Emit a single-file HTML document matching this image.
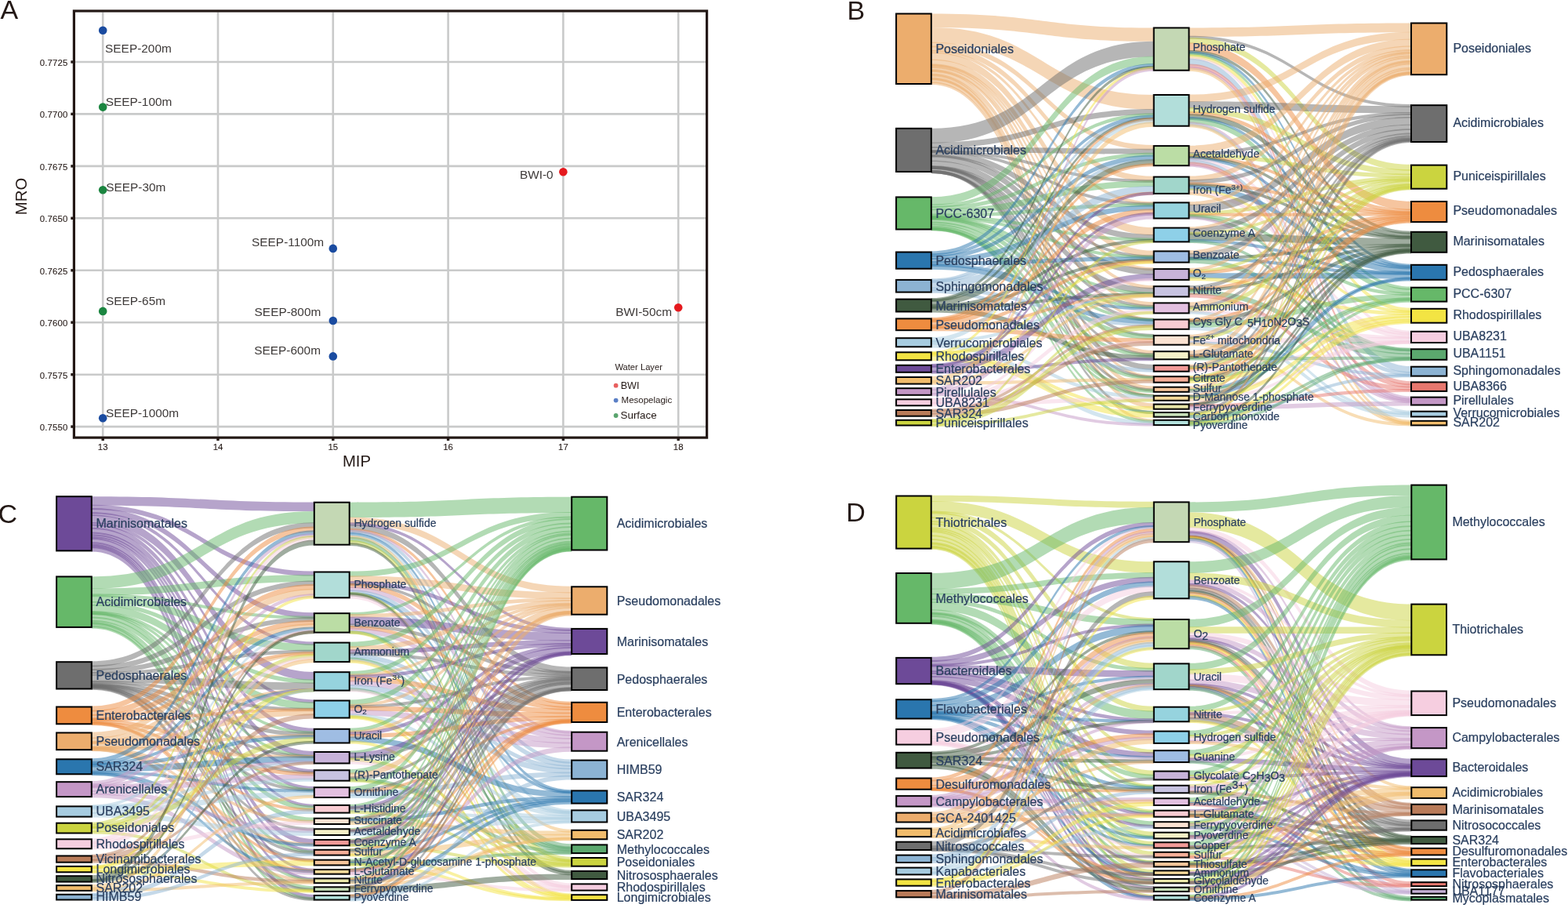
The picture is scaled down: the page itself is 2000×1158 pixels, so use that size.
<!DOCTYPE html>
<html><head><meta charset="utf-8"><title>Figure</title>
<style>html,body{margin:0;padding:0;background:#fff;} svg{display:block;} text{font-family:'Liberation Sans', Arial, Helvetica, sans-serif;}</style>
</head><body>
<svg width="2000" height="1158" viewBox="0 0 2000 1158">
<rect width="2000" height="1158" fill="#fff"/>
<line x1="131.2" y1="15.5" x2="131.2" y2="556.5" stroke="#C9CACA" stroke-width="2.6"/>
<line x1="278.0" y1="15.5" x2="278.0" y2="556.5" stroke="#C9CACA" stroke-width="2.6"/>
<line x1="424.8" y1="15.5" x2="424.8" y2="556.5" stroke="#C9CACA" stroke-width="2.6"/>
<line x1="571.6" y1="15.5" x2="571.6" y2="556.5" stroke="#C9CACA" stroke-width="2.6"/>
<line x1="718.4" y1="15.5" x2="718.4" y2="556.5" stroke="#C9CACA" stroke-width="2.6"/>
<line x1="865.2" y1="15.5" x2="865.2" y2="556.5" stroke="#C9CACA" stroke-width="2.6"/>
<line x1="96" y1="79.0" x2="900" y2="79.0" stroke="#C9CACA" stroke-width="2.6"/>
<line x1="96" y1="145.4" x2="900" y2="145.4" stroke="#C9CACA" stroke-width="2.6"/>
<line x1="96" y1="211.9" x2="900" y2="211.9" stroke="#C9CACA" stroke-width="2.6"/>
<line x1="96" y1="278.3" x2="900" y2="278.3" stroke="#C9CACA" stroke-width="2.6"/>
<line x1="96" y1="344.8" x2="900" y2="344.8" stroke="#C9CACA" stroke-width="2.6"/>
<line x1="96" y1="411.2" x2="900" y2="411.2" stroke="#C9CACA" stroke-width="2.6"/>
<line x1="96" y1="477.7" x2="900" y2="477.7" stroke="#C9CACA" stroke-width="2.6"/>
<line x1="96" y1="544.1" x2="900" y2="544.1" stroke="#C9CACA" stroke-width="2.6"/>
<rect x="94.4" y="14" width="807.2" height="544.1" fill="none" stroke="#231815" stroke-width="3.2"/>
<line x1="90.3" y1="79.0" x2="94" y2="79.0" stroke="#231815" stroke-width="3.4"/>
<text x="86.5" y="83.9" text-anchor="end" font-size="11.4" fill="#231815" stroke="#231815" stroke-width="0.1" letter-spacing="0.15">0.7725</text>
<line x1="90.3" y1="145.4" x2="94" y2="145.4" stroke="#231815" stroke-width="3.4"/>
<text x="86.5" y="150.3" text-anchor="end" font-size="11.4" fill="#231815" stroke="#231815" stroke-width="0.1" letter-spacing="0.15">0.7700</text>
<line x1="90.3" y1="211.9" x2="94" y2="211.9" stroke="#231815" stroke-width="3.4"/>
<text x="86.5" y="216.8" text-anchor="end" font-size="11.4" fill="#231815" stroke="#231815" stroke-width="0.1" letter-spacing="0.15">0.7675</text>
<line x1="90.3" y1="278.3" x2="94" y2="278.3" stroke="#231815" stroke-width="3.4"/>
<text x="86.5" y="283.2" text-anchor="end" font-size="11.4" fill="#231815" stroke="#231815" stroke-width="0.1" letter-spacing="0.15">0.7650</text>
<line x1="90.3" y1="344.8" x2="94" y2="344.8" stroke="#231815" stroke-width="3.4"/>
<text x="86.5" y="349.7" text-anchor="end" font-size="11.4" fill="#231815" stroke="#231815" stroke-width="0.1" letter-spacing="0.15">0.7625</text>
<line x1="90.3" y1="411.2" x2="94" y2="411.2" stroke="#231815" stroke-width="3.4"/>
<text x="86.5" y="416.1" text-anchor="end" font-size="11.4" fill="#231815" stroke="#231815" stroke-width="0.1" letter-spacing="0.15">0.7600</text>
<line x1="90.3" y1="477.7" x2="94" y2="477.7" stroke="#231815" stroke-width="3.4"/>
<text x="86.5" y="482.6" text-anchor="end" font-size="11.4" fill="#231815" stroke="#231815" stroke-width="0.1" letter-spacing="0.15">0.7575</text>
<line x1="90.3" y1="544.1" x2="94" y2="544.1" stroke="#231815" stroke-width="3.4"/>
<text x="86.5" y="549.0" text-anchor="end" font-size="11.4" fill="#231815" stroke="#231815" stroke-width="0.1" letter-spacing="0.15">0.7550</text>
<line x1="131.2" y1="558" x2="131.2" y2="562" stroke="#231815" stroke-width="3.4"/>
<text x="131.2" y="574.4" text-anchor="middle" font-size="11.4" fill="#231815" stroke="#231815" stroke-width="0.1">13</text>
<line x1="278.0" y1="558" x2="278.0" y2="562" stroke="#231815" stroke-width="3.4"/>
<text x="278.0" y="574.4" text-anchor="middle" font-size="11.4" fill="#231815" stroke="#231815" stroke-width="0.1">14</text>
<line x1="424.8" y1="558" x2="424.8" y2="562" stroke="#231815" stroke-width="3.4"/>
<text x="424.8" y="574.4" text-anchor="middle" font-size="11.4" fill="#231815" stroke="#231815" stroke-width="0.1">15</text>
<line x1="571.6" y1="558" x2="571.6" y2="562" stroke="#231815" stroke-width="3.4"/>
<text x="571.6" y="574.4" text-anchor="middle" font-size="11.4" fill="#231815" stroke="#231815" stroke-width="0.1">16</text>
<line x1="718.4" y1="558" x2="718.4" y2="562" stroke="#231815" stroke-width="3.4"/>
<text x="718.4" y="574.4" text-anchor="middle" font-size="11.4" fill="#231815" stroke="#231815" stroke-width="0.1">17</text>
<line x1="865.2" y1="558" x2="865.2" y2="562" stroke="#231815" stroke-width="3.4"/>
<text x="865.2" y="574.4" text-anchor="middle" font-size="11.4" fill="#231815" stroke="#231815" stroke-width="0.1">18</text>
<text x="455" y="594.6" text-anchor="middle" font-size="20.3" fill="#231815">MIP</text>
<text transform="translate(33.9,250.5) rotate(-90)" text-anchor="middle" font-size="20.3" fill="#231815">MRO</text>
<circle cx="131.2" cy="38.7" r="5.3" fill="#1A4BA0"/>
<circle cx="131.2" cy="136.6" r="5.3" fill="#1B8540"/>
<circle cx="131.2" cy="242.2" r="5.3" fill="#1B8540"/>
<circle cx="131.2" cy="396.9" r="5.3" fill="#1B8540"/>
<circle cx="131.2" cy="533.2" r="5.3" fill="#1A4BA0"/>
<circle cx="424.8" cy="316.9" r="5.3" fill="#1A4BA0"/>
<circle cx="424.8" cy="409.0" r="5.3" fill="#1A4BA0"/>
<circle cx="424.8" cy="454.4" r="5.3" fill="#1A4BA0"/>
<circle cx="718.4" cy="219.2" r="5.3" fill="#E5191E"/>
<circle cx="865.2" cy="392.2" r="5.3" fill="#E5191E"/>
<text x="134.1" y="66.6" text-anchor="start" font-size="15.4" fill="#3E3A39">SEEP-200m</text>
<text x="134.7" y="135.0" text-anchor="start" font-size="15.4" fill="#3E3A39">SEEP-100m</text>
<text x="135.3" y="243.8" text-anchor="start" font-size="15.4" fill="#3E3A39">SEEP-30m</text>
<text x="134.9" y="389.2" text-anchor="start" font-size="15.4" fill="#3E3A39">SEEP-65m</text>
<text x="134.9" y="532.3" text-anchor="start" font-size="15.4" fill="#3E3A39">SEEP-1000m</text>
<text x="413.2" y="313.6" text-anchor="end" font-size="15.4" fill="#3E3A39">SEEP-1100m</text>
<text x="409.3" y="402.8" text-anchor="end" font-size="15.4" fill="#3E3A39">SEEP-800m</text>
<text x="409.0" y="451.7" text-anchor="end" font-size="15.4" fill="#3E3A39">SEEP-600m</text>
<text x="705.7" y="228.0" text-anchor="end" font-size="15.4" fill="#3E3A39">BWI-0</text>
<text x="857.0" y="403.0" text-anchor="end" font-size="15.4" fill="#3E3A39">BWI-50cm</text>
<text x="784.4" y="471.6" font-size="11.2" fill="#231815">Water Layer</text>
<circle cx="785.6" cy="491.7" r="2.9" fill="#E8605F"/>
<circle cx="785.6" cy="510.6" r="2.9" fill="#5A7FC6"/>
<circle cx="785.6" cy="530.0" r="2.9" fill="#5AA46E"/>
<text x="791.7" y="495.6" font-size="12.6" fill="#231815">BWI</text>
<text x="792.6" y="514.1" font-size="11.5" fill="#231815">Mesopelagic</text>
<text x="791.5" y="533.5" font-size="13.4" fill="#231815">Surface</text>
<g fill-opacity="0.5" stroke-opacity="0.5" stroke-width="0">
<path d="M1187.8,17.50C1329.8,17.50 1329.8,35.50 1471.7,35.50L1471.7,52.87C1329.8,52.87 1329.8,35.12 1187.8,35.12Z" fill="#ECAD6D" stroke="#ECAD6D"/>
<path d="M1187.8,35.12C1329.8,35.12 1329.8,121.00 1471.7,121.00L1471.7,139.92C1329.8,139.92 1329.8,54.76 1187.8,54.76Z" fill="#ECAD6D" stroke="#ECAD6D"/>
<path d="M1187.8,53.75C1329.8,53.75 1329.8,185.07 1471.7,185.07L1471.7,191.62C1329.8,191.62 1329.8,60.40 1187.8,60.40Z" fill="#ECAD6D" stroke="#ECAD6D"/>
<path d="M1187.8,58.49C1329.8,58.49 1329.8,224.69 1471.7,224.69L1471.7,231.87C1329.8,231.87 1329.8,65.71 1187.8,65.71Z" fill="#ECAD6D" stroke="#ECAD6D"/>
<path d="M1187.8,63.70C1329.8,63.70 1329.8,257.30 1471.7,257.30L1471.7,261.36C1329.8,261.36 1329.8,67.92 1187.8,67.92Z" fill="#ECAD6D" stroke="#ECAD6D"/>
<path d="M1187.8,66.47C1329.8,66.47 1329.8,290.22 1471.7,290.22L1471.7,300.20C1329.8,300.20 1329.8,76.63 1187.8,76.63Z" fill="#ECAD6D" stroke="#ECAD6D"/>
<path d="M1187.8,75.60C1329.8,75.60 1329.8,319.71 1471.7,319.71L1471.7,328.05C1329.8,328.05 1329.8,84.01 1187.8,84.01Z" fill="#ECAD6D" stroke="#ECAD6D"/>
<path d="M1187.8,81.36C1329.8,81.36 1329.8,341.13 1471.7,341.13L1471.7,345.13C1329.8,345.13 1329.8,85.36 1187.8,85.36Z" fill="#ECAD6D" stroke="#ECAD6D"/>
<path d="M1187.8,82.30C1329.8,82.30 1329.8,364.10 1471.7,364.10L1471.7,368.71C1329.8,368.71 1329.8,87.02 1187.8,87.02Z" fill="#ECAD6D" stroke="#ECAD6D"/>
<path d="M1187.8,84.82C1329.8,84.82 1329.8,385.30 1471.7,385.30L1471.7,391.32C1329.8,391.32 1329.8,91.04 1187.8,91.04Z" fill="#ECAD6D" stroke="#ECAD6D"/>
<path d="M1187.8,88.08C1329.8,88.08 1329.8,405.63 1471.7,405.63L1471.7,409.63C1329.8,409.63 1329.8,92.08 1187.8,92.08Z" fill="#ECAD6D" stroke="#ECAD6D"/>
<path d="M1187.8,89.23C1329.8,89.23 1329.8,447.12 1471.7,447.12L1471.7,453.45C1329.8,453.45 1329.8,96.00 1187.8,96.00Z" fill="#ECAD6D" stroke="#ECAD6D"/>
<path d="M1187.8,93.55C1329.8,93.55 1329.8,478.67 1471.7,478.67L1471.7,482.67C1329.8,482.67 1329.8,97.55 1187.8,97.55Z" fill="#ECAD6D" stroke="#ECAD6D"/>
<path d="M1187.8,95.02C1329.8,95.02 1329.8,492.60 1471.7,492.60L1471.7,498.53C1329.8,498.53 1329.8,101.43 1187.8,101.43Z" fill="#ECAD6D" stroke="#ECAD6D"/>
<path d="M1187.8,98.55C1329.8,98.55 1329.8,502.86 1471.7,502.86L1471.7,506.86C1329.8,506.86 1329.8,102.55 1187.8,102.55Z" fill="#ECAD6D" stroke="#ECAD6D"/>
<path d="M1187.8,99.68C1329.8,99.68 1329.8,514.50 1471.7,514.50L1471.7,520.46C1329.8,520.46 1329.8,106.10 1187.8,106.10Z" fill="#ECAD6D" stroke="#ECAD6D"/>
<path d="M1187.8,103.95C1329.8,103.95 1329.8,534.65 1471.7,534.65L1471.7,538.65C1329.8,538.65 1329.8,108.10 1187.8,108.10Z" fill="#ECAD6D" stroke="#ECAD6D"/>
<path d="M1187.8,163.80C1329.8,163.80 1329.8,52.87 1471.7,52.87L1471.7,72.14C1329.8,72.14 1329.8,182.67 1187.8,182.67Z" fill="#6E6E6E" stroke="#6E6E6E"/>
<path d="M1187.8,181.76C1329.8,181.76 1329.8,139.01 1471.7,139.01L1471.7,146.18C1329.8,146.18 1329.8,188.94 1187.8,188.94Z" fill="#6E6E6E" stroke="#6E6E6E"/>
<path d="M1187.8,187.08C1329.8,187.08 1329.8,189.64 1471.7,189.64L1471.7,196.69C1329.8,196.69 1329.8,194.12 1187.8,194.12Z" fill="#6E6E6E" stroke="#6E6E6E"/>
<path d="M1187.8,191.18C1329.8,191.18 1329.8,228.95 1471.7,228.95L1471.7,232.95C1329.8,232.95 1329.8,195.18 1187.8,195.18Z" fill="#6E6E6E" stroke="#6E6E6E"/>
<path d="M1187.8,191.19C1329.8,191.19 1329.8,258.27 1471.7,258.27L1471.7,262.27C1329.8,262.27 1329.8,195.19 1187.8,195.19Z" fill="#6E6E6E" stroke="#6E6E6E"/>
<path d="M1187.8,192.33C1329.8,192.33 1329.8,298.94 1471.7,298.94L1471.7,306.37C1329.8,306.37 1329.8,199.72 1187.8,199.72Z" fill="#6E6E6E" stroke="#6E6E6E"/>
<path d="M1187.8,196.85C1329.8,196.85 1329.8,325.36 1471.7,325.36L1471.7,329.36C1329.8,329.36 1329.8,200.85 1187.8,200.85Z" fill="#6E6E6E" stroke="#6E6E6E"/>
<path d="M1187.8,198.09C1329.8,198.09 1329.8,342.43 1471.7,342.43L1471.7,350.56C1329.8,350.56 1329.8,206.11 1187.8,206.11Z" fill="#6E6E6E" stroke="#6E6E6E"/>
<path d="M1187.8,204.64C1329.8,204.64 1329.8,366.88 1471.7,366.88L1471.7,375.07C1329.8,375.07 1329.8,212.88 1187.8,212.88Z" fill="#6E6E6E" stroke="#6E6E6E"/>
<path d="M1187.8,210.90C1329.8,210.90 1329.8,388.93 1471.7,388.93L1471.7,392.93C1329.8,392.93 1329.8,214.90 1187.8,214.90Z" fill="#6E6E6E" stroke="#6E6E6E"/>
<path d="M1187.8,211.63C1329.8,211.63 1329.8,405.76 1471.7,405.76L1471.7,409.76C1329.8,409.76 1329.8,215.63 1187.8,215.63Z" fill="#6E6E6E" stroke="#6E6E6E"/>
<path d="M1187.8,211.63C1329.8,211.63 1329.8,425.90 1471.7,425.90L1471.7,429.90C1329.8,429.90 1329.8,215.63 1187.8,215.63Z" fill="#6E6E6E" stroke="#6E6E6E"/>
<path d="M1187.8,211.63C1329.8,211.63 1329.8,450.37 1471.7,450.37L1471.7,454.37C1329.8,454.37 1329.8,215.63 1187.8,215.63Z" fill="#6E6E6E" stroke="#6E6E6E"/>
<path d="M1187.8,212.72C1329.8,212.72 1329.8,464.98 1471.7,464.98L1471.7,472.11C1329.8,472.11 1329.8,219.90 1187.8,219.90Z" fill="#6E6E6E" stroke="#6E6E6E"/>
<path d="M1187.8,216.98C1329.8,216.98 1329.8,479.14 1471.7,479.14L1471.7,483.14C1329.8,483.14 1329.8,220.98 1187.8,220.98Z" fill="#6E6E6E" stroke="#6E6E6E"/>
<path d="M1187.8,216.99C1329.8,216.99 1329.8,495.44 1471.7,495.44L1471.7,499.44C1329.8,499.44 1329.8,220.99 1187.8,220.99Z" fill="#6E6E6E" stroke="#6E6E6E"/>
<path d="M1187.8,217.00C1329.8,217.00 1329.8,503.03 1471.7,503.03L1471.7,507.03C1329.8,507.03 1329.8,221.00 1187.8,221.00Z" fill="#6E6E6E" stroke="#6E6E6E"/>
<path d="M1187.8,217.00C1329.8,217.00 1329.8,524.00 1471.7,524.00L1471.7,528.00C1329.8,528.00 1329.8,221.00 1187.8,221.00Z" fill="#6E6E6E" stroke="#6E6E6E"/>
<path d="M1187.8,251.14C1329.8,251.14 1329.8,71.85 1471.7,71.85L1471.7,82.35C1329.8,82.35 1329.8,261.75 1187.8,261.75Z" fill="#66B869" stroke="#66B869"/>
<path d="M1187.8,260.38C1329.8,260.38 1329.8,144.16 1471.7,144.16L1471.7,148.79C1329.8,148.79 1329.8,265.11 1187.8,265.11Z" fill="#66B869" stroke="#66B869"/>
<path d="M1187.8,262.91C1329.8,262.91 1329.8,194.65 1471.7,194.65L1471.7,199.77C1329.8,199.77 1329.8,268.13 1187.8,268.13Z" fill="#66B869" stroke="#66B869"/>
<path d="M1187.8,266.28C1329.8,266.28 1329.8,230.19 1471.7,230.19L1471.7,238.17C1329.8,238.17 1329.8,274.32 1187.8,274.32Z" fill="#66B869" stroke="#66B869"/>
<path d="M1187.8,272.47C1329.8,272.47 1329.8,259.18 1471.7,259.18L1471.7,263.71C1329.8,263.71 1329.8,277.19 1187.8,277.19Z" fill="#66B869" stroke="#66B869"/>
<path d="M1187.8,274.25C1329.8,274.25 1329.8,303.65 1471.7,303.65L1471.7,307.65C1329.8,307.65 1329.8,278.25 1187.8,278.25Z" fill="#66B869" stroke="#66B869"/>
<path d="M1187.8,274.92C1329.8,274.92 1329.8,325.86 1471.7,325.86L1471.7,329.86C1329.8,329.86 1329.8,278.92 1187.8,278.92Z" fill="#66B869" stroke="#66B869"/>
<path d="M1187.8,275.44C1329.8,275.44 1329.8,372.36 1471.7,372.36L1471.7,376.36C1329.8,376.36 1329.8,279.44 1187.8,279.44Z" fill="#66B869" stroke="#66B869"/>
<path d="M1187.8,276.21C1329.8,276.21 1329.8,390.36 1471.7,390.36L1471.7,394.36C1329.8,394.36 1329.8,280.21 1187.8,280.21Z" fill="#66B869" stroke="#66B869"/>
<path d="M1187.8,277.10C1329.8,277.10 1329.8,405.88 1471.7,405.88L1471.7,409.88C1329.8,409.88 1329.8,281.10 1187.8,281.10Z" fill="#66B869" stroke="#66B869"/>
<path d="M1187.8,278.18C1329.8,278.18 1329.8,426.85 1471.7,426.85L1471.7,433.33C1329.8,433.33 1329.8,284.70 1187.8,284.70Z" fill="#66B869" stroke="#66B869"/>
<path d="M1187.8,282.56C1329.8,282.56 1329.8,451.28 1471.7,451.28L1471.7,455.73C1329.8,455.73 1329.8,287.35 1187.8,287.35Z" fill="#66B869" stroke="#66B869"/>
<path d="M1187.8,285.15C1329.8,285.15 1329.8,480.04 1471.7,480.04L1471.7,484.53C1329.8,484.53 1329.8,289.98 1187.8,289.98Z" fill="#66B869" stroke="#66B869"/>
<path d="M1187.8,287.78C1329.8,287.78 1329.8,496.34 1471.7,496.34L1471.7,500.90C1329.8,500.90 1329.8,292.69 1187.8,292.69Z" fill="#66B869" stroke="#66B869"/>
<path d="M1187.8,289.74C1329.8,289.74 1329.8,503.15 1471.7,503.15L1471.7,507.15C1329.8,507.15 1329.8,293.74 1187.8,293.74Z" fill="#66B869" stroke="#66B869"/>
<path d="M1187.8,290.00C1329.8,290.00 1329.8,524.11 1471.7,524.11L1471.7,528.11C1329.8,528.11 1329.8,294.00 1187.8,294.00Z" fill="#66B869" stroke="#66B869"/>
<path d="M1187.8,290.31C1329.8,290.31 1329.8,535.67 1471.7,535.67L1471.7,539.67C1329.8,539.67 1329.8,294.31 1187.8,294.31Z" fill="#66B869" stroke="#66B869"/>
<path d="M1187.8,320.40C1329.8,320.40 1329.8,80.96 1471.7,80.96L1471.7,86.33C1329.8,86.33 1329.8,325.52 1187.8,325.52Z" fill="#2A76AE" stroke="#2A76AE"/>
<path d="M1187.8,323.32C1329.8,323.32 1329.8,146.59 1471.7,146.59L1471.7,151.21C1329.8,151.21 1329.8,327.80 1187.8,327.80Z" fill="#2A76AE" stroke="#2A76AE"/>
<path d="M1187.8,325.60C1329.8,325.60 1329.8,197.57 1471.7,197.57L1471.7,203.18C1329.8,203.18 1329.8,331.00 1187.8,331.00Z" fill="#2A76AE" stroke="#2A76AE"/>
<path d="M1187.8,328.88C1329.8,328.88 1329.8,261.60 1471.7,261.60L1471.7,268.28C1329.8,268.28 1329.8,335.49 1187.8,335.49Z" fill="#2A76AE" stroke="#2A76AE"/>
<path d="M1187.8,333.37C1329.8,333.37 1329.8,327.25 1471.7,327.25L1471.7,332.44C1329.8,332.44 1329.8,338.31 1187.8,338.31Z" fill="#2A76AE" stroke="#2A76AE"/>
<path d="M1187.8,335.90C1329.8,335.90 1329.8,391.79 1471.7,391.79L1471.7,395.79C1329.8,395.79 1329.8,339.90 1187.8,339.90Z" fill="#2A76AE" stroke="#2A76AE"/>
<path d="M1187.8,337.50C1329.8,337.50 1329.8,406.93 1471.7,406.93L1471.7,413.32C1329.8,413.32 1329.8,343.78 1187.8,343.78Z" fill="#2A76AE" stroke="#2A76AE"/>
<path d="M1187.8,355.36C1329.8,355.36 1329.8,148.60 1471.7,148.60L1471.7,152.60C1329.8,152.60 1329.8,359.36 1187.8,359.36Z" fill="#8CB3D3" stroke="#8CB3D3"/>
<path d="M1187.8,356.71C1329.8,356.71 1329.8,200.98 1471.7,200.98L1471.7,205.13C1329.8,205.13 1329.8,360.73 1187.8,360.73Z" fill="#8CB3D3" stroke="#8CB3D3"/>
<path d="M1187.8,359.09C1329.8,359.09 1329.8,236.97 1471.7,236.97L1471.7,246.62C1329.8,246.62 1329.8,368.21 1187.8,368.21Z" fill="#8CB3D3" stroke="#8CB3D3"/>
<path d="M1187.8,366.56C1329.8,366.56 1329.8,411.15 1471.7,411.15L1471.7,416.00C1329.8,416.00 1329.8,371.31 1187.8,371.31Z" fill="#8CB3D3" stroke="#8CB3D3"/>
<path d="M1187.8,369.11C1329.8,369.11 1329.8,470.08 1471.7,470.08L1471.7,474.80C1329.8,474.80 1329.8,373.70 1187.8,373.70Z" fill="#8CB3D3" stroke="#8CB3D3"/>
<path d="M1187.8,380.12C1329.8,380.12 1329.8,83.73 1471.7,83.73L1471.7,87.73C1329.8,87.73 1329.8,384.12 1187.8,384.12Z" fill="#405A40" stroke="#405A40"/>
<path d="M1187.8,381.02C1329.8,381.02 1329.8,149.45 1471.7,149.45L1471.7,153.45C1329.8,153.45 1329.8,385.02 1187.8,385.02Z" fill="#405A40" stroke="#405A40"/>
<path d="M1187.8,382.52C1329.8,382.52 1329.8,203.10 1471.7,203.10L1471.7,210.18C1329.8,210.18 1329.8,389.84 1187.8,389.84Z" fill="#405A40" stroke="#405A40"/>
<path d="M1187.8,387.85C1329.8,387.85 1329.8,304.71 1471.7,304.71L1471.7,308.91C1329.8,308.91 1329.8,392.16 1187.8,392.16Z" fill="#405A40" stroke="#405A40"/>
<path d="M1187.8,389.31C1329.8,389.31 1329.8,329.58 1471.7,329.58L1471.7,333.58C1329.8,333.58 1329.8,393.31 1187.8,393.31Z" fill="#405A40" stroke="#405A40"/>
<path d="M1187.8,390.46C1329.8,390.46 1329.8,373.25 1471.7,373.25L1471.7,377.25C1329.8,377.25 1329.8,394.53 1187.8,394.53Z" fill="#405A40" stroke="#405A40"/>
<path d="M1187.8,392.34C1329.8,392.34 1329.8,453.53 1471.7,453.53L1471.7,459.18C1329.8,459.18 1329.8,398.59 1187.8,398.59Z" fill="#405A40" stroke="#405A40"/>
<path d="M1187.8,404.79C1329.8,404.79 1329.8,150.18 1471.7,150.18L1471.7,154.18C1329.8,154.18 1329.8,408.79 1187.8,408.79Z" fill="#EE8C3F" stroke="#EE8C3F"/>
<path d="M1187.8,406.08C1329.8,406.08 1329.8,208.15 1471.7,208.15L1471.7,212.30C1329.8,212.30 1329.8,410.31 1187.8,410.31Z" fill="#EE8C3F" stroke="#EE8C3F"/>
<path d="M1187.8,407.50C1329.8,407.50 1329.8,244.46 1471.7,244.46L1471.7,248.46C1329.8,248.46 1329.8,411.50 1187.8,411.50Z" fill="#EE8C3F" stroke="#EE8C3F"/>
<path d="M1187.8,408.84C1329.8,408.84 1329.8,266.27 1471.7,266.27L1471.7,272.97C1329.8,272.97 1329.8,415.85 1187.8,415.85Z" fill="#EE8C3F" stroke="#EE8C3F"/>
<path d="M1187.8,413.81C1329.8,413.81 1329.8,330.71 1471.7,330.71L1471.7,335.50C1329.8,335.50 1329.8,418.65 1187.8,418.65Z" fill="#EE8C3F" stroke="#EE8C3F"/>
<path d="M1187.8,415.59C1329.8,415.59 1329.8,374.15 1471.7,374.15L1471.7,378.15C1329.8,378.15 1329.8,419.59 1187.8,419.59Z" fill="#EE8C3F" stroke="#EE8C3F"/>
<path d="M1187.8,416.52C1329.8,416.52 1329.8,431.18 1471.7,431.18L1471.7,436.89C1329.8,436.89 1329.8,422.30 1187.8,422.30Z" fill="#EE8C3F" stroke="#EE8C3F"/>
<path d="M1187.8,430.10C1329.8,430.10 1329.8,151.45 1471.7,151.45L1471.7,157.37C1329.8,157.37 1329.8,436.27 1187.8,436.27Z" fill="#A7CCE0" stroke="#A7CCE0"/>
<path d="M1187.8,433.41C1329.8,433.41 1329.8,374.41 1471.7,374.41L1471.7,378.41C1329.8,378.41 1329.8,437.41 1187.8,437.41Z" fill="#A7CCE0" stroke="#A7CCE0"/>
<path d="M1187.8,434.55C1329.8,434.55 1329.8,504.18 1471.7,504.18L1471.7,508.78C1329.8,508.78 1329.8,439.58 1187.8,439.58Z" fill="#A7CCE0" stroke="#A7CCE0"/>
<path d="M1187.8,437.38C1329.8,437.38 1329.8,536.74 1471.7,536.74L1471.7,542.17C1329.8,542.17 1329.8,443.40 1187.8,443.40Z" fill="#A7CCE0" stroke="#A7CCE0"/>
<path d="M1187.8,448.06C1329.8,448.06 1329.8,84.97 1471.7,84.97L1471.7,88.97C1329.8,88.97 1329.8,452.06 1187.8,452.06Z" fill="#F3E443" stroke="#F3E443"/>
<path d="M1187.8,448.92C1329.8,448.92 1329.8,332.50 1471.7,332.50L1471.7,336.50C1329.8,336.50 1329.8,452.92 1187.8,452.92Z" fill="#F3E443" stroke="#F3E443"/>
<path d="M1187.8,449.03C1329.8,449.03 1329.8,374.64 1471.7,374.64L1471.7,378.64C1329.8,378.64 1329.8,453.03 1187.8,453.03Z" fill="#F3E443" stroke="#F3E443"/>
<path d="M1187.8,449.94C1329.8,449.94 1329.8,518.26 1471.7,518.26L1471.7,522.80C1329.8,522.80 1329.8,454.84 1187.8,454.84Z" fill="#F3E443" stroke="#F3E443"/>
<path d="M1187.8,452.86C1329.8,452.86 1329.8,525.33 1471.7,525.33L1471.7,532.60C1329.8,532.60 1329.8,460.19 1187.8,460.19Z" fill="#F3E443" stroke="#F3E443"/>
<path d="M1187.8,463.88C1329.8,463.88 1329.8,244.82 1471.7,244.82L1471.7,248.82C1329.8,248.82 1329.8,467.88 1187.8,467.88Z" fill="#6D4A98" stroke="#6D4A98"/>
<path d="M1187.8,464.87C1329.8,464.87 1329.8,270.82 1471.7,270.82L1471.7,274.82C1329.8,274.82 1329.8,468.90 1187.8,468.90Z" fill="#6D4A98" stroke="#6D4A98"/>
<path d="M1187.8,467.07C1329.8,467.07 1329.8,349.10 1471.7,349.10L1471.7,357.23C1329.8,357.23 1329.8,475.27 1187.8,475.27Z" fill="#6D4A98" stroke="#6D4A98"/>
<path d="M1187.8,472.68C1329.8,472.68 1329.8,456.19 1471.7,456.19L1471.7,460.19C1329.8,460.19 1329.8,476.68 1187.8,476.68Z" fill="#6D4A98" stroke="#6D4A98"/>
<path d="M1187.8,480.00C1329.8,480.00 1329.8,155.23 1471.7,155.23L1471.7,161.74C1329.8,161.74 1329.8,486.73 1187.8,486.73Z" fill="#F1BC6C" stroke="#F1BC6C"/>
<path d="M1187.8,484.63C1329.8,484.63 1329.8,375.53 1471.7,375.53L1471.7,379.53C1329.8,379.53 1329.8,488.71 1187.8,488.71Z" fill="#F1BC6C" stroke="#F1BC6C"/>
<path d="M1187.8,486.51C1329.8,486.51 1329.8,482.28 1471.7,482.28L1471.7,486.28C1329.8,486.28 1329.8,490.70 1187.8,490.70Z" fill="#F1BC6C" stroke="#F1BC6C"/>
<path d="M1187.8,494.10C1329.8,494.10 1329.8,86.61 1471.7,86.61L1471.7,90.80C1329.8,90.80 1329.8,498.36 1187.8,498.36Z" fill="#C497C6" stroke="#C497C6"/>
<path d="M1187.8,496.34C1329.8,496.34 1329.8,272.68 1471.7,272.68L1471.7,279.48C1329.8,279.48 1329.8,503.51 1187.8,503.51Z" fill="#C497C6" stroke="#C497C6"/>
<path d="M1187.8,501.20C1329.8,501.20 1329.8,539.59 1471.7,539.59L1471.7,543.59C1329.8,543.59 1329.8,505.20 1187.8,505.20Z" fill="#C497C6" stroke="#C497C6"/>
<path d="M1187.8,507.51C1329.8,507.51 1329.8,354.70 1471.7,354.70L1471.7,358.70C1329.8,358.70 1329.8,511.51 1187.8,511.51Z" fill="#F6CEE0" stroke="#F6CEE0"/>
<path d="M1187.8,508.62C1329.8,508.62 1329.8,393.41 1471.7,393.41L1471.7,399.28C1329.8,399.28 1329.8,514.80 1187.8,514.80Z" fill="#F6CEE0" stroke="#F6CEE0"/>
<path d="M1187.8,511.91C1329.8,511.91 1329.8,433.99 1471.7,433.99L1471.7,437.99C1329.8,437.99 1329.8,515.91 1187.8,515.91Z" fill="#F6CEE0" stroke="#F6CEE0"/>
<path d="M1187.8,513.02C1329.8,513.02 1329.8,506.58 1471.7,506.58L1471.7,511.47C1329.8,511.47 1329.8,518.40 1187.8,518.40Z" fill="#F6CEE0" stroke="#F6CEE0"/>
<path d="M1187.8,521.56C1329.8,521.56 1329.8,413.42 1471.7,413.42L1471.7,417.42C1329.8,417.42 1329.8,525.56 1187.8,525.56Z" fill="#B97B59" stroke="#B97B59"/>
<path d="M1187.8,523.01C1329.8,523.01 1329.8,435.09 1471.7,435.09L1471.7,440.80C1329.8,440.80 1329.8,528.80 1187.8,528.80Z" fill="#B97B59" stroke="#B97B59"/>
<path d="M1187.8,526.60C1329.8,526.60 1329.8,484.02 1471.7,484.02L1471.7,488.80C1329.8,488.80 1329.8,531.80 1187.8,531.80Z" fill="#B97B59" stroke="#B97B59"/>
<path d="M1187.8,534.11C1329.8,534.11 1329.8,306.10 1471.7,306.10L1471.7,310.10C1329.8,310.10 1329.8,538.11 1187.8,538.11Z" fill="#CBD43F" stroke="#CBD43F"/>
<path d="M1187.8,535.09C1329.8,535.09 1329.8,396.79 1471.7,396.79L1471.7,400.79C1329.8,400.79 1329.8,539.09 1187.8,539.09Z" fill="#CBD43F" stroke="#CBD43F"/>
<path d="M1187.8,536.69C1329.8,536.69 1329.8,414.84 1471.7,414.84L1471.7,420.90C1329.8,420.90 1329.8,543.06 1187.8,543.06Z" fill="#CBD43F" stroke="#CBD43F"/>
<path d="M1187.8,540.24C1329.8,540.24 1329.8,508.58 1471.7,508.58L1471.7,512.58C1329.8,512.58 1329.8,544.24 1187.8,544.24Z" fill="#CBD43F" stroke="#CBD43F"/>
<path d="M1516.5,35.43C1658.2,35.43 1658.2,29.47 1800.0,29.47L1800.0,41.30C1658.2,41.30 1658.2,47.03 1516.5,47.03Z" fill="#ECAD6D" stroke="#ECAD6D"/>
<path d="M1516.5,45.69C1658.2,45.69 1658.2,132.95 1800.0,132.95L1800.0,136.95C1658.2,136.95 1658.2,49.69 1516.5,49.69Z" fill="#6E6E6E" stroke="#6E6E6E"/>
<path d="M1516.5,47.63C1658.2,47.63 1658.2,209.83 1800.0,209.83L1800.0,217.79C1658.2,217.79 1658.2,55.48 1516.5,55.48Z" fill="#CBD43F" stroke="#CBD43F"/>
<path d="M1516.5,54.47C1658.2,54.47 1658.2,256.82 1800.0,256.82L1800.0,267.89C1658.2,267.89 1658.2,65.29 1516.5,65.29Z" fill="#EE8C3F" stroke="#EE8C3F"/>
<path d="M1516.5,63.88C1658.2,63.88 1658.2,294.65 1800.0,294.65L1800.0,298.65C1658.2,298.65 1658.2,67.88 1516.5,67.88Z" fill="#405A40" stroke="#405A40"/>
<path d="M1516.5,65.52C1658.2,65.52 1658.2,336.67 1800.0,336.67L1800.0,340.67C1658.2,340.67 1658.2,69.52 1516.5,69.52Z" fill="#2A76AE" stroke="#2A76AE"/>
<path d="M1516.5,67.26C1658.2,67.26 1658.2,365.60 1800.0,365.60L1800.0,369.87C1658.2,369.87 1658.2,71.42 1516.5,71.42Z" fill="#66B869" stroke="#66B869"/>
<path d="M1516.5,69.22C1658.2,69.22 1658.2,392.70 1800.0,392.70L1800.0,397.97C1658.2,397.97 1658.2,74.35 1516.5,74.35Z" fill="#F3E443" stroke="#F3E443"/>
<path d="M1516.5,72.15C1658.2,72.15 1658.2,421.70 1800.0,421.70L1800.0,425.94C1658.2,425.94 1658.2,76.31 1516.5,76.31Z" fill="#F6CEE0" stroke="#F6CEE0"/>
<path d="M1516.5,74.57C1658.2,74.57 1658.2,467.07 1800.0,467.07L1800.0,475.73C1658.2,475.73 1658.2,83.19 1516.5,83.19Z" fill="#8CB3D3" stroke="#8CB3D3"/>
<path d="M1516.5,81.45C1658.2,81.45 1658.2,486.30 1800.0,486.30L1800.0,491.52C1658.2,491.52 1658.2,86.59 1516.5,86.59Z" fill="#E8786F" stroke="#E8786F"/>
<path d="M1516.5,84.39C1658.2,84.39 1658.2,505.50 1800.0,505.50L1800.0,509.75C1658.2,509.75 1658.2,88.55 1516.5,88.55Z" fill="#C497C6" stroke="#C497C6"/>
<path d="M1516.5,86.35C1658.2,86.35 1658.2,535.70 1800.0,535.70L1800.0,540.23C1658.2,540.23 1658.2,90.80 1516.5,90.80Z" fill="#F1BC6C" stroke="#F1BC6C"/>
<path d="M1516.5,120.55C1658.2,120.55 1658.2,40.84 1800.0,40.84L1800.0,50.62C1658.2,50.62 1658.2,130.15 1516.5,130.15Z" fill="#ECAD6D" stroke="#ECAD6D"/>
<path d="M1516.5,129.18C1658.2,129.18 1658.2,135.19 1800.0,135.19L1800.0,144.53C1658.2,144.53 1658.2,138.42 1516.5,138.42Z" fill="#6E6E6E" stroke="#6E6E6E"/>
<path d="M1516.5,137.01C1658.2,137.01 1658.2,216.15 1800.0,216.15L1800.0,223.54C1658.2,223.54 1658.2,144.29 1516.5,144.29Z" fill="#CBD43F" stroke="#CBD43F"/>
<path d="M1516.5,142.30C1658.2,142.30 1658.2,266.61 1800.0,266.61L1800.0,271.69C1658.2,271.69 1658.2,147.29 1516.5,147.29Z" fill="#EE8C3F" stroke="#EE8C3F"/>
<path d="M1516.5,145.15C1658.2,145.15 1658.2,296.48 1800.0,296.48L1800.0,303.10C1658.2,303.10 1658.2,151.63 1516.5,151.63Z" fill="#405A40" stroke="#405A40"/>
<path d="M1516.5,149.11C1658.2,149.11 1658.2,338.10 1800.0,338.10L1800.0,342.10C1658.2,342.10 1658.2,153.11 1516.5,153.11Z" fill="#2A76AE" stroke="#2A76AE"/>
<path d="M1516.5,150.65C1658.2,150.65 1658.2,367.81 1800.0,367.81L1800.0,374.80C1658.2,374.80 1658.2,157.44 1516.5,157.44Z" fill="#66B869" stroke="#66B869"/>
<path d="M1516.5,155.35C1658.2,155.35 1658.2,507.55 1800.0,507.55L1800.0,511.63C1658.2,511.63 1658.2,159.35 1516.5,159.35Z" fill="#C497C6" stroke="#C497C6"/>
<path d="M1516.5,157.06C1658.2,157.06 1658.2,523.57 1800.0,523.57L1800.0,527.57C1658.2,527.57 1658.2,161.06 1516.5,161.06Z" fill="#A7CCE0" stroke="#A7CCE0"/>
<path d="M1516.5,158.29C1658.2,158.29 1658.2,537.56 1800.0,537.56L1800.0,541.56C1658.2,541.56 1658.2,162.29 1516.5,162.29Z" fill="#F1BC6C" stroke="#F1BC6C"/>
<path d="M1516.5,185.69C1658.2,185.69 1658.2,49.82 1800.0,49.82L1800.0,59.82C1658.2,59.82 1658.2,195.51 1516.5,195.51Z" fill="#ECAD6D" stroke="#ECAD6D"/>
<path d="M1516.5,194.00C1658.2,194.00 1658.2,142.93 1800.0,142.93L1800.0,147.12C1658.2,147.12 1658.2,198.16 1516.5,198.16Z" fill="#6E6E6E" stroke="#6E6E6E"/>
<path d="M1516.5,195.96C1658.2,195.96 1658.2,221.57 1800.0,221.57L1800.0,226.84C1658.2,226.84 1658.2,201.16 1516.5,201.16Z" fill="#CBD43F" stroke="#CBD43F"/>
<path d="M1516.5,198.33C1658.2,198.33 1658.2,268.87 1800.0,268.87L1800.0,272.87C1658.2,272.87 1658.2,202.33 1516.5,202.33Z" fill="#EE8C3F" stroke="#EE8C3F"/>
<path d="M1516.5,198.80C1658.2,198.80 1658.2,300.29 1800.0,300.29L1800.0,304.29C1658.2,304.29 1658.2,202.80 1516.5,202.80Z" fill="#405A40" stroke="#405A40"/>
<path d="M1516.5,199.75C1658.2,199.75 1658.2,339.45 1800.0,339.45L1800.0,343.45C1658.2,343.45 1658.2,203.75 1516.5,203.75Z" fill="#2A76AE" stroke="#2A76AE"/>
<path d="M1516.5,201.40C1658.2,201.40 1658.2,423.74 1800.0,423.74L1800.0,428.03C1658.2,428.03 1658.2,205.60 1516.5,205.60Z" fill="#F6CEE0" stroke="#F6CEE0"/>
<path d="M1516.5,203.40C1658.2,203.40 1658.2,474.00 1800.0,474.00L1800.0,479.22C1658.2,479.22 1658.2,208.60 1516.5,208.60Z" fill="#8CB3D3" stroke="#8CB3D3"/>
<path d="M1516.5,206.40C1658.2,206.40 1658.2,489.32 1800.0,489.32L1800.0,494.61C1658.2,494.61 1658.2,211.60 1516.5,211.60Z" fill="#E8786F" stroke="#E8786F"/>
<path d="M1516.5,208.85C1658.2,208.85 1658.2,508.89 1800.0,508.89L1800.0,512.89C1658.2,512.89 1658.2,212.85 1516.5,212.85Z" fill="#C497C6" stroke="#C497C6"/>
<path d="M1516.5,224.58C1658.2,224.58 1658.2,58.44 1800.0,58.44L1800.0,65.16C1658.2,65.16 1658.2,231.22 1516.5,231.22Z" fill="#ECAD6D" stroke="#ECAD6D"/>
<path d="M1516.5,229.10C1658.2,229.10 1658.2,144.92 1800.0,144.92L1800.0,150.47C1658.2,150.47 1658.2,234.60 1516.5,234.60Z" fill="#6E6E6E" stroke="#6E6E6E"/>
<path d="M1516.5,232.40C1658.2,232.40 1658.2,270.05 1800.0,270.05L1800.0,274.31C1658.2,274.31 1658.2,236.60 1516.5,236.60Z" fill="#EE8C3F" stroke="#EE8C3F"/>
<path d="M1516.5,234.28C1658.2,234.28 1658.2,301.30 1800.0,301.30L1800.0,305.30C1658.2,305.30 1658.2,238.28 1516.5,238.28Z" fill="#405A40" stroke="#405A40"/>
<path d="M1516.5,236.05C1658.2,236.05 1658.2,341.27 1800.0,341.27L1800.0,348.17C1658.2,348.17 1658.2,242.78 1516.5,242.78Z" fill="#2A76AE" stroke="#2A76AE"/>
<path d="M1516.5,240.53C1658.2,240.53 1658.2,395.66 1800.0,395.66L1800.0,399.66C1658.2,399.66 1658.2,244.53 1516.5,244.53Z" fill="#F3E443" stroke="#F3E443"/>
<path d="M1516.5,242.18C1658.2,242.18 1658.2,425.83 1800.0,425.83L1800.0,431.39C1658.2,431.39 1658.2,247.59 1516.5,247.59Z" fill="#F6CEE0" stroke="#F6CEE0"/>
<path d="M1516.5,244.70C1658.2,244.70 1658.2,538.20 1800.0,538.20L1800.0,542.20C1658.2,542.20 1658.2,248.70 1516.5,248.70Z" fill="#F1BC6C" stroke="#F1BC6C"/>
<path d="M1516.5,257.30C1658.2,257.30 1658.2,63.06 1800.0,63.06L1800.0,67.93C1658.2,67.93 1658.2,262.10 1516.5,262.10Z" fill="#ECAD6D" stroke="#ECAD6D"/>
<path d="M1516.5,260.73C1658.2,260.73 1658.2,149.12 1800.0,149.12L1800.0,159.79C1658.2,159.79 1658.2,271.27 1516.5,271.27Z" fill="#6E6E6E" stroke="#6E6E6E"/>
<path d="M1516.5,269.90C1658.2,269.90 1658.2,224.64 1800.0,224.64L1800.0,229.51C1658.2,229.51 1658.2,274.70 1516.5,274.70Z" fill="#CBD43F" stroke="#CBD43F"/>
<path d="M1516.5,271.89C1658.2,271.89 1658.2,271.51 1800.0,271.51L1800.0,275.51C1658.2,275.51 1658.2,275.89 1516.5,275.89Z" fill="#EE8C3F" stroke="#EE8C3F"/>
<path d="M1516.5,273.08C1658.2,273.08 1658.2,372.74 1800.0,372.74L1800.0,377.07C1658.2,377.07 1658.2,277.29 1516.5,277.29Z" fill="#66B869" stroke="#66B869"/>
<path d="M1516.5,274.50C1658.2,274.50 1658.2,443.63 1800.0,443.63L1800.0,447.63C1658.2,447.63 1658.2,278.50 1516.5,278.50Z" fill="#5BA86E" stroke="#5BA86E"/>
<path d="M1516.5,275.65C1658.2,275.65 1658.2,510.15 1800.0,510.15L1800.0,514.15C1658.2,514.15 1658.2,279.65 1516.5,279.65Z" fill="#C497C6" stroke="#C497C6"/>
<path d="M1516.5,289.25C1658.2,289.25 1658.2,65.50 1800.0,65.50L1800.0,69.50C1658.2,69.50 1658.2,293.25 1516.5,293.25Z" fill="#ECAD6D" stroke="#ECAD6D"/>
<path d="M1516.5,291.01C1658.2,291.01 1658.2,158.66 1800.0,158.66L1800.0,166.01C1658.2,166.01 1658.2,298.29 1516.5,298.29Z" fill="#6E6E6E" stroke="#6E6E6E"/>
<path d="M1516.5,295.80C1658.2,295.80 1658.2,226.82 1800.0,226.82L1800.0,230.82C1658.2,230.82 1658.2,299.80 1516.5,299.80Z" fill="#CBD43F" stroke="#CBD43F"/>
<path d="M1516.5,297.66C1658.2,297.66 1658.2,303.61 1800.0,303.61L1800.0,312.96C1658.2,312.96 1658.2,306.76 1516.5,306.76Z" fill="#405A40" stroke="#405A40"/>
<path d="M1516.5,304.88C1658.2,304.88 1658.2,345.90 1800.0,345.90L1800.0,349.90C1658.2,349.90 1658.2,308.88 1516.5,308.88Z" fill="#2A76AE" stroke="#2A76AE"/>
<path d="M1516.5,305.97C1658.2,305.97 1658.2,444.41 1800.0,444.41L1800.0,448.41C1658.2,448.41 1658.2,309.97 1516.5,309.97Z" fill="#5BA86E" stroke="#5BA86E"/>
<path d="M1516.5,319.30C1658.2,319.30 1658.2,67.07 1800.0,67.07L1800.0,72.48C1658.2,72.48 1658.2,324.63 1516.5,324.63Z" fill="#ECAD6D" stroke="#ECAD6D"/>
<path d="M1516.5,322.63C1658.2,322.63 1658.2,164.25 1800.0,164.25L1800.0,171.60C1658.2,171.60 1658.2,329.92 1516.5,329.92Z" fill="#6E6E6E" stroke="#6E6E6E"/>
<path d="M1516.5,327.41C1658.2,327.41 1658.2,310.85 1800.0,310.85L1800.0,314.85C1658.2,314.85 1658.2,331.41 1516.5,331.41Z" fill="#405A40" stroke="#405A40"/>
<path d="M1516.5,328.08C1658.2,328.08 1658.2,346.92 1800.0,346.92L1800.0,350.92C1658.2,350.92 1658.2,332.08 1516.5,332.08Z" fill="#2A76AE" stroke="#2A76AE"/>
<path d="M1516.5,329.31C1658.2,329.31 1658.2,445.83 1800.0,445.83L1800.0,452.37C1658.2,452.37 1658.2,335.67 1516.5,335.67Z" fill="#5BA86E" stroke="#5BA86E"/>
<path d="M1516.5,342.00C1658.2,342.00 1658.2,70.28 1800.0,70.28L1800.0,74.65C1658.2,74.65 1658.2,346.31 1516.5,346.31Z" fill="#ECAD6D" stroke="#ECAD6D"/>
<path d="M1516.5,344.10C1658.2,344.10 1658.2,228.14 1800.0,228.14L1800.0,232.17C1658.2,232.17 1658.2,348.10 1516.5,348.10Z" fill="#CBD43F" stroke="#CBD43F"/>
<path d="M1516.5,345.89C1658.2,345.89 1658.2,272.71 1800.0,272.71L1800.0,277.18C1658.2,277.18 1658.2,350.29 1516.5,350.29Z" fill="#EE8C3F" stroke="#EE8C3F"/>
<path d="M1516.5,348.26C1658.2,348.26 1658.2,348.35 1800.0,348.35L1800.0,355.65C1658.2,355.65 1658.2,355.37 1516.5,355.37Z" fill="#2A76AE" stroke="#2A76AE"/>
<path d="M1516.5,353.34C1658.2,353.34 1658.2,397.34 1800.0,397.34L1800.0,402.11C1658.2,402.11 1658.2,358.00 1516.5,358.00Z" fill="#F3E443" stroke="#F3E443"/>
<path d="M1516.5,364.10C1658.2,364.10 1658.2,169.62 1800.0,169.62L1800.0,174.81C1658.2,174.81 1658.2,369.25 1516.5,369.25Z" fill="#6E6E6E" stroke="#6E6E6E"/>
<path d="M1516.5,366.81C1658.2,366.81 1658.2,274.76 1800.0,274.76L1800.0,278.76C1658.2,278.76 1658.2,370.81 1516.5,370.81Z" fill="#EE8C3F" stroke="#EE8C3F"/>
<path d="M1516.5,368.02C1658.2,368.02 1658.2,311.82 1800.0,311.82L1800.0,315.82C1658.2,315.82 1658.2,372.02 1516.5,372.02Z" fill="#405A40" stroke="#405A40"/>
<path d="M1516.5,369.53C1658.2,369.53 1658.2,450.33 1800.0,450.33L1800.0,457.00C1658.2,457.00 1658.2,376.00 1516.5,376.00Z" fill="#5BA86E" stroke="#5BA86E"/>
<path d="M1516.5,373.85C1658.2,373.85 1658.2,492.41 1800.0,492.41L1800.0,498.16C1658.2,498.16 1658.2,379.50 1516.5,379.50Z" fill="#E8786F" stroke="#E8786F"/>
<path d="M1516.5,385.39C1658.2,385.39 1658.2,72.55 1800.0,72.55L1800.0,79.30C1658.2,79.30 1658.2,392.04 1516.5,392.04Z" fill="#ECAD6D" stroke="#ECAD6D"/>
<path d="M1516.5,389.93C1658.2,389.93 1658.2,172.61 1800.0,172.61L1800.0,176.63C1658.2,176.63 1658.2,393.93 1516.5,393.93Z" fill="#6E6E6E" stroke="#6E6E6E"/>
<path d="M1516.5,391.74C1658.2,391.74 1658.2,230.00 1800.0,230.00L1800.0,236.38C1658.2,236.38 1658.2,398.05 1516.5,398.05Z" fill="#CBD43F" stroke="#CBD43F"/>
<path d="M1516.5,395.30C1658.2,395.30 1658.2,428.63 1800.0,428.63L1800.0,432.63C1658.2,432.63 1658.2,399.30 1516.5,399.30Z" fill="#F6CEE0" stroke="#F6CEE0"/>
<path d="M1516.5,396.51C1658.2,396.51 1658.2,525.34 1800.0,525.34L1800.0,529.43C1658.2,529.43 1658.2,400.51 1516.5,400.51Z" fill="#A7CCE0" stroke="#A7CCE0"/>
<path d="M1516.5,405.82C1658.2,405.82 1658.2,76.63 1800.0,76.63L1800.0,80.63C1658.2,80.63 1658.2,409.82 1516.5,409.82Z" fill="#ECAD6D" stroke="#ECAD6D"/>
<path d="M1516.5,406.84C1658.2,406.84 1658.2,276.16 1800.0,276.16L1800.0,280.16C1658.2,280.16 1658.2,410.84 1516.5,410.84Z" fill="#EE8C3F" stroke="#EE8C3F"/>
<path d="M1516.5,408.43C1658.2,408.43 1658.2,313.29 1800.0,313.29L1800.0,318.59C1658.2,318.59 1658.2,413.60 1516.5,413.60Z" fill="#405A40" stroke="#405A40"/>
<path d="M1516.5,411.46C1658.2,411.46 1658.2,374.96 1800.0,374.96L1800.0,381.63C1658.2,381.63 1658.2,417.95 1516.5,417.95Z" fill="#66B869" stroke="#66B869"/>
<path d="M1516.5,415.81C1658.2,415.81 1658.2,527.23 1800.0,527.23L1800.0,532.50C1658.2,532.50 1658.2,420.90 1516.5,420.90Z" fill="#A7CCE0" stroke="#A7CCE0"/>
<path d="M1516.5,426.80C1658.2,426.80 1658.2,77.87 1800.0,77.87L1800.0,82.62C1658.2,82.62 1658.2,431.48 1516.5,431.48Z" fill="#ECAD6D" stroke="#ECAD6D"/>
<path d="M1516.5,429.28C1658.2,429.28 1658.2,174.43 1800.0,174.43L1800.0,178.50C1658.2,178.50 1658.2,433.32 1516.5,433.32Z" fill="#6E6E6E" stroke="#6E6E6E"/>
<path d="M1516.5,430.60C1658.2,430.60 1658.2,233.72 1800.0,233.72L1800.0,237.72C1658.2,237.72 1658.2,434.60 1516.5,434.60Z" fill="#CBD43F" stroke="#CBD43F"/>
<path d="M1516.5,431.89C1658.2,431.89 1658.2,429.87 1800.0,429.87L1800.0,436.05C1658.2,436.05 1658.2,437.90 1516.5,437.90Z" fill="#F6CEE0" stroke="#F6CEE0"/>
<path d="M1516.5,435.29C1658.2,435.29 1658.2,476.61 1800.0,476.61L1800.0,480.61C1658.2,480.61 1658.2,439.29 1516.5,439.29Z" fill="#8CB3D3" stroke="#8CB3D3"/>
<path d="M1516.5,436.68C1658.2,436.68 1658.2,539.31 1800.0,539.31L1800.0,543.50C1658.2,543.50 1658.2,440.80 1516.5,440.80Z" fill="#F1BC6C" stroke="#F1BC6C"/>
<path d="M1516.5,447.25C1658.2,447.25 1658.2,80.59 1800.0,80.59L1800.0,87.69C1658.2,87.69 1658.2,454.25 1516.5,454.25Z" fill="#ECAD6D" stroke="#ECAD6D"/>
<path d="M1516.5,451.62C1658.2,451.62 1658.2,175.72 1800.0,175.72L1800.0,179.72C1658.2,179.72 1658.2,455.62 1516.5,455.62Z" fill="#6E6E6E" stroke="#6E6E6E"/>
<path d="M1516.5,452.70C1658.2,452.70 1658.2,277.66 1800.0,277.66L1800.0,281.66C1658.2,281.66 1658.2,456.70 1516.5,456.70Z" fill="#EE8C3F" stroke="#EE8C3F"/>
<path d="M1516.5,454.10C1658.2,454.10 1658.2,316.15 1800.0,316.15L1800.0,320.15C1658.2,320.15 1658.2,458.10 1516.5,458.10Z" fill="#405A40" stroke="#405A40"/>
<path d="M1516.5,455.52C1658.2,455.52 1658.2,454.82 1800.0,454.82L1800.0,458.82C1658.2,458.82 1658.2,459.52 1516.5,459.52Z" fill="#5BA86E" stroke="#5BA86E"/>
<path d="M1516.5,464.80C1658.2,464.80 1658.2,85.66 1800.0,85.66L1800.0,89.97C1658.2,89.97 1658.2,469.05 1516.5,469.05Z" fill="#ECAD6D" stroke="#ECAD6D"/>
<path d="M1516.5,466.38C1658.2,466.38 1658.2,176.47 1800.0,176.47L1800.0,180.47C1658.2,180.47 1658.2,470.38 1516.5,470.38Z" fill="#6E6E6E" stroke="#6E6E6E"/>
<path d="M1516.5,467.66C1658.2,467.66 1658.2,234.98 1800.0,234.98L1800.0,238.98C1658.2,238.98 1658.2,471.66 1516.5,471.66Z" fill="#CBD43F" stroke="#CBD43F"/>
<path d="M1516.5,469.40C1658.2,469.40 1658.2,279.35 1800.0,279.35L1800.0,283.39C1658.2,283.39 1658.2,473.40 1516.5,473.40Z" fill="#EE8C3F" stroke="#EE8C3F"/>
<path d="M1516.5,470.99C1658.2,470.99 1658.2,433.69 1800.0,433.69L1800.0,437.69C1658.2,437.69 1658.2,474.99 1516.5,474.99Z" fill="#F6CEE0" stroke="#F6CEE0"/>
<path d="M1516.5,479.08C1658.2,479.08 1658.2,236.76 1800.0,236.76L1800.0,240.76C1658.2,240.76 1658.2,483.08 1516.5,483.08Z" fill="#CBD43F" stroke="#CBD43F"/>
<path d="M1516.5,480.36C1658.2,480.36 1658.2,280.69 1800.0,280.69L1800.0,284.69C1658.2,284.69 1658.2,484.36 1516.5,484.36Z" fill="#EE8C3F" stroke="#EE8C3F"/>
<path d="M1516.5,481.17C1658.2,481.17 1658.2,317.25 1800.0,317.25L1800.0,321.25C1658.2,321.25 1658.2,485.17 1516.5,485.17Z" fill="#405A40" stroke="#405A40"/>
<path d="M1516.5,482.21C1658.2,482.21 1658.2,379.28 1800.0,379.28L1800.0,383.28C1658.2,383.28 1658.2,486.21 1516.5,486.21Z" fill="#66B869" stroke="#66B869"/>
<path d="M1516.5,483.74C1658.2,483.74 1658.2,399.91 1800.0,399.91L1800.0,405.10C1658.2,405.10 1658.2,488.80 1516.5,488.80Z" fill="#F3E443" stroke="#F3E443"/>
<path d="M1516.5,492.60C1658.2,492.60 1658.2,87.77 1800.0,87.77L1800.0,93.70C1658.2,93.70 1658.2,498.44 1516.5,498.44Z" fill="#ECAD6D" stroke="#ECAD6D"/>
<path d="M1516.5,495.45C1658.2,495.45 1658.2,237.78 1800.0,237.78L1800.0,241.78C1658.2,241.78 1658.2,499.45 1516.5,499.45Z" fill="#CBD43F" stroke="#CBD43F"/>
<path d="M1516.5,496.15C1658.2,496.15 1658.2,353.37 1800.0,353.37L1800.0,357.37C1658.2,357.37 1658.2,500.15 1516.5,500.15Z" fill="#2A76AE" stroke="#2A76AE"/>
<path d="M1516.5,497.12C1658.2,497.12 1658.2,380.36 1800.0,380.36L1800.0,384.36C1658.2,384.36 1658.2,501.12 1516.5,501.12Z" fill="#66B869" stroke="#66B869"/>
<path d="M1516.5,497.66C1658.2,497.66 1658.2,434.57 1800.0,434.57L1800.0,438.57C1658.2,438.57 1658.2,501.66 1516.5,501.66Z" fill="#F6CEE0" stroke="#F6CEE0"/>
<path d="M1516.5,503.03C1658.2,503.03 1658.2,90.94 1800.0,90.94L1800.0,94.94C1658.2,94.94 1658.2,507.03 1516.5,507.03Z" fill="#ECAD6D" stroke="#ECAD6D"/>
<path d="M1516.5,503.76C1658.2,503.76 1658.2,318.12 1800.0,318.12L1800.0,322.12C1658.2,322.12 1658.2,507.76 1516.5,507.76Z" fill="#405A40" stroke="#405A40"/>
<path d="M1516.5,504.57C1658.2,504.57 1658.2,354.39 1800.0,354.39L1800.0,358.39C1658.2,358.39 1658.2,508.57 1516.5,508.57Z" fill="#2A76AE" stroke="#2A76AE"/>
<path d="M1516.5,505.86C1658.2,505.86 1658.2,402.90 1800.0,402.90L1800.0,408.84C1658.2,408.84 1658.2,511.63 1516.5,511.63Z" fill="#F3E443" stroke="#F3E443"/>
<path d="M1516.5,508.67C1658.2,508.67 1658.2,434.86 1800.0,434.86L1800.0,438.86C1658.2,438.86 1658.2,512.67 1516.5,512.67Z" fill="#F6CEE0" stroke="#F6CEE0"/>
<path d="M1516.5,513.72C1658.2,513.72 1658.2,91.39 1800.0,91.39L1800.0,95.39C1658.2,95.39 1658.2,517.72 1516.5,517.72Z" fill="#ECAD6D" stroke="#ECAD6D"/>
<path d="M1516.5,513.94C1658.2,513.94 1658.2,177.02 1800.0,177.02L1800.0,181.02C1658.2,181.02 1658.2,517.94 1516.5,517.94Z" fill="#6E6E6E" stroke="#6E6E6E"/>
<path d="M1516.5,514.33C1658.2,514.33 1658.2,318.83 1800.0,318.83L1800.0,322.83C1658.2,322.83 1658.2,518.33 1516.5,518.33Z" fill="#405A40" stroke="#405A40"/>
<path d="M1516.5,515.51C1658.2,515.51 1658.2,495.96 1800.0,495.96L1800.0,500.00C1658.2,500.00 1658.2,519.51 1516.5,519.51Z" fill="#E8786F" stroke="#E8786F"/>
<path d="M1516.5,517.30C1658.2,517.30 1658.2,511.94 1800.0,511.94L1800.0,517.60C1658.2,517.60 1658.2,522.80 1516.5,522.80Z" fill="#C497C6" stroke="#C497C6"/>
<path d="M1516.5,524.90C1658.2,524.90 1658.2,178.03 1800.0,178.03L1800.0,182.10C1658.2,182.10 1658.2,528.94 1516.5,528.94Z" fill="#6E6E6E" stroke="#6E6E6E"/>
<path d="M1516.5,526.23C1658.2,526.23 1658.2,238.30 1800.0,238.30L1800.0,242.30C1658.2,242.30 1658.2,530.23 1516.5,530.23Z" fill="#CBD43F" stroke="#CBD43F"/>
<path d="M1516.5,527.52C1658.2,527.52 1658.2,406.64 1800.0,406.64L1800.0,411.40C1658.2,411.40 1658.2,532.16 1516.5,532.16Z" fill="#F3E443" stroke="#F3E443"/>
<path d="M1516.5,529.14C1658.2,529.14 1658.2,455.73 1800.0,455.73L1800.0,459.73C1658.2,459.73 1658.2,533.14 1516.5,533.14Z" fill="#5BA86E" stroke="#5BA86E"/>
<path d="M1516.5,529.45C1658.2,529.45 1658.2,477.35 1800.0,477.35L1800.0,481.35C1658.2,481.35 1658.2,533.45 1516.5,533.45Z" fill="#8CB3D3" stroke="#8CB3D3"/>
<path d="M1516.5,534.62C1658.2,534.62 1658.2,92.36 1800.0,92.36L1800.0,96.36C1658.2,96.36 1658.2,538.62 1516.5,538.62Z" fill="#ECAD6D" stroke="#ECAD6D"/>
<path d="M1516.5,535.77C1658.2,535.77 1658.2,319.46 1800.0,319.46L1800.0,323.46C1658.2,323.46 1658.2,539.77 1516.5,539.77Z" fill="#405A40" stroke="#405A40"/>
<path d="M1516.5,536.96C1658.2,536.96 1658.2,381.68 1800.0,381.68L1800.0,385.70C1658.2,385.70 1658.2,540.96 1516.5,540.96Z" fill="#66B869" stroke="#66B869"/>
<path d="M1516.5,538.49C1658.2,538.49 1658.2,409.00 1800.0,409.00L1800.0,413.00C1658.2,413.00 1658.2,542.49 1516.5,542.49Z" fill="#F3E443" stroke="#F3E443"/>
<path d="M1516.5,539.63C1658.2,539.63 1658.2,456.30 1800.0,456.30L1800.0,460.30C1658.2,460.30 1658.2,543.63 1516.5,543.63Z" fill="#5BA86E" stroke="#5BA86E"/>
</g>
<rect x="1143.10" y="17.50" width="44.70" height="89.50" fill="#ECAD6D" stroke="#000" stroke-width="2.0"/>
<rect x="1143.10" y="163.80" width="44.70" height="55.20" fill="#6E6E6E" stroke="#000" stroke-width="2.0"/>
<rect x="1143.10" y="251.40" width="44.70" height="41.10" fill="#66B869" stroke="#000" stroke-width="2.0"/>
<rect x="1143.10" y="321.50" width="44.70" height="21.20" fill="#2A76AE" stroke="#000" stroke-width="2.0"/>
<rect x="1143.10" y="356.90" width="44.70" height="15.70" fill="#8CB3D3" stroke="#000" stroke-width="2.0"/>
<rect x="1143.10" y="381.60" width="44.70" height="15.90" fill="#405A40" stroke="#000" stroke-width="2.0"/>
<rect x="1143.10" y="406.40" width="44.70" height="14.80" fill="#EE8C3F" stroke="#000" stroke-width="2.0"/>
<rect x="1143.10" y="431.20" width="44.70" height="11.10" fill="#A7CCE0" stroke="#000" stroke-width="2.0"/>
<rect x="1143.10" y="449.30" width="44.70" height="10.00" fill="#F3E443" stroke="#000" stroke-width="2.0"/>
<rect x="1143.10" y="465.80" width="44.70" height="9.00" fill="#6D4A98" stroke="#000" stroke-width="2.0"/>
<rect x="1143.10" y="481.00" width="44.70" height="8.60" fill="#F1BC6C" stroke="#000" stroke-width="2.0"/>
<rect x="1143.10" y="495.20" width="44.70" height="8.60" fill="#C497C6" stroke="#000" stroke-width="2.0"/>
<rect x="1143.10" y="509.30" width="44.70" height="8.00" fill="#F6CEE0" stroke="#000" stroke-width="2.0"/>
<rect x="1143.10" y="523.00" width="44.70" height="7.70" fill="#B97B59" stroke="#000" stroke-width="2.0"/>
<rect x="1143.10" y="535.80" width="44.70" height="6.70" fill="#CBD43F" stroke="#000" stroke-width="2.0"/>
<rect x="1471.70" y="35.50" width="44.80" height="54.20" fill="#C4D8B4" stroke="#000" stroke-width="2.0"/>
<rect x="1471.70" y="121.00" width="44.80" height="39.70" fill="#B2DEDA" stroke="#000" stroke-width="2.0"/>
<rect x="1471.70" y="186.10" width="44.80" height="25.10" fill="#BBDDA5" stroke="#000" stroke-width="2.0"/>
<rect x="1471.70" y="225.60" width="44.80" height="21.30" fill="#A1D6CB" stroke="#000" stroke-width="2.0"/>
<rect x="1471.70" y="258.40" width="44.80" height="20.10" fill="#96D3DE" stroke="#000" stroke-width="2.0"/>
<rect x="1471.70" y="290.60" width="44.80" height="17.80" fill="#8ED0E8" stroke="#000" stroke-width="2.0"/>
<rect x="1471.70" y="320.40" width="44.80" height="14.20" fill="#9FBDE3" stroke="#000" stroke-width="2.0"/>
<rect x="1471.70" y="343.10" width="44.80" height="13.80" fill="#C8B3D9" stroke="#000" stroke-width="2.0"/>
<rect x="1471.70" y="365.20" width="44.80" height="13.20" fill="#C7C3E1" stroke="#000" stroke-width="2.0"/>
<rect x="1471.70" y="386.40" width="44.80" height="13.00" fill="#E3C0E0" stroke="#000" stroke-width="2.0"/>
<rect x="1471.70" y="407.50" width="44.80" height="12.30" fill="#F8CCD3" stroke="#000" stroke-width="2.0"/>
<rect x="1471.70" y="427.90" width="44.80" height="11.80" fill="#FBE3D3" stroke="#000" stroke-width="2.0"/>
<rect x="1471.70" y="448.20" width="44.80" height="10.10" fill="#F6F1C8" stroke="#000" stroke-width="2.0"/>
<rect x="1471.70" y="465.90" width="44.80" height="7.80" fill="#F29A98" stroke="#000" stroke-width="2.0"/>
<rect x="1471.70" y="480.20" width="44.80" height="7.50" fill="#F5AE98" stroke="#000" stroke-width="2.0"/>
<rect x="1471.70" y="493.70" width="44.80" height="6.10" fill="#F5C59A" stroke="#000" stroke-width="2.0"/>
<rect x="1471.70" y="504.70" width="44.80" height="6.10" fill="#F6DA9A" stroke="#000" stroke-width="2.0"/>
<rect x="1471.70" y="515.60" width="44.80" height="6.10" fill="#E8E6A9" stroke="#000" stroke-width="2.0"/>
<rect x="1471.70" y="526.00" width="44.80" height="5.70" fill="#C6DFB8" stroke="#000" stroke-width="2.0"/>
<rect x="1471.70" y="535.80" width="44.80" height="6.30" fill="#B3E1DC" stroke="#000" stroke-width="2.0"/>
<rect x="1800.00" y="29.50" width="45.30" height="65.70" fill="#ECAD6D" stroke="#000" stroke-width="2.0"/>
<rect x="1800.00" y="134.20" width="45.30" height="46.80" fill="#6E6E6E" stroke="#000" stroke-width="2.0"/>
<rect x="1800.00" y="210.60" width="45.30" height="30.10" fill="#CBD43F" stroke="#000" stroke-width="2.0"/>
<rect x="1800.00" y="257.00" width="45.30" height="26.10" fill="#EE8C3F" stroke="#000" stroke-width="2.0"/>
<rect x="1800.00" y="295.80" width="45.30" height="26.00" fill="#405A40" stroke="#000" stroke-width="2.0"/>
<rect x="1800.00" y="337.80" width="45.30" height="19.00" fill="#2A76AE" stroke="#000" stroke-width="2.0"/>
<rect x="1800.00" y="366.70" width="45.30" height="17.90" fill="#66B869" stroke="#000" stroke-width="2.0"/>
<rect x="1800.00" y="393.80" width="45.30" height="17.90" fill="#F3E443" stroke="#000" stroke-width="2.0"/>
<rect x="1800.00" y="422.80" width="45.30" height="14.20" fill="#F6CEE0" stroke="#000" stroke-width="2.0"/>
<rect x="1800.00" y="445.30" width="45.30" height="13.50" fill="#5BA86E" stroke="#000" stroke-width="2.0"/>
<rect x="1800.00" y="467.70" width="45.30" height="11.90" fill="#8CB3D3" stroke="#000" stroke-width="2.0"/>
<rect x="1800.00" y="487.40" width="45.30" height="11.50" fill="#E8786F" stroke="#000" stroke-width="2.0"/>
<rect x="1800.00" y="506.60" width="45.30" height="9.90" fill="#C497C6" stroke="#000" stroke-width="2.0"/>
<rect x="1800.00" y="524.70" width="45.30" height="6.70" fill="#A7CCE0" stroke="#000" stroke-width="2.0"/>
<rect x="1800.00" y="536.80" width="45.30" height="5.60" fill="#F1BC6C" stroke="#000" stroke-width="2.0"/>
<text x="1193.4" y="68.2" font-size="16" fill="#2A3F5F" stroke="#2A3F5F" stroke-width="0.22">Poseidoniales</text>
<text x="1193.4" y="197.4" font-size="16" fill="#2A3F5F" stroke="#2A3F5F" stroke-width="0.22">Acidimicrobiales</text>
<text x="1193.4" y="277.9" font-size="16" fill="#2A3F5F" stroke="#2A3F5F" stroke-width="0.22">PCC-6307</text>
<text x="1193.4" y="338.1" font-size="16" fill="#2A3F5F" stroke="#2A3F5F" stroke-width="0.22">Pedosphaerales</text>
<text x="1193.4" y="370.8" font-size="16" fill="#2A3F5F" stroke="#2A3F5F" stroke-width="0.22">Sphingomonadales</text>
<text x="1193.4" y="395.6" font-size="16" fill="#2A3F5F" stroke="#2A3F5F" stroke-width="0.22">Marinisomatales</text>
<text x="1193.4" y="419.8" font-size="16" fill="#2A3F5F" stroke="#2A3F5F" stroke-width="0.22">Pseudomonadales</text>
<text x="1193.4" y="442.8" font-size="16" fill="#2A3F5F" stroke="#2A3F5F" stroke-width="0.22">Verrucomicrobiales</text>
<text x="1193.4" y="460.3" font-size="16" fill="#2A3F5F" stroke="#2A3F5F" stroke-width="0.22">Rhodospirillales</text>
<text x="1193.4" y="476.3" font-size="16" fill="#2A3F5F" stroke="#2A3F5F" stroke-width="0.22">Enterobacterales</text>
<text x="1193.4" y="491.3" font-size="16" fill="#2A3F5F" stroke="#2A3F5F" stroke-width="0.22">SAR202</text>
<text x="1193.4" y="505.5" font-size="16" fill="#2A3F5F" stroke="#2A3F5F" stroke-width="0.22">Pirellulales</text>
<text x="1193.4" y="519.3" font-size="16" fill="#2A3F5F" stroke="#2A3F5F" stroke-width="0.22">UBA8231</text>
<text x="1193.4" y="532.9" font-size="16" fill="#2A3F5F" stroke="#2A3F5F" stroke-width="0.22">SAR324</text>
<text x="1193.4" y="545.1" font-size="16" fill="#2A3F5F" stroke="#2A3F5F" stroke-width="0.22">Puniceispirillales</text>
<text x="1521.6" y="65.4" font-size="14" fill="#2A3F5F" stroke="#2A3F5F" stroke-width="0.22">Phosphate</text>
<text x="1521.6" y="143.7" font-size="14" fill="#2A3F5F" stroke="#2A3F5F" stroke-width="0.22">Hydrogen sulfide</text>
<text x="1521.6" y="201.4" font-size="14" fill="#2A3F5F" stroke="#2A3F5F" stroke-width="0.22">Acetaldehyde</text>
<text x="1521.6" y="247.1" font-size="14" fill="#2A3F5F" stroke="#2A3F5F" stroke-width="0.22">Iron (Fe<tspan font-size="9.8" dy="-5.6">3+)</tspan></text>
<text x="1521.6" y="271.2" font-size="14" fill="#2A3F5F" stroke="#2A3F5F" stroke-width="0.22">Uracil</text>
<text x="1521.6" y="302.3" font-size="14" fill="#2A3F5F" stroke="#2A3F5F" stroke-width="0.22">Coenzyme A</text>
<text x="1521.6" y="330.3" font-size="14" fill="#2A3F5F" stroke="#2A3F5F" stroke-width="0.22">Benzoate</text>
<text x="1521.6" y="352.8" font-size="14" fill="#2A3F5F" stroke="#2A3F5F" stroke-width="0.22">O<tspan font-size="9.8" dy="2.8">2</tspan></text>
<text x="1521.6" y="374.6" font-size="14" fill="#2A3F5F" stroke="#2A3F5F" stroke-width="0.22">Nitrite</text>
<text x="1521.6" y="395.7" font-size="14" fill="#2A3F5F" stroke="#2A3F5F" stroke-width="0.22">Ammonium</text>
<text x="1521.6" y="414.9" font-size="14" fill="#2A3F5F" stroke="#2A3F5F" stroke-width="0.22">Cys Gly C<tspan dx="6.3" dy="2.1">5</tspan><tspan dy="-2.1">H</tspan><tspan dy="2.1">10</tspan><tspan dy="-2.1">N</tspan><tspan dy="2.1">2</tspan><tspan dy="-2.1">O</tspan><tspan dy="2.1">3</tspan><tspan dy="-2.1">S</tspan></text>
<text x="1521.6" y="438.9" font-size="14" fill="#2A3F5F" stroke="#2A3F5F" stroke-width="0.22">Fe<tspan font-size="9.8" dy="-5.6">2+</tspan><tspan dy="5.6"> mitochondria</tspan></text>
<text x="1521.6" y="456.1" font-size="14" fill="#2A3F5F" stroke="#2A3F5F" stroke-width="0.22">L-Glutamate</text>
<text x="1521.6" y="472.6" font-size="14" fill="#2A3F5F" stroke="#2A3F5F" stroke-width="0.22">(R)-Pantothenate</text>
<text x="1521.6" y="486.8" font-size="14" fill="#2A3F5F" stroke="#2A3F5F" stroke-width="0.22">Citrate</text>
<text x="1521.6" y="499.6" font-size="14" fill="#2A3F5F" stroke="#2A3F5F" stroke-width="0.22">Sulfur</text>
<text x="1521.6" y="510.6" font-size="14" fill="#2A3F5F" stroke="#2A3F5F" stroke-width="0.22">D-Mannose 1-phosphate</text>
<text x="1521.6" y="523.9" font-size="14" fill="#2A3F5F" stroke="#2A3F5F" stroke-width="0.22">Ferrypyoverdine</text>
<text x="1521.6" y="536.0" font-size="14" fill="#2A3F5F" stroke="#2A3F5F" stroke-width="0.22">Carbon monoxide</text>
<text x="1521.6" y="546.5" font-size="14" fill="#2A3F5F" stroke="#2A3F5F" stroke-width="0.22">Pyoverdine</text>
<text x="1853.4" y="66.8" font-size="16" fill="#2A3F5F" stroke="#2A3F5F" stroke-width="0.22">Poseidoniales</text>
<text x="1853.4" y="162.0" font-size="16" fill="#2A3F5F" stroke="#2A3F5F" stroke-width="0.22">Acidimicrobiales</text>
<text x="1853.4" y="230.0" font-size="16" fill="#2A3F5F" stroke="#2A3F5F" stroke-width="0.22">Puniceispirillales</text>
<text x="1853.4" y="274.4" font-size="16" fill="#2A3F5F" stroke="#2A3F5F" stroke-width="0.22">Pseudomonadales</text>
<text x="1853.4" y="313.2" font-size="16" fill="#2A3F5F" stroke="#2A3F5F" stroke-width="0.22">Marinisomatales</text>
<text x="1853.4" y="351.7" font-size="16" fill="#2A3F5F" stroke="#2A3F5F" stroke-width="0.22">Pedosphaerales</text>
<text x="1853.4" y="380.0" font-size="16" fill="#2A3F5F" stroke="#2A3F5F" stroke-width="0.22">PCC-6307</text>
<text x="1853.4" y="407.1" font-size="16" fill="#2A3F5F" stroke="#2A3F5F" stroke-width="0.22">Rhodospirillales</text>
<text x="1853.4" y="434.3" font-size="16" fill="#2A3F5F" stroke="#2A3F5F" stroke-width="0.22">UBA8231</text>
<text x="1853.4" y="456.4" font-size="16" fill="#2A3F5F" stroke="#2A3F5F" stroke-width="0.22">UBA1151</text>
<text x="1853.4" y="478.0" font-size="16" fill="#2A3F5F" stroke="#2A3F5F" stroke-width="0.22">Sphingomonadales</text>
<text x="1853.4" y="497.5" font-size="16" fill="#2A3F5F" stroke="#2A3F5F" stroke-width="0.22">UBA8366</text>
<text x="1853.4" y="516.0" font-size="16" fill="#2A3F5F" stroke="#2A3F5F" stroke-width="0.22">Pirellulales</text>
<text x="1853.4" y="532.4" font-size="16" fill="#2A3F5F" stroke="#2A3F5F" stroke-width="0.22">Verrucomicrobiales</text>
<text x="1853.4" y="544.0" font-size="16" fill="#2A3F5F" stroke="#2A3F5F" stroke-width="0.22">SAR202</text>
<g fill-opacity="0.5" stroke-opacity="0.5" stroke-width="0">
<path d="M116.8,633.14C258.8,633.14 258.8,640.60 400.8,640.60L400.8,652.10C258.8,652.10 258.8,644.86 116.8,644.86Z" fill="#6D4A98" stroke="#6D4A98"/>
<path d="M116.8,643.70C258.8,643.70 258.8,728.40 400.8,728.40L400.8,734.58C258.8,734.58 258.8,649.90 116.8,649.90Z" fill="#6D4A98" stroke="#6D4A98"/>
<path d="M116.8,647.91C258.8,647.91 258.8,781.28 400.8,781.28L400.8,788.43C258.8,788.43 258.8,655.19 116.8,655.19Z" fill="#6D4A98" stroke="#6D4A98"/>
<path d="M116.8,653.20C258.8,653.20 258.8,818.50 400.8,818.50L400.8,823.04C258.8,823.04 258.8,657.90 116.8,657.90Z" fill="#6D4A98" stroke="#6D4A98"/>
<path d="M116.8,656.58C258.8,656.58 258.8,856.97 400.8,856.97L400.8,867.78C258.8,867.78 258.8,667.42 116.8,667.42Z" fill="#6D4A98" stroke="#6D4A98"/>
<path d="M116.8,666.10C258.8,666.10 258.8,892.40 400.8,892.40L400.8,896.91C258.8,896.91 258.8,670.62 116.8,670.62Z" fill="#6D4A98" stroke="#6D4A98"/>
<path d="M116.8,668.44C258.8,668.44 258.8,928.70 400.8,928.70L400.8,934.83C258.8,934.83 258.8,674.71 116.8,674.71Z" fill="#6D4A98" stroke="#6D4A98"/>
<path d="M116.8,672.80C258.8,672.80 258.8,958.16 400.8,958.16L400.8,965.72C258.8,965.72 258.8,680.45 116.8,680.45Z" fill="#6D4A98" stroke="#6D4A98"/>
<path d="M116.8,678.53C258.8,678.53 258.8,981.20 400.8,981.20L400.8,985.84C258.8,985.84 258.8,683.38 116.8,683.38Z" fill="#6D4A98" stroke="#6D4A98"/>
<path d="M116.8,681.18C258.8,681.18 258.8,1003.10 400.8,1003.10L400.8,1007.81C258.8,1007.81 258.8,686.10 116.8,686.10Z" fill="#6D4A98" stroke="#6D4A98"/>
<path d="M116.8,683.90C258.8,683.90 258.8,1025.71 400.8,1025.71L400.8,1029.71C258.8,1029.71 258.8,687.97 116.8,687.97Z" fill="#6D4A98" stroke="#6D4A98"/>
<path d="M116.8,685.97C258.8,685.97 258.8,1070.08 400.8,1070.08L400.8,1077.23C258.8,1077.23 258.8,693.26 116.8,693.26Z" fill="#6D4A98" stroke="#6D4A98"/>
<path d="M116.8,691.27C258.8,691.27 258.8,1082.70 400.8,1082.70L400.8,1086.85C258.8,1086.85 258.8,695.70 116.8,695.70Z" fill="#6D4A98" stroke="#6D4A98"/>
<path d="M116.8,693.49C258.8,693.49 258.8,1107.77 400.8,1107.77L400.8,1111.77C258.8,1111.77 258.8,697.49 116.8,697.49Z" fill="#6D4A98" stroke="#6D4A98"/>
<path d="M116.8,695.25C258.8,695.25 258.8,1119.16 400.8,1119.16L400.8,1123.16C258.8,1123.16 258.8,699.25 116.8,699.25Z" fill="#6D4A98" stroke="#6D4A98"/>
<path d="M116.8,697.06C258.8,697.06 258.8,1140.90 400.8,1140.90L400.8,1146.82C258.8,1146.82 258.8,703.46 116.8,703.46Z" fill="#6D4A98" stroke="#6D4A98"/>
<path d="M116.8,735.40C258.8,735.40 258.8,652.01 400.8,652.01L400.8,667.22C258.8,667.22 258.8,751.00 116.8,751.00Z" fill="#66B869" stroke="#66B869"/>
<path d="M116.8,750.45C258.8,750.45 258.8,732.92 400.8,732.92L400.8,741.99C258.8,741.99 258.8,759.55 116.8,759.55Z" fill="#66B869" stroke="#66B869"/>
<path d="M116.8,757.26C258.8,757.26 258.8,785.76 400.8,785.76L400.8,789.76C258.8,789.76 258.8,761.26 116.8,761.26Z" fill="#66B869" stroke="#66B869"/>
<path d="M116.8,759.03C258.8,759.03 258.8,821.39 400.8,821.39L400.8,830.47C258.8,830.47 258.8,768.50 116.8,768.50Z" fill="#66B869" stroke="#66B869"/>
<path d="M116.8,766.91C258.8,766.91 258.8,866.46 400.8,866.46L400.8,871.95C258.8,871.95 258.8,772.42 116.8,772.42Z" fill="#66B869" stroke="#66B869"/>
<path d="M116.8,770.89C258.8,770.89 258.8,895.37 400.8,895.37L400.8,905.03C258.8,905.03 258.8,780.58 116.8,780.58Z" fill="#66B869" stroke="#66B869"/>
<path d="M116.8,778.89C258.8,778.89 258.8,932.45 400.8,932.45L400.8,936.45C258.8,936.45 258.8,782.89 116.8,782.89Z" fill="#66B869" stroke="#66B869"/>
<path d="M116.8,779.68C258.8,779.68 258.8,962.92 400.8,962.92L400.8,966.92C258.8,966.92 258.8,783.68 116.8,783.68Z" fill="#66B869" stroke="#66B869"/>
<path d="M116.8,780.35C258.8,780.35 258.8,1005.28 400.8,1005.28L400.8,1009.28C258.8,1009.28 258.8,784.35 116.8,784.35Z" fill="#66B869" stroke="#66B869"/>
<path d="M116.8,781.95C258.8,781.95 258.8,1027.42 400.8,1027.42L400.8,1033.57C258.8,1033.57 258.8,788.53 116.8,788.53Z" fill="#66B869" stroke="#66B869"/>
<path d="M116.8,786.45C258.8,786.45 258.8,1042.60 400.8,1042.60L400.8,1048.54C258.8,1048.54 258.8,792.86 116.8,792.86Z" fill="#66B869" stroke="#66B869"/>
<path d="M116.8,790.70C258.8,790.70 258.8,1084.65 400.8,1084.65L400.8,1089.02C258.8,1089.02 258.8,795.40 116.8,795.40Z" fill="#66B869" stroke="#66B869"/>
<path d="M116.8,792.86C258.8,792.86 258.8,1120.41 400.8,1120.41L400.8,1124.41C258.8,1124.41 258.8,796.86 116.8,796.86Z" fill="#66B869" stroke="#66B869"/>
<path d="M116.8,794.32C258.8,794.32 258.8,1130.20 400.8,1130.20L400.8,1135.55C258.8,1135.55 258.8,800.13 116.8,800.13Z" fill="#66B869" stroke="#66B869"/>
<path d="M116.8,797.47C258.8,797.47 258.8,1144.10 400.8,1144.10L400.8,1148.10C258.8,1148.10 258.8,801.47 116.8,801.47Z" fill="#66B869" stroke="#66B869"/>
<path d="M116.8,843.29C258.8,843.29 258.8,666.29 400.8,666.29L400.8,673.41C258.8,673.41 258.8,850.51 116.8,850.51Z" fill="#6E6E6E" stroke="#6E6E6E"/>
<path d="M116.8,848.57C258.8,848.57 258.8,740.40 400.8,740.40L400.8,746.94C258.8,746.94 258.8,855.13 116.8,855.13Z" fill="#6E6E6E" stroke="#6E6E6E"/>
<path d="M116.8,853.00C258.8,853.00 258.8,786.91 400.8,786.91L400.8,792.97C258.8,792.97 258.8,859.20 116.8,859.20Z" fill="#6E6E6E" stroke="#6E6E6E"/>
<path d="M116.8,857.00C258.8,857.00 258.8,828.81 400.8,828.81L400.8,833.36C258.8,833.36 258.8,861.70 116.8,861.70Z" fill="#6E6E6E" stroke="#6E6E6E"/>
<path d="M116.8,860.19C258.8,860.19 258.8,870.43 400.8,870.43L400.8,880.22C258.8,880.22 258.8,870.00 116.8,870.00Z" fill="#6E6E6E" stroke="#6E6E6E"/>
<path d="M116.8,867.81C258.8,867.81 258.8,902.81 400.8,902.81L400.8,906.81C258.8,906.81 258.8,871.81 116.8,871.81Z" fill="#6E6E6E" stroke="#6E6E6E"/>
<path d="M116.8,868.93C258.8,868.93 258.8,934.07 400.8,934.07L400.8,939.15C258.8,939.15 258.8,874.13 116.8,874.13Z" fill="#6E6E6E" stroke="#6E6E6E"/>
<path d="M116.8,871.06C258.8,871.06 258.8,962.99 400.8,962.99L400.8,966.99C258.8,966.99 258.8,875.06 116.8,875.06Z" fill="#6E6E6E" stroke="#6E6E6E"/>
<path d="M116.8,871.72C258.8,871.72 258.8,983.32 400.8,983.32L400.8,987.32C258.8,987.32 258.8,875.72 116.8,875.72Z" fill="#6E6E6E" stroke="#6E6E6E"/>
<path d="M116.8,872.54C258.8,872.54 258.8,1006.03 400.8,1006.03L400.8,1010.03C258.8,1010.03 258.8,876.54 116.8,876.54Z" fill="#6E6E6E" stroke="#6E6E6E"/>
<path d="M116.8,873.06C258.8,873.06 258.8,1055.59 400.8,1055.59L400.8,1059.59C258.8,1059.59 258.8,877.06 116.8,877.06Z" fill="#6E6E6E" stroke="#6E6E6E"/>
<path d="M116.8,873.70C258.8,873.70 258.8,1086.19 400.8,1086.19L400.8,1090.19C258.8,1090.19 258.8,877.70 116.8,877.70Z" fill="#6E6E6E" stroke="#6E6E6E"/>
<path d="M116.8,874.32C258.8,874.32 258.8,1095.01 400.8,1095.01L400.8,1099.01C258.8,1099.01 258.8,878.32 116.8,878.32Z" fill="#6E6E6E" stroke="#6E6E6E"/>
<path d="M116.8,874.92C258.8,874.92 258.8,1132.70 400.8,1132.70L400.8,1136.70C258.8,1136.70 258.8,878.92 116.8,878.92Z" fill="#6E6E6E" stroke="#6E6E6E"/>
<path d="M116.8,875.86C258.8,875.86 258.8,1145.04 400.8,1145.04L400.8,1149.04C258.8,1149.04 258.8,879.86 116.8,879.86Z" fill="#6E6E6E" stroke="#6E6E6E"/>
<path d="M116.8,900.55C258.8,900.55 258.8,671.51 400.8,671.51L400.8,678.40C258.8,678.40 258.8,907.53 116.8,907.53Z" fill="#EE8C3F" stroke="#EE8C3F"/>
<path d="M116.8,905.69C258.8,905.69 258.8,745.01 400.8,745.01L400.8,752.27C258.8,752.27 258.8,912.97 116.8,912.97Z" fill="#EE8C3F" stroke="#EE8C3F"/>
<path d="M116.8,911.05C258.8,911.05 258.8,790.82 400.8,790.82L400.8,797.26C258.8,797.26 258.8,917.61 116.8,917.61Z" fill="#EE8C3F" stroke="#EE8C3F"/>
<path d="M116.8,915.34C258.8,915.34 258.8,830.97 400.8,830.97L400.8,834.97C258.8,834.97 258.8,919.34 116.8,919.34Z" fill="#EE8C3F" stroke="#EE8C3F"/>
<path d="M116.8,916.25C258.8,916.25 258.8,903.19 400.8,903.19L400.8,907.19C258.8,907.19 258.8,920.25 116.8,920.25Z" fill="#EE8C3F" stroke="#EE8C3F"/>
<path d="M116.8,917.30C258.8,917.30 258.8,984.80 400.8,984.80L400.8,989.63C258.8,989.63 258.8,922.36 116.8,922.36Z" fill="#EE8C3F" stroke="#EE8C3F"/>
<path d="M116.8,919.66C258.8,919.66 258.8,1030.81 400.8,1030.81L400.8,1034.81C258.8,1034.81 258.8,923.66 116.8,923.66Z" fill="#EE8C3F" stroke="#EE8C3F"/>
<path d="M116.8,920.43C258.8,920.43 258.8,1095.68 400.8,1095.68L400.8,1099.68C258.8,1099.68 258.8,924.43 116.8,924.43Z" fill="#EE8C3F" stroke="#EE8C3F"/>
<path d="M116.8,921.05C258.8,921.05 258.8,1108.76 400.8,1108.76L400.8,1112.76C258.8,1112.76 258.8,925.05 116.8,925.05Z" fill="#EE8C3F" stroke="#EE8C3F"/>
<path d="M116.8,933.81C258.8,933.81 258.8,750.68 400.8,750.68L400.8,759.02C258.8,759.02 258.8,942.19 116.8,942.19Z" fill="#ECAD6D" stroke="#ECAD6D"/>
<path d="M116.8,940.47C258.8,940.47 258.8,795.16 400.8,795.16L400.8,801.61C258.8,801.61 258.8,947.03 116.8,947.03Z" fill="#ECAD6D" stroke="#ECAD6D"/>
<path d="M116.8,944.68C258.8,944.68 258.8,832.32 400.8,832.32L400.8,836.32C258.8,836.32 258.8,948.68 116.8,948.68Z" fill="#ECAD6D" stroke="#ECAD6D"/>
<path d="M116.8,945.36C258.8,945.36 258.8,877.80 400.8,877.80L400.8,881.80C258.8,881.80 258.8,949.36 116.8,949.36Z" fill="#ECAD6D" stroke="#ECAD6D"/>
<path d="M116.8,946.54C258.8,946.54 258.8,904.51 400.8,904.51L400.8,912.17C258.8,912.17 258.8,954.21 116.8,954.21Z" fill="#ECAD6D" stroke="#ECAD6D"/>
<path d="M116.8,951.61C258.8,951.61 258.8,936.26 400.8,936.26L400.8,940.26C258.8,940.26 258.8,955.61 116.8,955.61Z" fill="#ECAD6D" stroke="#ECAD6D"/>
<path d="M116.8,951.87C258.8,951.87 258.8,963.05 400.8,963.05L400.8,967.05C258.8,967.05 258.8,955.87 116.8,955.87Z" fill="#ECAD6D" stroke="#ECAD6D"/>
<path d="M116.8,952.34C258.8,952.34 258.8,1045.83 400.8,1045.83L400.8,1049.83C258.8,1049.83 258.8,956.34 116.8,956.34Z" fill="#ECAD6D" stroke="#ECAD6D"/>
<path d="M116.8,953.25C258.8,953.25 258.8,1074.75 400.8,1074.75L400.8,1078.75C258.8,1078.75 258.8,957.25 116.8,957.25Z" fill="#ECAD6D" stroke="#ECAD6D"/>
<path d="M116.8,953.84C258.8,953.84 258.8,1109.09 400.8,1109.09L400.8,1113.09C258.8,1113.09 258.8,957.84 116.8,957.84Z" fill="#ECAD6D" stroke="#ECAD6D"/>
<path d="M116.8,954.09C258.8,954.09 258.8,1121.00 400.8,1121.00L400.8,1125.00C258.8,1125.00 258.8,958.09 116.8,958.09Z" fill="#ECAD6D" stroke="#ECAD6D"/>
<path d="M116.8,967.20C258.8,967.20 258.8,676.33 400.8,676.33L400.8,681.94C258.8,681.94 258.8,972.90 116.8,972.90Z" fill="#2A76AE" stroke="#2A76AE"/>
<path d="M116.8,970.70C258.8,970.70 258.8,799.46 400.8,799.46L400.8,804.44C258.8,804.44 258.8,975.79 116.8,975.79Z" fill="#2A76AE" stroke="#2A76AE"/>
<path d="M116.8,972.76C258.8,972.76 258.8,877.88 400.8,877.88L400.8,881.88C258.8,881.88 258.8,976.76 116.8,976.76Z" fill="#2A76AE" stroke="#2A76AE"/>
<path d="M116.8,973.74C258.8,973.74 258.8,937.37 400.8,937.37L400.8,941.96C258.8,941.96 258.8,978.44 116.8,978.44Z" fill="#2A76AE" stroke="#2A76AE"/>
<path d="M116.8,976.58C258.8,976.58 258.8,964.31 400.8,964.31L400.8,972.23C258.8,972.23 258.8,984.60 116.8,984.60Z" fill="#2A76AE" stroke="#2A76AE"/>
<path d="M116.8,982.74C258.8,982.74 258.8,1007.07 400.8,1007.07L400.8,1011.07C258.8,1011.07 258.8,986.81 116.8,986.81Z" fill="#2A76AE" stroke="#2A76AE"/>
<path d="M116.8,984.29C258.8,984.29 258.8,1075.75 400.8,1075.75L400.8,1079.75C258.8,1079.75 258.8,988.29 116.8,988.29Z" fill="#2A76AE" stroke="#2A76AE"/>
<path d="M116.8,985.08C258.8,985.08 258.8,1109.40 400.8,1109.40L400.8,1113.40C258.8,1113.40 258.8,989.08 116.8,989.08Z" fill="#2A76AE" stroke="#2A76AE"/>
<path d="M116.8,996.10C258.8,996.10 258.8,679.74 400.8,679.74L400.8,684.87C258.8,684.87 258.8,1001.30 116.8,1001.30Z" fill="#C497C6" stroke="#C497C6"/>
<path d="M116.8,999.10C258.8,999.10 258.8,757.23 400.8,757.23L400.8,761.92C258.8,761.92 258.8,1003.80 116.8,1003.80Z" fill="#C497C6" stroke="#C497C6"/>
<path d="M116.8,1000.82C258.8,1000.82 258.8,878.07 400.8,878.07L400.8,882.07C258.8,882.07 258.8,1004.82 116.8,1004.82Z" fill="#C497C6" stroke="#C497C6"/>
<path d="M116.8,1001.23C258.8,1001.23 258.8,969.73 400.8,969.73L400.8,973.73C258.8,973.73 258.8,1005.23 116.8,1005.23Z" fill="#C497C6" stroke="#C497C6"/>
<path d="M116.8,1002.62C258.8,1002.62 258.8,987.58 400.8,987.58L400.8,994.54C258.8,994.54 258.8,1009.91 116.8,1009.91Z" fill="#C497C6" stroke="#C497C6"/>
<path d="M116.8,1007.91C258.8,1007.91 258.8,1056.78 400.8,1056.78L400.8,1062.04C258.8,1062.04 258.8,1013.63 116.8,1013.63Z" fill="#C497C6" stroke="#C497C6"/>
<path d="M116.8,1011.43C258.8,1011.43 258.8,1110.49 400.8,1110.49L400.8,1115.80C258.8,1115.80 258.8,1017.20 116.8,1017.20Z" fill="#C497C6" stroke="#C497C6"/>
<path d="M116.8,1026.52C258.8,1026.52 258.8,801.47 400.8,801.47L400.8,805.47C258.8,805.47 258.8,1030.52 116.8,1030.52Z" fill="#A7CCE0" stroke="#A7CCE0"/>
<path d="M116.8,1026.90C258.8,1026.90 258.8,970.26 400.8,970.26L400.8,974.26C258.8,974.26 258.8,1030.90 116.8,1030.90Z" fill="#A7CCE0" stroke="#A7CCE0"/>
<path d="M116.8,1028.04C258.8,1028.04 258.8,992.49 400.8,992.49L400.8,996.80C258.8,996.80 258.8,1032.54 116.8,1032.54Z" fill="#A7CCE0" stroke="#A7CCE0"/>
<path d="M116.8,1030.54C258.8,1030.54 258.8,1008.98 400.8,1008.98L400.8,1015.96C258.8,1015.96 258.8,1037.83 116.8,1037.83Z" fill="#A7CCE0" stroke="#A7CCE0"/>
<path d="M116.8,1035.93C258.8,1035.93 258.8,1059.85 400.8,1059.85L400.8,1066.09C258.8,1066.09 258.8,1042.61 116.8,1042.61Z" fill="#A7CCE0" stroke="#A7CCE0"/>
<path d="M116.8,1048.60C258.8,1048.60 258.8,682.67 400.8,682.67L400.8,686.85C258.8,686.85 258.8,1052.84 116.8,1052.84Z" fill="#CBD43F" stroke="#CBD43F"/>
<path d="M116.8,1050.64C258.8,1050.64 258.8,833.85 400.8,833.85L400.8,839.16C258.8,839.16 258.8,1056.15 116.8,1056.15Z" fill="#CBD43F" stroke="#CBD43F"/>
<path d="M116.8,1053.11C258.8,1053.11 258.8,878.25 400.8,878.25L400.8,882.25C258.8,882.25 258.8,1057.11 116.8,1057.11Z" fill="#CBD43F" stroke="#CBD43F"/>
<path d="M116.8,1054.28C258.8,1054.28 258.8,939.94 400.8,939.94L400.8,947.06C258.8,947.06 258.8,1061.57 116.8,1061.57Z" fill="#CBD43F" stroke="#CBD43F"/>
<path d="M116.8,1059.57C258.8,1059.57 258.8,1133.75 400.8,1133.75L400.8,1137.75C258.8,1137.75 258.8,1063.60 116.8,1063.60Z" fill="#CBD43F" stroke="#CBD43F"/>
<path d="M116.8,1069.20C258.8,1069.20 258.8,684.65 400.8,684.65L400.8,690.44C258.8,690.44 258.8,1075.08 116.8,1075.08Z" fill="#F6CEE0" stroke="#F6CEE0"/>
<path d="M116.8,1072.88C258.8,1072.88 258.8,802.49 400.8,802.49L400.8,806.71C258.8,806.71 258.8,1077.17 116.8,1077.17Z" fill="#F6CEE0" stroke="#F6CEE0"/>
<path d="M116.8,1074.97C258.8,1074.97 258.8,836.96 400.8,836.96L400.8,842.00C258.8,842.00 258.8,1080.20 116.8,1080.20Z" fill="#F6CEE0" stroke="#F6CEE0"/>
<path d="M116.8,1078.00C258.8,1078.00 258.8,1047.11 400.8,1047.11L400.8,1052.10C258.8,1052.10 258.8,1083.40 116.8,1083.40Z" fill="#F6CEE0" stroke="#F6CEE0"/>
<path d="M116.8,1089.78C258.8,1089.78 258.8,803.88 400.8,803.88L400.8,807.88C258.8,807.88 258.8,1093.78 116.8,1093.78Z" fill="#B97B59" stroke="#B97B59"/>
<path d="M116.8,1090.98C258.8,1090.98 258.8,910.26 400.8,910.26L400.8,916.58C258.8,916.58 258.8,1097.31 116.8,1097.31Z" fill="#B97B59" stroke="#B97B59"/>
<path d="M116.8,1094.74C258.8,1094.74 258.8,971.00 400.8,971.00L400.8,975.00C258.8,975.00 258.8,1098.74 116.8,1098.74Z" fill="#B97B59" stroke="#B97B59"/>
<path d="M116.8,1096.16C258.8,1096.16 258.8,1122.00 400.8,1122.00L400.8,1126.33C258.8,1126.33 258.8,1100.80 116.8,1100.80Z" fill="#B97B59" stroke="#B97B59"/>
<path d="M116.8,1103.65C258.8,1103.65 258.8,759.56 400.8,759.56L400.8,763.56C258.8,763.56 258.8,1107.65 116.8,1107.65Z" fill="#F3E443" stroke="#F3E443"/>
<path d="M116.8,1104.39C258.8,1104.39 258.8,878.32 400.8,878.32L400.8,882.32C258.8,882.32 258.8,1108.39 116.8,1108.39Z" fill="#F3E443" stroke="#F3E443"/>
<path d="M116.8,1105.50C258.8,1105.50 258.8,1097.13 400.8,1097.13L400.8,1104.31C258.8,1104.31 258.8,1112.79 116.8,1112.79Z" fill="#F3E443" stroke="#F3E443"/>
<path d="M116.8,1110.10C258.8,1110.10 258.8,1134.72 400.8,1134.72L400.8,1138.72C258.8,1138.72 258.8,1114.10 116.8,1114.10Z" fill="#F3E443" stroke="#F3E443"/>
<path d="M116.8,1116.31C258.8,1116.31 258.8,688.43 400.8,688.43L400.8,695.61C258.8,695.61 258.8,1123.59 116.8,1123.59Z" fill="#405A40" stroke="#405A40"/>
<path d="M116.8,1120.94C258.8,1120.94 258.8,804.37 400.8,804.37L400.8,808.37C258.8,808.37 258.8,1124.94 116.8,1124.94Z" fill="#405A40" stroke="#405A40"/>
<path d="M116.8,1121.89C258.8,1121.89 258.8,944.82 400.8,944.82L400.8,948.82C258.8,948.82 258.8,1125.89 116.8,1125.89Z" fill="#405A40" stroke="#405A40"/>
<path d="M116.8,1128.10C258.8,1128.10 258.8,839.80 400.8,839.80L400.8,845.20C258.8,845.20 258.8,1133.72 116.8,1133.72Z" fill="#F1BC6C" stroke="#F1BC6C"/>
<path d="M116.8,1131.52C258.8,1131.52 258.8,1013.90 400.8,1013.90L400.8,1018.10C258.8,1018.10 258.8,1135.88 116.8,1135.88Z" fill="#F1BC6C" stroke="#F1BC6C"/>
<path d="M116.8,1133.34C258.8,1133.34 258.8,1123.71 400.8,1123.71L400.8,1127.71C258.8,1127.71 258.8,1137.34 116.8,1137.34Z" fill="#F1BC6C" stroke="#F1BC6C"/>
<path d="M116.8,1138.94C258.8,1138.94 258.8,878.46 400.8,878.46L400.8,882.46C258.8,882.46 258.8,1142.94 116.8,1142.94Z" fill="#8CB3D3" stroke="#8CB3D3"/>
<path d="M116.8,1139.98C258.8,1139.98 258.8,1032.06 400.8,1032.06L400.8,1037.70C258.8,1037.70 258.8,1146.14 116.8,1146.14Z" fill="#8CB3D3" stroke="#8CB3D3"/>
<path d="M116.8,1143.94C258.8,1143.94 258.8,1087.36 400.8,1087.36L400.8,1091.70C258.8,1091.70 258.8,1148.60 116.8,1148.60Z" fill="#8CB3D3" stroke="#8CB3D3"/>
<path d="M445.7,640.70C587.5,640.70 587.5,633.70 729.2,633.70L729.2,653.96C587.5,653.96 587.5,660.10 445.7,660.10Z" fill="#66B869" stroke="#66B869"/>
<path d="M445.7,659.45C587.5,659.45 587.5,747.70 729.2,747.70L729.2,756.56C587.5,756.56 587.5,668.02 445.7,668.02Z" fill="#ECAD6D" stroke="#ECAD6D"/>
<path d="M445.7,666.27C587.5,666.27 587.5,800.80 729.2,800.80L729.2,805.01C587.5,805.01 587.5,670.41 445.7,670.41Z" fill="#6D4A98" stroke="#6D4A98"/>
<path d="M445.7,668.47C587.5,668.47 587.5,850.61 729.2,850.61L729.2,858.44C587.5,858.44 587.5,675.98 445.7,675.98Z" fill="#6E6E6E" stroke="#6E6E6E"/>
<path d="M445.7,674.03C587.5,674.03 587.5,894.70 729.2,894.70L729.2,898.97C587.5,898.97 587.5,678.17 445.7,678.17Z" fill="#EE8C3F" stroke="#EE8C3F"/>
<path d="M445.7,675.10C587.5,675.10 587.5,931.72 729.2,931.72L729.2,935.72C587.5,935.72 587.5,679.10 445.7,679.10Z" fill="#C497C6" stroke="#C497C6"/>
<path d="M445.7,676.02C587.5,676.02 587.5,968.50 729.2,968.50L729.2,973.82C587.5,973.82 587.5,681.13 445.7,681.13Z" fill="#8CB3D3" stroke="#8CB3D3"/>
<path d="M445.7,678.93C587.5,678.93 587.5,1007.30 729.2,1007.30L729.2,1011.55C587.5,1011.55 587.5,683.07 445.7,683.07Z" fill="#2A76AE" stroke="#2A76AE"/>
<path d="M445.7,680.87C587.5,680.87 587.5,1032.30 729.2,1032.30L729.2,1036.62C587.5,1036.62 587.5,685.01 445.7,685.01Z" fill="#A7CCE0" stroke="#A7CCE0"/>
<path d="M445.7,682.81C587.5,682.81 587.5,1057.70 729.2,1057.70L729.2,1062.01C587.5,1062.01 587.5,686.95 445.7,686.95Z" fill="#F1BC6C" stroke="#F1BC6C"/>
<path d="M445.7,684.75C587.5,684.75 587.5,1076.32 729.2,1076.32L729.2,1082.62C587.5,1082.62 587.5,690.83 445.7,690.83Z" fill="#5BA86E" stroke="#5BA86E"/>
<path d="M445.7,688.63C587.5,688.63 587.5,1092.90 729.2,1092.90L729.2,1098.73C587.5,1098.73 587.5,694.22 445.7,694.22Z" fill="#CBD43F" stroke="#CBD43F"/>
<path d="M445.7,691.91C587.5,691.91 587.5,1109.87 729.2,1109.87L729.2,1113.87C587.5,1113.87 587.5,695.91 445.7,695.91Z" fill="#405A40" stroke="#405A40"/>
<path d="M445.7,728.61C587.5,728.61 587.5,653.10 729.2,653.10L729.2,660.57C587.5,660.57 587.5,735.89 445.7,735.89Z" fill="#66B869" stroke="#66B869"/>
<path d="M445.7,734.31C587.5,734.31 587.5,755.33 729.2,755.33L729.2,763.97C587.5,763.97 587.5,742.69 445.7,742.69Z" fill="#ECAD6D" stroke="#ECAD6D"/>
<path d="M445.7,740.90C587.5,740.90 587.5,802.81 729.2,802.81L729.2,808.12C587.5,808.12 587.5,746.10 445.7,746.10Z" fill="#6D4A98" stroke="#6D4A98"/>
<path d="M445.7,743.01C587.5,743.01 587.5,855.66 729.2,855.66L729.2,859.66C587.5,859.66 587.5,747.01 445.7,747.01Z" fill="#6E6E6E" stroke="#6E6E6E"/>
<path d="M445.7,743.92C587.5,743.92 587.5,896.81 729.2,896.81L729.2,903.21C587.5,903.21 587.5,750.12 445.7,750.12Z" fill="#EE8C3F" stroke="#EE8C3F"/>
<path d="M445.7,747.92C587.5,747.92 587.5,932.67 729.2,932.67L729.2,938.97C587.5,938.97 587.5,754.12 445.7,754.12Z" fill="#C497C6" stroke="#C497C6"/>
<path d="M445.7,751.92C587.5,751.92 587.5,971.66 729.2,971.66L729.2,978.08C587.5,978.08 587.5,758.12 445.7,758.12Z" fill="#8CB3D3" stroke="#8CB3D3"/>
<path d="M445.7,755.03C587.5,755.03 587.5,1008.46 729.2,1008.46L729.2,1012.46C587.5,1012.46 587.5,759.03 445.7,759.03Z" fill="#2A76AE" stroke="#2A76AE"/>
<path d="M445.7,755.04C587.5,755.04 587.5,1095.64 729.2,1095.64L729.2,1099.64C587.5,1099.64 587.5,759.04 445.7,759.04Z" fill="#CBD43F" stroke="#CBD43F"/>
<path d="M445.7,755.94C587.5,755.94 587.5,1111.65 729.2,1111.65L729.2,1116.34C587.5,1116.34 587.5,760.40 445.7,760.40Z" fill="#405A40" stroke="#405A40"/>
<path d="M445.7,758.20C587.5,758.20 587.5,1126.30 729.2,1126.30L729.2,1131.70C587.5,1131.70 587.5,763.40 445.7,763.40Z" fill="#F6CEE0" stroke="#F6CEE0"/>
<path d="M445.7,781.10C587.5,781.10 587.5,658.61 729.2,658.61L729.2,662.90C587.5,662.90 587.5,785.30 445.7,785.30Z" fill="#66B869" stroke="#66B869"/>
<path d="M445.7,783.10C587.5,783.10 587.5,762.24 729.2,762.24L729.2,767.07C587.5,767.07 587.5,787.80 445.7,787.80Z" fill="#ECAD6D" stroke="#ECAD6D"/>
<path d="M445.7,786.43C587.5,786.43 587.5,806.79 729.2,806.79L729.2,817.61C587.5,817.61 587.5,796.98 445.7,796.98Z" fill="#6D4A98" stroke="#6D4A98"/>
<path d="M445.7,795.60C587.5,795.60 587.5,856.57 729.2,856.57L729.2,861.45C587.5,861.45 587.5,800.30 445.7,800.30Z" fill="#6E6E6E" stroke="#6E6E6E"/>
<path d="M445.7,798.10C587.5,798.10 587.5,901.05 729.2,901.05L729.2,905.92C587.5,905.92 587.5,802.80 445.7,802.80Z" fill="#EE8C3F" stroke="#EE8C3F"/>
<path d="M445.7,800.60C587.5,800.60 587.5,936.80 729.2,936.80L729.2,943.03C587.5,943.03 587.5,806.70 445.7,806.70Z" fill="#C497C6" stroke="#C497C6"/>
<path d="M445.7,803.89C587.5,803.89 587.5,1033.84 729.2,1033.84L729.2,1037.84C587.5,1037.84 587.5,807.89 445.7,807.89Z" fill="#A7CCE0" stroke="#A7CCE0"/>
<path d="M445.7,804.20C587.5,804.20 587.5,1079.55 729.2,1079.55L729.2,1083.55C587.5,1083.55 587.5,808.20 445.7,808.20Z" fill="#5BA86E" stroke="#5BA86E"/>
<path d="M445.7,804.41C587.5,804.41 587.5,1139.41 729.2,1139.41L729.2,1143.41C587.5,1143.41 587.5,808.41 445.7,808.41Z" fill="#F3E443" stroke="#F3E443"/>
<path d="M445.7,818.71C587.5,818.71 587.5,660.94 729.2,660.94L729.2,668.40C587.5,668.40 587.5,825.99 445.7,825.99Z" fill="#66B869" stroke="#66B869"/>
<path d="M445.7,824.02C587.5,824.02 587.5,764.93 729.2,764.93L729.2,771.41C587.5,771.41 587.5,830.35 445.7,830.35Z" fill="#ECAD6D" stroke="#ECAD6D"/>
<path d="M445.7,828.17C587.5,828.17 587.5,816.28 729.2,816.28L729.2,822.20C587.5,822.20 587.5,833.95 445.7,833.95Z" fill="#6D4A98" stroke="#6D4A98"/>
<path d="M445.7,831.75C587.5,831.75 587.5,859.25 729.2,859.25L729.2,863.82C587.5,863.82 587.5,836.15 445.7,836.15Z" fill="#6E6E6E" stroke="#6E6E6E"/>
<path d="M445.7,833.95C587.5,833.95 587.5,975.92 729.2,975.92L729.2,981.43C587.5,981.43 587.5,839.24 445.7,839.24Z" fill="#8CB3D3" stroke="#8CB3D3"/>
<path d="M445.7,836.87C587.5,836.87 587.5,1034.95 729.2,1034.95L729.2,1038.95C587.5,1038.95 587.5,840.87 445.7,840.87Z" fill="#A7CCE0" stroke="#A7CCE0"/>
<path d="M445.7,838.50C587.5,838.50 587.5,1080.47 729.2,1080.47L729.2,1085.51C587.5,1085.51 587.5,843.36 445.7,843.36Z" fill="#5BA86E" stroke="#5BA86E"/>
<path d="M445.7,840.51C587.5,840.51 587.5,1128.86 729.2,1128.86L729.2,1132.86C587.5,1132.86 587.5,844.51 445.7,844.51Z" fill="#F6CEE0" stroke="#F6CEE0"/>
<path d="M445.7,841.42C587.5,841.42 587.5,1140.37 729.2,1140.37L729.2,1144.37C587.5,1144.37 587.5,845.42 445.7,845.42Z" fill="#F3E443" stroke="#F3E443"/>
<path d="M445.7,856.11C587.5,856.11 587.5,666.48 729.2,666.48L729.2,672.89C587.5,672.89 587.5,862.39 445.7,862.39Z" fill="#66B869" stroke="#66B869"/>
<path d="M445.7,859.53C587.5,859.53 587.5,768.60 729.2,768.60L729.2,772.60C587.5,772.60 587.5,863.53 445.7,863.53Z" fill="#ECAD6D" stroke="#ECAD6D"/>
<path d="M445.7,860.65C587.5,860.65 587.5,820.00 729.2,820.00L729.2,824.53C587.5,824.53 587.5,865.10 445.7,865.10Z" fill="#6D4A98" stroke="#6D4A98"/>
<path d="M445.7,862.96C587.5,862.96 587.5,903.82 729.2,903.82L729.2,910.58C587.5,910.58 587.5,869.50 445.7,869.50Z" fill="#EE8C3F" stroke="#EE8C3F"/>
<path d="M445.7,867.57C587.5,867.57 587.5,941.08 729.2,941.08L729.2,948.51C587.5,948.51 587.5,874.86 445.7,874.86Z" fill="#C497C6" stroke="#C497C6"/>
<path d="M445.7,873.00C587.5,873.00 587.5,979.42 729.2,979.42L729.2,986.60C587.5,986.60 587.5,879.91 445.7,879.91Z" fill="#8CB3D3" stroke="#8CB3D3"/>
<path d="M445.7,877.36C587.5,877.36 587.5,1082.86 729.2,1082.86L729.2,1086.86C587.5,1086.86 587.5,881.36 445.7,881.36Z" fill="#5BA86E" stroke="#5BA86E"/>
<path d="M445.7,878.19C587.5,878.19 587.5,1129.55 729.2,1129.55L729.2,1133.55C587.5,1133.55 587.5,882.19 445.7,882.19Z" fill="#F6CEE0" stroke="#F6CEE0"/>
<path d="M445.7,892.61C587.5,892.61 587.5,670.97 729.2,670.97L729.2,678.43C587.5,678.43 587.5,899.89 445.7,899.89Z" fill="#66B869" stroke="#66B869"/>
<path d="M445.7,897.90C587.5,897.90 587.5,769.74 729.2,769.74L729.2,773.92C587.5,773.92 587.5,901.98 445.7,901.98Z" fill="#ECAD6D" stroke="#ECAD6D"/>
<path d="M445.7,899.26C587.5,899.26 587.5,861.12 729.2,861.12L729.2,865.12C587.5,865.12 587.5,903.26 445.7,903.26Z" fill="#6E6E6E" stroke="#6E6E6E"/>
<path d="M445.7,900.54C587.5,900.54 587.5,908.52 729.2,908.52L729.2,914.92C587.5,914.92 587.5,906.73 445.7,906.73Z" fill="#EE8C3F" stroke="#EE8C3F"/>
<path d="M445.7,904.74C587.5,904.74 587.5,946.78 729.2,946.78L729.2,954.22C587.5,954.22 587.5,912.03 445.7,912.03Z" fill="#C497C6" stroke="#C497C6"/>
<path d="M445.7,910.03C587.5,910.03 587.5,1036.64 729.2,1036.64L729.2,1041.52C587.5,1041.52 587.5,914.68 445.7,914.68Z" fill="#A7CCE0" stroke="#A7CCE0"/>
<path d="M445.7,912.08C587.5,912.08 587.5,1096.17 729.2,1096.17L729.2,1100.17C587.5,1100.17 587.5,916.08 445.7,916.08Z" fill="#CBD43F" stroke="#CBD43F"/>
<path d="M445.7,913.04C587.5,913.04 587.5,1141.63 729.2,1141.63L729.2,1145.63C587.5,1145.63 587.5,917.04 445.7,917.04Z" fill="#F3E443" stroke="#F3E443"/>
<path d="M445.7,928.70C587.5,928.70 587.5,676.47 729.2,676.47L729.2,681.61C587.5,681.61 587.5,933.71 445.7,933.71Z" fill="#66B869" stroke="#66B869"/>
<path d="M445.7,931.51C587.5,931.51 587.5,771.72 729.2,771.72L729.2,776.03C587.5,776.03 587.5,935.72 445.7,935.72Z" fill="#ECAD6D" stroke="#ECAD6D"/>
<path d="M445.7,933.52C587.5,933.52 587.5,822.33 729.2,822.33L729.2,826.99C587.5,826.99 587.5,938.09 445.7,938.09Z" fill="#6D4A98" stroke="#6D4A98"/>
<path d="M445.7,935.89C587.5,935.89 587.5,912.75 729.2,912.75L729.2,918.35C587.5,918.35 587.5,941.27 445.7,941.27Z" fill="#EE8C3F" stroke="#EE8C3F"/>
<path d="M445.7,939.27C587.5,939.27 587.5,1009.61 729.2,1009.61L729.2,1017.12C587.5,1017.12 587.5,946.56 445.7,946.56Z" fill="#2A76AE" stroke="#2A76AE"/>
<path d="M445.7,944.57C587.5,944.57 587.5,1143.04 729.2,1143.04L729.2,1147.27C587.5,1147.27 587.5,948.60 445.7,948.60Z" fill="#F3E443" stroke="#F3E443"/>
<path d="M445.7,957.74C587.5,957.74 587.5,679.28 729.2,679.28L729.2,683.28C587.5,683.28 587.5,961.74 445.7,961.74Z" fill="#66B869" stroke="#66B869"/>
<path d="M445.7,959.58C587.5,959.58 587.5,825.02 729.2,825.02L729.2,832.45C587.5,832.45 587.5,966.87 445.7,966.87Z" fill="#6D4A98" stroke="#6D4A98"/>
<path d="M445.7,964.76C587.5,964.76 587.5,862.38 729.2,862.38L729.2,866.38C587.5,866.38 587.5,968.76 445.7,968.76Z" fill="#6E6E6E" stroke="#6E6E6E"/>
<path d="M445.7,966.45C587.5,966.45 587.5,1097.60 729.2,1097.60L729.2,1102.66C587.5,1102.66 587.5,971.32 445.7,971.32Z" fill="#CBD43F" stroke="#CBD43F"/>
<path d="M445.7,969.12C587.5,969.12 587.5,1130.89 729.2,1130.89L729.2,1136.58C587.5,1136.58 587.5,974.60 445.7,974.60Z" fill="#F6CEE0" stroke="#F6CEE0"/>
<path d="M445.7,981.23C587.5,981.23 587.5,681.00 729.2,681.00L729.2,687.51C587.5,687.51 587.5,987.60 445.7,987.60Z" fill="#66B869" stroke="#66B869"/>
<path d="M445.7,985.61C587.5,985.61 587.5,774.04 729.2,774.04L729.2,781.36C587.5,781.36 587.5,992.73 445.7,992.73Z" fill="#ECAD6D" stroke="#ECAD6D"/>
<path d="M445.7,990.32C587.5,990.32 587.5,863.78 729.2,863.78L729.2,867.78C587.5,867.78 587.5,994.32 445.7,994.32Z" fill="#6E6E6E" stroke="#6E6E6E"/>
<path d="M445.7,991.75C587.5,991.75 587.5,1084.20 729.2,1084.20L729.2,1088.93C587.5,1088.93 587.5,996.32 445.7,996.32Z" fill="#5BA86E" stroke="#5BA86E"/>
<path d="M445.7,993.46C587.5,993.46 587.5,1099.82 729.2,1099.82L729.2,1103.82C587.5,1103.82 587.5,997.46 445.7,997.46Z" fill="#CBD43F" stroke="#CBD43F"/>
<path d="M445.7,1003.12C587.5,1003.12 587.5,685.42 729.2,685.42L729.2,691.88C587.5,691.88 587.5,1009.46 445.7,1009.46Z" fill="#66B869" stroke="#66B869"/>
<path d="M445.7,1006.76C587.5,1006.76 587.5,864.75 729.2,864.75L729.2,868.75C587.5,868.75 587.5,1010.76 445.7,1010.76Z" fill="#6E6E6E" stroke="#6E6E6E"/>
<path d="M445.7,1007.99C587.5,1007.99 587.5,916.15 729.2,916.15L729.2,920.19C587.5,920.19 587.5,1011.99 445.7,1011.99Z" fill="#EE8C3F" stroke="#EE8C3F"/>
<path d="M445.7,1009.75C587.5,1009.75 587.5,984.58 729.2,984.58L729.2,990.63C587.5,990.63 587.5,1015.54 445.7,1015.54Z" fill="#8CB3D3" stroke="#8CB3D3"/>
<path d="M445.7,1013.34C587.5,1013.34 587.5,1039.32 729.2,1039.32L729.2,1044.31C587.5,1044.31 587.5,1018.10 445.7,1018.10Z" fill="#A7CCE0" stroke="#A7CCE0"/>
<path d="M445.7,1025.80C587.5,1025.80 587.5,689.73 729.2,689.73L729.2,694.42C587.5,694.42 587.5,1030.38 445.7,1030.38Z" fill="#66B869" stroke="#66B869"/>
<path d="M445.7,1027.90C587.5,1027.90 587.5,830.23 729.2,830.23L729.2,834.23C587.5,834.23 587.5,1031.90 445.7,1031.90Z" fill="#6D4A98" stroke="#6D4A98"/>
<path d="M445.7,1029.42C587.5,1029.42 587.5,866.05 729.2,866.05L729.2,871.35C587.5,871.35 587.5,1034.51 445.7,1034.51Z" fill="#6E6E6E" stroke="#6E6E6E"/>
<path d="M445.7,1032.03C587.5,1032.03 587.5,1041.90 729.2,1041.90L729.2,1045.90C587.5,1045.90 587.5,1036.03 445.7,1036.03Z" fill="#A7CCE0" stroke="#A7CCE0"/>
<path d="M445.7,1033.56C587.5,1033.56 587.5,1100.98 729.2,1100.98L729.2,1105.26C587.5,1105.26 587.5,1037.70 445.7,1037.70Z" fill="#CBD43F" stroke="#CBD43F"/>
<path d="M445.7,1042.23C587.5,1042.23 587.5,691.87 729.2,691.87L729.2,695.87C587.5,695.87 587.5,1046.23 445.7,1046.23Z" fill="#66B869" stroke="#66B869"/>
<path d="M445.7,1042.92C587.5,1042.92 587.5,778.64 729.2,778.64L729.2,782.64C587.5,782.64 587.5,1046.92 445.7,1046.92Z" fill="#ECAD6D" stroke="#ECAD6D"/>
<path d="M445.7,1043.24C587.5,1043.24 587.5,868.43 729.2,868.43L729.2,872.43C587.5,872.43 587.5,1047.24 445.7,1047.24Z" fill="#6E6E6E" stroke="#6E6E6E"/>
<path d="M445.7,1044.31C587.5,1044.31 587.5,1015.17 729.2,1015.17L729.2,1019.86C587.5,1019.86 587.5,1048.87 445.7,1048.87Z" fill="#2A76AE" stroke="#2A76AE"/>
<path d="M445.7,1046.67C587.5,1046.67 587.5,1059.81 729.2,1059.81L729.2,1065.52C587.5,1065.52 587.5,1052.10 445.7,1052.10Z" fill="#F1BC6C" stroke="#F1BC6C"/>
<path d="M445.7,1056.20C587.5,1056.20 587.5,693.33 729.2,693.33L729.2,697.41C587.5,697.41 587.5,1060.20 445.7,1060.20Z" fill="#66B869" stroke="#66B869"/>
<path d="M445.7,1057.23C587.5,1057.23 587.5,778.93 729.2,778.93L729.2,782.93C587.5,782.93 587.5,1061.23 445.7,1061.23Z" fill="#ECAD6D" stroke="#ECAD6D"/>
<path d="M445.7,1057.67C587.5,1057.67 587.5,831.19 729.2,831.19L729.2,835.19C587.5,835.19 587.5,1061.67 445.7,1061.67Z" fill="#6D4A98" stroke="#6D4A98"/>
<path d="M445.7,1058.81C587.5,1058.81 587.5,869.51 729.2,869.51L729.2,873.51C587.5,873.51 587.5,1062.81 445.7,1062.81Z" fill="#6E6E6E" stroke="#6E6E6E"/>
<path d="M445.7,1060.54C587.5,1060.54 587.5,1043.48 729.2,1043.48L729.2,1049.34C587.5,1049.34 587.5,1066.10 445.7,1066.10Z" fill="#A7CCE0" stroke="#A7CCE0"/>
<path d="M445.7,1069.80C587.5,1069.80 587.5,695.15 729.2,695.15L729.2,699.15C587.5,699.15 587.5,1073.80 445.7,1073.80Z" fill="#66B869" stroke="#66B869"/>
<path d="M445.7,1070.83C587.5,1070.83 587.5,779.31 729.2,779.31L729.2,783.31C587.5,783.31 587.5,1074.83 445.7,1074.83Z" fill="#ECAD6D" stroke="#ECAD6D"/>
<path d="M445.7,1071.27C587.5,1071.27 587.5,831.72 729.2,831.72L729.2,835.72C587.5,835.72 587.5,1075.27 445.7,1075.27Z" fill="#6D4A98" stroke="#6D4A98"/>
<path d="M445.7,1072.42C587.5,1072.42 587.5,871.40 729.2,871.40L729.2,878.06C587.5,878.06 587.5,1078.85 445.7,1078.85Z" fill="#6E6E6E" stroke="#6E6E6E"/>
<path d="M445.7,1076.05C587.5,1076.05 587.5,1102.43 729.2,1102.43L729.2,1106.43C587.5,1106.43 587.5,1080.05 445.7,1080.05Z" fill="#CBD43F" stroke="#CBD43F"/>
<path d="M445.7,1081.97C587.5,1081.97 587.5,696.16 729.2,696.16L729.2,700.16C587.5,700.16 587.5,1085.97 445.7,1085.97Z" fill="#66B869" stroke="#66B869"/>
<path d="M445.7,1082.37C587.5,1082.37 587.5,917.34 729.2,917.34L729.2,921.34C587.5,921.34 587.5,1086.37 445.7,1086.37Z" fill="#EE8C3F" stroke="#EE8C3F"/>
<path d="M445.7,1083.32C587.5,1083.32 587.5,1017.52 729.2,1017.52L729.2,1021.52C587.5,1021.52 587.5,1087.32 445.7,1087.32Z" fill="#2A76AE" stroke="#2A76AE"/>
<path d="M445.7,1084.99C587.5,1084.99 587.5,1063.41 729.2,1063.41L729.2,1070.14C587.5,1070.14 587.5,1091.44 445.7,1091.44Z" fill="#F1BC6C" stroke="#F1BC6C"/>
<path d="M445.7,1088.49C587.5,1088.49 587.5,1144.29 729.2,1144.29L729.2,1148.29C587.5,1148.29 587.5,1092.49 445.7,1092.49Z" fill="#F3E443" stroke="#F3E443"/>
<path d="M445.7,1095.60C587.5,1095.60 587.5,697.24 729.2,697.24L729.2,701.43C587.5,701.43 587.5,1099.71 445.7,1099.71Z" fill="#66B869" stroke="#66B869"/>
<path d="M445.7,1097.39C587.5,1097.39 587.5,875.89 729.2,875.89L729.2,879.89C587.5,879.89 587.5,1101.39 445.7,1101.39Z" fill="#6E6E6E" stroke="#6E6E6E"/>
<path d="M445.7,1098.98C587.5,1098.98 587.5,1019.14 729.2,1019.14L729.2,1023.14C587.5,1023.14 587.5,1102.98 445.7,1102.98Z" fill="#2A76AE" stroke="#2A76AE"/>
<path d="M445.7,1099.93C587.5,1099.93 587.5,1085.96 729.2,1085.96L729.2,1089.96C587.5,1089.96 587.5,1103.93 445.7,1103.93Z" fill="#5BA86E" stroke="#5BA86E"/>
<path d="M445.7,1100.73C587.5,1100.73 587.5,1145.16 729.2,1145.16L729.2,1149.16C587.5,1149.16 587.5,1104.73 445.7,1104.73Z" fill="#F3E443" stroke="#F3E443"/>
<path d="M445.7,1107.42C587.5,1107.42 587.5,698.78 729.2,698.78L729.2,702.78C587.5,702.78 587.5,1111.42 445.7,1111.42Z" fill="#66B869" stroke="#66B869"/>
<path d="M445.7,1108.04C587.5,1108.04 587.5,876.94 729.2,876.94L729.2,880.94C587.5,880.94 587.5,1112.04 445.7,1112.04Z" fill="#6E6E6E" stroke="#6E6E6E"/>
<path d="M445.7,1108.32C587.5,1108.32 587.5,917.66 729.2,917.66L729.2,921.66C587.5,921.66 587.5,1112.32 445.7,1112.32Z" fill="#EE8C3F" stroke="#EE8C3F"/>
<path d="M445.7,1109.32C587.5,1109.32 587.5,952.30 729.2,952.30L729.2,958.75C587.5,958.75 587.5,1115.66 445.7,1115.66Z" fill="#C497C6" stroke="#C497C6"/>
<path d="M445.7,1112.64C587.5,1112.64 587.5,1133.54 729.2,1133.54L729.2,1137.54C587.5,1137.54 587.5,1116.64 445.7,1116.64Z" fill="#F6CEE0" stroke="#F6CEE0"/>
<path d="M445.7,1118.49C587.5,1118.49 587.5,699.31 729.2,699.31L729.2,703.31C587.5,703.31 587.5,1122.49 445.7,1122.49Z" fill="#66B869" stroke="#66B869"/>
<path d="M445.7,1119.32C587.5,1119.32 587.5,780.33 729.2,780.33L729.2,784.33C587.5,784.33 587.5,1123.32 445.7,1123.32Z" fill="#ECAD6D" stroke="#ECAD6D"/>
<path d="M445.7,1120.43C587.5,1120.43 587.5,918.14 729.2,918.14L729.2,922.14C587.5,922.14 587.5,1124.43 445.7,1124.43Z" fill="#EE8C3F" stroke="#EE8C3F"/>
<path d="M445.7,1121.69C587.5,1121.69 587.5,1020.90 729.2,1020.90L729.2,1025.70C587.5,1025.70 587.5,1126.35 445.7,1126.35Z" fill="#2A76AE" stroke="#2A76AE"/>
<path d="M445.7,1123.73C587.5,1123.73 587.5,1067.65 729.2,1067.65L729.2,1071.65C587.5,1071.65 587.5,1127.73 445.7,1127.73Z" fill="#F1BC6C" stroke="#F1BC6C"/>
<path d="M445.7,1129.34C587.5,1129.34 587.5,699.45 729.2,699.45L729.2,703.45C587.5,703.45 587.5,1133.34 445.7,1133.34Z" fill="#66B869" stroke="#66B869"/>
<path d="M445.7,1129.42C587.5,1129.42 587.5,831.97 729.2,831.97L729.2,835.97C587.5,835.97 587.5,1133.42 445.7,1133.42Z" fill="#6D4A98" stroke="#6D4A98"/>
<path d="M445.7,1129.47C587.5,1129.47 587.5,877.16 729.2,877.16L729.2,881.16C587.5,881.16 587.5,1133.47 445.7,1133.47Z" fill="#6E6E6E" stroke="#6E6E6E"/>
<path d="M445.7,1129.55C587.5,1129.55 587.5,1068.23 729.2,1068.23L729.2,1072.23C587.5,1072.23 587.5,1133.55 445.7,1133.55Z" fill="#F1BC6C" stroke="#F1BC6C"/>
<path d="M445.7,1130.69C587.5,1130.69 587.5,1114.40 729.2,1114.40L729.2,1121.94C587.5,1121.94 587.5,1137.82 445.7,1137.82Z" fill="#405A40" stroke="#405A40"/>
<path d="M445.7,1140.28C587.5,1140.28 587.5,781.41 729.2,781.41L729.2,785.41C587.5,785.41 587.5,1144.28 445.7,1144.28Z" fill="#ECAD6D" stroke="#ECAD6D"/>
<path d="M445.7,1140.94C587.5,1140.94 587.5,877.59 729.2,877.59L729.2,881.59C587.5,881.59 587.5,1144.94 445.7,1144.94Z" fill="#6E6E6E" stroke="#6E6E6E"/>
<path d="M445.7,1141.54C587.5,1141.54 587.5,918.76 729.2,918.76L729.2,922.76C587.5,922.76 587.5,1145.54 445.7,1145.54Z" fill="#EE8C3F" stroke="#EE8C3F"/>
<path d="M445.7,1142.66C587.5,1142.66 587.5,988.43 729.2,988.43L729.2,994.50C587.5,994.50 587.5,1148.46 445.7,1148.46Z" fill="#8CB3D3" stroke="#8CB3D3"/>
<path d="M445.7,1145.48C587.5,1145.48 587.5,1046.37 729.2,1046.37L729.2,1050.37C587.5,1050.37 587.5,1149.48 445.7,1149.48Z" fill="#A7CCE0" stroke="#A7CCE0"/>
</g>
<rect x="72.10" y="633.20" width="44.70" height="69.20" fill="#6D4A98" stroke="#000" stroke-width="2.0"/>
<rect x="72.10" y="735.40" width="44.70" height="64.50" fill="#66B869" stroke="#000" stroke-width="2.0"/>
<rect x="72.10" y="844.20" width="44.70" height="34.30" fill="#6E6E6E" stroke="#000" stroke-width="2.0"/>
<rect x="72.10" y="901.50" width="44.70" height="21.80" fill="#EE8C3F" stroke="#000" stroke-width="2.0"/>
<rect x="72.10" y="934.50" width="44.70" height="21.70" fill="#ECAD6D" stroke="#000" stroke-width="2.0"/>
<rect x="72.10" y="968.30" width="44.70" height="19.00" fill="#2A76AE" stroke="#000" stroke-width="2.0"/>
<rect x="72.10" y="997.20" width="44.70" height="18.90" fill="#C497C6" stroke="#000" stroke-width="2.0"/>
<rect x="72.10" y="1028.40" width="44.70" height="13.20" fill="#A7CCE0" stroke="#000" stroke-width="2.0"/>
<rect x="72.10" y="1049.70" width="44.70" height="12.80" fill="#CBD43F" stroke="#000" stroke-width="2.0"/>
<rect x="72.10" y="1070.30" width="44.70" height="12.00" fill="#F6CEE0" stroke="#000" stroke-width="2.0"/>
<rect x="72.10" y="1091.50" width="44.70" height="8.20" fill="#B97B59" stroke="#000" stroke-width="2.0"/>
<rect x="72.10" y="1104.90" width="44.70" height="7.40" fill="#F3E443" stroke="#000" stroke-width="2.0"/>
<rect x="72.10" y="1117.20" width="44.70" height="7.40" fill="#405A40" stroke="#000" stroke-width="2.0"/>
<rect x="72.10" y="1129.20" width="44.70" height="6.70" fill="#F1BC6C" stroke="#000" stroke-width="2.0"/>
<rect x="72.10" y="1140.80" width="44.70" height="6.70" fill="#8CB3D3" stroke="#000" stroke-width="2.0"/>
<rect x="400.80" y="640.70" width="44.90" height="54.00" fill="#C4D8B4" stroke="#000" stroke-width="2.0"/>
<rect x="400.80" y="729.50" width="44.90" height="32.80" fill="#B2DEDA" stroke="#000" stroke-width="2.0"/>
<rect x="400.80" y="782.20" width="44.90" height="24.40" fill="#BBDDA5" stroke="#000" stroke-width="2.0"/>
<rect x="400.80" y="819.60" width="44.90" height="24.50" fill="#A1D6CB" stroke="#000" stroke-width="2.0"/>
<rect x="400.80" y="857.20" width="44.90" height="23.40" fill="#96D3DE" stroke="#000" stroke-width="2.0"/>
<rect x="400.80" y="893.50" width="44.90" height="22.00" fill="#8ED0E8" stroke="#000" stroke-width="2.0"/>
<rect x="400.80" y="929.80" width="44.90" height="17.70" fill="#9FBDE3" stroke="#000" stroke-width="2.0"/>
<rect x="400.80" y="959.00" width="44.90" height="14.50" fill="#C8B3D9" stroke="#000" stroke-width="2.0"/>
<rect x="400.80" y="982.30" width="44.90" height="13.40" fill="#C7C3E1" stroke="#000" stroke-width="2.0"/>
<rect x="400.80" y="1004.20" width="44.90" height="12.80" fill="#E3C0E0" stroke="#000" stroke-width="2.0"/>
<rect x="400.80" y="1026.90" width="44.90" height="9.70" fill="#F8CCD3" stroke="#000" stroke-width="2.0"/>
<rect x="400.80" y="1043.70" width="44.90" height="7.30" fill="#FBE3D3" stroke="#000" stroke-width="2.0"/>
<rect x="400.80" y="1057.30" width="44.90" height="7.70" fill="#F6F1C8" stroke="#000" stroke-width="2.0"/>
<rect x="400.80" y="1071.00" width="44.90" height="7.30" fill="#F29A98" stroke="#000" stroke-width="2.0"/>
<rect x="400.80" y="1083.80" width="44.90" height="6.80" fill="#F5AE98" stroke="#000" stroke-width="2.0"/>
<rect x="400.80" y="1096.70" width="44.90" height="6.70" fill="#F5C59A" stroke="#000" stroke-width="2.0"/>
<rect x="400.80" y="1109.00" width="44.90" height="5.70" fill="#F6DA9A" stroke="#000" stroke-width="2.0"/>
<rect x="400.80" y="1120.40" width="44.90" height="5.80" fill="#E8E6A9" stroke="#000" stroke-width="2.0"/>
<rect x="400.80" y="1131.30" width="44.90" height="5.60" fill="#C6DFB8" stroke="#000" stroke-width="2.0"/>
<rect x="400.80" y="1142.00" width="44.90" height="5.60" fill="#B3E1DC" stroke="#000" stroke-width="2.0"/>
<rect x="729.20" y="633.70" width="45.10" height="67.80" fill="#66B869" stroke="#000" stroke-width="2.0"/>
<rect x="729.20" y="748.30" width="45.10" height="35.40" fill="#ECAD6D" stroke="#000" stroke-width="2.0"/>
<rect x="729.20" y="801.90" width="45.10" height="32.10" fill="#6D4A98" stroke="#000" stroke-width="2.0"/>
<rect x="729.20" y="851.40" width="45.10" height="28.60" fill="#6E6E6E" stroke="#000" stroke-width="2.0"/>
<rect x="729.20" y="895.80" width="45.10" height="25.20" fill="#EE8C3F" stroke="#000" stroke-width="2.0"/>
<rect x="729.20" y="933.70" width="45.10" height="24.00" fill="#C497C6" stroke="#000" stroke-width="2.0"/>
<rect x="729.20" y="969.60" width="45.10" height="23.80" fill="#8CB3D3" stroke="#000" stroke-width="2.0"/>
<rect x="729.20" y="1008.40" width="45.10" height="16.20" fill="#2A76AE" stroke="#000" stroke-width="2.0"/>
<rect x="729.20" y="1033.40" width="45.10" height="15.10" fill="#A7CCE0" stroke="#000" stroke-width="2.0"/>
<rect x="729.20" y="1058.80" width="45.10" height="11.50" fill="#F1BC6C" stroke="#000" stroke-width="2.0"/>
<rect x="729.20" y="1077.40" width="45.10" height="10.70" fill="#5BA86E" stroke="#000" stroke-width="2.0"/>
<rect x="729.20" y="1094.00" width="45.10" height="10.70" fill="#CBD43F" stroke="#000" stroke-width="2.0"/>
<rect x="729.20" y="1111.00" width="45.10" height="10.10" fill="#405A40" stroke="#000" stroke-width="2.0"/>
<rect x="729.20" y="1127.40" width="45.10" height="8.20" fill="#F6CEE0" stroke="#000" stroke-width="2.0"/>
<rect x="729.20" y="1141.20" width="45.10" height="6.70" fill="#F3E443" stroke="#000" stroke-width="2.0"/>
<text x="122.5" y="673.0" font-size="16" fill="#2A3F5F" stroke="#2A3F5F" stroke-width="0.22">Marinisomatales</text>
<text x="122.5" y="772.9" font-size="16" fill="#2A3F5F" stroke="#2A3F5F" stroke-width="0.22">Acidimicrobiales</text>
<text x="122.5" y="866.6" font-size="16" fill="#2A3F5F" stroke="#2A3F5F" stroke-width="0.22">Pedosphaerales</text>
<text x="122.5" y="917.6" font-size="16" fill="#2A3F5F" stroke="#2A3F5F" stroke-width="0.22">Enterobacterales</text>
<text x="122.5" y="950.6" font-size="16" fill="#2A3F5F" stroke="#2A3F5F" stroke-width="0.22">Pseudomonadales</text>
<text x="122.5" y="983.0" font-size="16" fill="#2A3F5F" stroke="#2A3F5F" stroke-width="0.22">SAR324</text>
<text x="122.5" y="1011.9" font-size="16" fill="#2A3F5F" stroke="#2A3F5F" stroke-width="0.22">Arenicellales</text>
<text x="122.5" y="1040.2" font-size="16" fill="#2A3F5F" stroke="#2A3F5F" stroke-width="0.22">UBA3495</text>
<text x="122.5" y="1061.3" font-size="16" fill="#2A3F5F" stroke="#2A3F5F" stroke-width="0.22">Poseidoniales</text>
<text x="122.5" y="1081.5" font-size="16" fill="#2A3F5F" stroke="#2A3F5F" stroke-width="0.22">Rhodospirillales</text>
<text x="122.5" y="1100.8" font-size="16" fill="#2A3F5F" stroke="#2A3F5F" stroke-width="0.22">Vicinamibacterales</text>
<text x="122.5" y="1113.8" font-size="16" fill="#2A3F5F" stroke="#2A3F5F" stroke-width="0.22">Longimicrobiales</text>
<text x="122.5" y="1126.1" font-size="16" fill="#2A3F5F" stroke="#2A3F5F" stroke-width="0.22">Nitrososphaerales</text>
<text x="122.5" y="1137.8" font-size="16" fill="#2A3F5F" stroke="#2A3F5F" stroke-width="0.22">SAR202</text>
<text x="122.5" y="1149.4" font-size="16" fill="#2A3F5F" stroke="#2A3F5F" stroke-width="0.22">HIMB59</text>
<text x="451.4" y="671.8" font-size="14" fill="#2A3F5F" stroke="#2A3F5F" stroke-width="0.22">Hydrogen sulfide</text>
<text x="451.4" y="750.0" font-size="14" fill="#2A3F5F" stroke="#2A3F5F" stroke-width="0.22">Phosphate</text>
<text x="451.4" y="798.5" font-size="14" fill="#2A3F5F" stroke="#2A3F5F" stroke-width="0.22">Benzoate</text>
<text x="451.4" y="836.0" font-size="14" fill="#2A3F5F" stroke="#2A3F5F" stroke-width="0.22">Ammonium</text>
<text x="451.4" y="873.0" font-size="14" fill="#2A3F5F" stroke="#2A3F5F" stroke-width="0.22">Iron (Fe<tspan font-size="9.8" dy="-5.6">3+</tspan><tspan dy="5.6">)</tspan></text>
<text x="451.4" y="908.6" font-size="14" fill="#2A3F5F" stroke="#2A3F5F" stroke-width="0.22">O<tspan font-size="9.8" dy="2.8">2</tspan></text>
<text x="451.4" y="942.8" font-size="14" fill="#2A3F5F" stroke="#2A3F5F" stroke-width="0.22">Uracil</text>
<text x="451.4" y="970.4" font-size="14" fill="#2A3F5F" stroke="#2A3F5F" stroke-width="0.22">L-Lysine</text>
<text x="451.4" y="993.1" font-size="14" fill="#2A3F5F" stroke="#2A3F5F" stroke-width="0.22">(R)-Pantothenate</text>
<text x="451.4" y="1014.7" font-size="14" fill="#2A3F5F" stroke="#2A3F5F" stroke-width="0.22">Ornithine</text>
<text x="451.4" y="1035.8" font-size="14" fill="#2A3F5F" stroke="#2A3F5F" stroke-width="0.22">L-Histidine</text>
<text x="451.4" y="1051.4" font-size="14" fill="#2A3F5F" stroke="#2A3F5F" stroke-width="0.22">Succinate</text>
<text x="451.4" y="1065.2" font-size="14" fill="#2A3F5F" stroke="#2A3F5F" stroke-width="0.22">Acetaldehyde</text>
<text x="451.4" y="1078.8" font-size="14" fill="#2A3F5F" stroke="#2A3F5F" stroke-width="0.22">Coenzyme A</text>
<text x="451.4" y="1091.3" font-size="14" fill="#2A3F5F" stroke="#2A3F5F" stroke-width="0.22">Sulfur</text>
<text x="451.4" y="1104.2" font-size="14" fill="#2A3F5F" stroke="#2A3F5F" stroke-width="0.22">N-Acetyl-D-glucosamine 1-phosphate</text>
<text x="451.4" y="1115.9" font-size="14" fill="#2A3F5F" stroke="#2A3F5F" stroke-width="0.22">L-Glutamate</text>
<text x="451.4" y="1127.4" font-size="14" fill="#2A3F5F" stroke="#2A3F5F" stroke-width="0.22">Nitrite</text>
<text x="451.4" y="1138.2" font-size="14" fill="#2A3F5F" stroke="#2A3F5F" stroke-width="0.22">Ferrypyoverdine</text>
<text x="451.4" y="1148.9" font-size="14" fill="#2A3F5F" stroke="#2A3F5F" stroke-width="0.22">Pyoverdine</text>
<text x="786.7" y="673.4" font-size="16" fill="#2A3F5F" stroke="#2A3F5F" stroke-width="0.22">Acidimicrobiales</text>
<text x="786.7" y="771.8" font-size="16" fill="#2A3F5F" stroke="#2A3F5F" stroke-width="0.22">Pseudomonadales</text>
<text x="786.7" y="823.8" font-size="16" fill="#2A3F5F" stroke="#2A3F5F" stroke-width="0.22">Marinisomatales</text>
<text x="786.7" y="871.5" font-size="16" fill="#2A3F5F" stroke="#2A3F5F" stroke-width="0.22">Pedosphaerales</text>
<text x="786.7" y="914.2" font-size="16" fill="#2A3F5F" stroke="#2A3F5F" stroke-width="0.22">Enterobacterales</text>
<text x="786.7" y="951.5" font-size="16" fill="#2A3F5F" stroke="#2A3F5F" stroke-width="0.22">Arenicellales</text>
<text x="786.7" y="987.3" font-size="16" fill="#2A3F5F" stroke="#2A3F5F" stroke-width="0.22">HIMB59</text>
<text x="786.7" y="1022.3" font-size="16" fill="#2A3F5F" stroke="#2A3F5F" stroke-width="0.22">SAR324</text>
<text x="786.7" y="1046.8" font-size="16" fill="#2A3F5F" stroke="#2A3F5F" stroke-width="0.22">UBA3495</text>
<text x="786.7" y="1070.3" font-size="16" fill="#2A3F5F" stroke="#2A3F5F" stroke-width="0.22">SAR202</text>
<text x="786.7" y="1088.5" font-size="16" fill="#2A3F5F" stroke="#2A3F5F" stroke-width="0.22">Methylococcales</text>
<text x="786.7" y="1105.1" font-size="16" fill="#2A3F5F" stroke="#2A3F5F" stroke-width="0.22">Poseidoniales</text>
<text x="786.7" y="1121.8" font-size="16" fill="#2A3F5F" stroke="#2A3F5F" stroke-width="0.22">Nitrososphaerales</text>
<text x="786.7" y="1137.3" font-size="16" fill="#2A3F5F" stroke="#2A3F5F" stroke-width="0.22">Rhodospirillales</text>
<text x="786.7" y="1150.4" font-size="16" fill="#2A3F5F" stroke="#2A3F5F" stroke-width="0.22">Longimicrobiales</text>
<g fill-opacity="0.5" stroke-opacity="0.5" stroke-width="0">
<path d="M1187.7,631.74C1329.8,631.74 1329.8,639.63 1471.8,639.63L1471.8,647.60C1329.8,647.60 1329.8,639.76 1187.7,639.76Z" fill="#CBD43F" stroke="#CBD43F"/>
<path d="M1187.7,639.00C1329.8,639.00 1329.8,716.30 1471.8,716.30L1471.8,730.80C1329.8,730.80 1329.8,653.55 1187.7,653.55Z" fill="#CBD43F" stroke="#CBD43F"/>
<path d="M1187.7,651.59C1329.8,651.59 1329.8,788.04 1471.8,788.04L1471.8,792.04C1329.8,792.04 1329.8,655.59 1187.7,655.59Z" fill="#CBD43F" stroke="#CBD43F"/>
<path d="M1187.7,652.87C1329.8,652.87 1329.8,845.63 1471.8,845.63L1471.8,853.57C1329.8,853.57 1329.8,660.88 1187.7,660.88Z" fill="#CBD43F" stroke="#CBD43F"/>
<path d="M1187.7,659.17C1329.8,659.17 1329.8,900.75 1471.8,900.75L1471.8,907.72C1329.8,907.72 1329.8,666.16 1187.7,666.16Z" fill="#CBD43F" stroke="#CBD43F"/>
<path d="M1187.7,664.11C1329.8,664.11 1329.8,956.10 1471.8,956.10L1471.8,961.23C1329.8,961.23 1329.8,669.31 1187.7,669.31Z" fill="#CBD43F" stroke="#CBD43F"/>
<path d="M1187.7,667.32C1329.8,667.32 1329.8,982.67 1471.8,982.67L1471.8,989.74C1329.8,989.74 1329.8,674.60 1187.7,674.60Z" fill="#CBD43F" stroke="#CBD43F"/>
<path d="M1187.7,672.61C1329.8,672.61 1329.8,1000.70 1471.8,1000.70L1471.8,1004.78C1329.8,1004.78 1329.8,676.91 1187.7,676.91Z" fill="#CBD43F" stroke="#CBD43F"/>
<path d="M1187.7,674.71C1329.8,674.71 1329.8,1032.60 1471.8,1032.60L1471.8,1036.61C1329.8,1036.61 1329.8,678.92 1187.7,678.92Z" fill="#CBD43F" stroke="#CBD43F"/>
<path d="M1187.7,676.93C1329.8,676.93 1329.8,1060.78 1471.8,1060.78L1471.8,1067.94C1329.8,1067.94 1329.8,684.22 1187.7,684.22Z" fill="#CBD43F" stroke="#CBD43F"/>
<path d="M1187.7,682.30C1329.8,682.30 1329.8,1073.21 1471.8,1073.21L1471.8,1079.47C1329.8,1079.47 1329.8,688.90 1187.7,688.90Z" fill="#CBD43F" stroke="#CBD43F"/>
<path d="M1187.7,686.91C1329.8,686.91 1329.8,1085.76 1471.8,1085.76L1471.8,1092.28C1329.8,1092.28 1329.8,693.80 1187.7,693.80Z" fill="#CBD43F" stroke="#CBD43F"/>
<path d="M1187.7,691.15C1329.8,691.15 1329.8,1097.29 1471.8,1097.29L1471.8,1101.29C1329.8,1101.29 1329.8,695.15 1187.7,695.15Z" fill="#CBD43F" stroke="#CBD43F"/>
<path d="M1187.7,692.38C1329.8,692.38 1329.8,1109.30 1471.8,1109.30L1471.8,1115.12C1329.8,1115.12 1329.8,698.60 1187.7,698.60Z" fill="#CBD43F" stroke="#CBD43F"/>
<path d="M1187.7,695.64C1329.8,695.64 1329.8,1119.02 1471.8,1119.02L1471.8,1123.02C1329.8,1123.02 1329.8,699.64 1187.7,699.64Z" fill="#CBD43F" stroke="#CBD43F"/>
<path d="M1187.7,696.67C1329.8,696.67 1329.8,1140.92 1471.8,1140.92L1471.8,1144.92C1329.8,1144.92 1329.8,700.70 1187.7,700.70Z" fill="#CBD43F" stroke="#CBD43F"/>
<path d="M1187.7,731.00C1329.8,731.00 1329.8,646.83 1471.8,646.83L1471.8,667.11C1329.8,667.11 1329.8,751.50 1187.7,751.50Z" fill="#66B869" stroke="#66B869"/>
<path d="M1187.7,750.65C1329.8,750.65 1329.8,729.95 1471.8,729.95L1471.8,737.45C1329.8,737.45 1329.8,758.17 1187.7,758.17Z" fill="#66B869" stroke="#66B869"/>
<path d="M1187.7,756.69C1329.8,756.69 1329.8,789.44 1471.8,789.44L1471.8,798.08C1329.8,798.08 1329.8,765.35 1187.7,765.35Z" fill="#66B869" stroke="#66B869"/>
<path d="M1187.7,763.62C1329.8,763.62 1329.8,851.70 1471.8,851.70L1471.8,856.85C1329.8,856.85 1329.8,768.82 1187.7,768.82Z" fill="#66B869" stroke="#66B869"/>
<path d="M1187.7,767.53C1329.8,767.53 1329.8,906.58 1471.8,906.58L1471.8,917.57C1329.8,917.57 1329.8,778.55 1187.7,778.55Z" fill="#66B869" stroke="#66B869"/>
<path d="M1187.7,777.26C1329.8,777.26 1329.8,987.70 1471.8,987.70L1471.8,993.66C1329.8,993.66 1329.8,783.43 1187.7,783.43Z" fill="#66B869" stroke="#66B869"/>
<path d="M1187.7,780.51C1329.8,780.51 1329.8,1001.84 1471.8,1001.84L1471.8,1005.84C1329.8,1005.84 1329.8,784.51 1187.7,784.51Z" fill="#66B869" stroke="#66B869"/>
<path d="M1187.7,781.59C1329.8,781.59 1329.8,1034.41 1471.8,1034.41L1471.8,1039.20C1329.8,1039.20 1329.8,786.68 1187.7,786.68Z" fill="#66B869" stroke="#66B869"/>
<path d="M1187.7,784.69C1329.8,784.69 1329.8,1047.28 1471.8,1047.28L1471.8,1054.44C1329.8,1054.44 1329.8,791.97 1187.7,791.97Z" fill="#66B869" stroke="#66B869"/>
<path d="M1187.7,789.49C1329.8,789.49 1329.8,1065.42 1471.8,1065.42L1471.8,1069.42C1329.8,1069.42 1329.8,793.49 1187.7,793.49Z" fill="#66B869" stroke="#66B869"/>
<path d="M1187.7,790.21C1329.8,790.21 1329.8,1076.65 1471.8,1076.65L1471.8,1080.65C1329.8,1080.65 1329.8,794.21 1187.7,794.21Z" fill="#66B869" stroke="#66B869"/>
<path d="M1187.7,791.13C1329.8,791.13 1329.8,1098.13 1471.8,1098.13L1471.8,1102.13C1329.8,1102.13 1329.8,795.13 1187.7,795.13Z" fill="#66B869" stroke="#66B869"/>
<path d="M1187.7,792.02C1329.8,792.02 1329.8,1112.26 1471.8,1112.26L1471.8,1116.26C1329.8,1116.26 1329.8,796.02 1187.7,796.02Z" fill="#66B869" stroke="#66B869"/>
<path d="M1187.7,792.54C1329.8,792.54 1329.8,1129.93 1471.8,1129.93L1471.8,1133.93C1329.8,1133.93 1329.8,796.54 1187.7,796.54Z" fill="#66B869" stroke="#66B869"/>
<path d="M1187.7,837.80C1329.8,837.80 1329.8,666.01 1471.8,666.01L1471.8,672.17C1329.8,672.17 1329.8,844.00 1187.7,844.00Z" fill="#6D4A98" stroke="#6D4A98"/>
<path d="M1187.7,842.05C1329.8,842.05 1329.8,735.75 1471.8,735.75L1471.8,743.25C1329.8,743.25 1329.8,849.57 1187.7,849.57Z" fill="#6D4A98" stroke="#6D4A98"/>
<path d="M1187.7,846.75C1329.8,846.75 1329.8,795.48 1471.8,795.48L1471.8,799.48C1329.8,799.48 1329.8,850.75 1187.7,850.75Z" fill="#6D4A98" stroke="#6D4A98"/>
<path d="M1187.7,848.16C1329.8,848.16 1329.8,855.12 1471.8,855.12L1471.8,863.77C1329.8,863.77 1329.8,856.90 1187.7,856.90Z" fill="#6D4A98" stroke="#6D4A98"/>
<path d="M1187.7,855.18C1329.8,855.18 1329.8,916.27 1471.8,916.27L1471.8,920.78C1329.8,920.78 1329.8,859.70 1187.7,859.70Z" fill="#6D4A98" stroke="#6D4A98"/>
<path d="M1187.7,857.51C1329.8,857.51 1329.8,931.50 1471.8,931.50L1471.8,937.53C1329.8,937.53 1329.8,863.79 1187.7,863.79Z" fill="#6D4A98" stroke="#6D4A98"/>
<path d="M1187.7,861.88C1329.8,861.88 1329.8,959.29 1471.8,959.29L1471.8,966.85C1329.8,966.85 1329.8,869.53 1187.7,869.53Z" fill="#6D4A98" stroke="#6D4A98"/>
<path d="M1187.7,867.15C1329.8,867.15 1329.8,1036.49 1471.8,1036.49L1471.8,1040.49C1329.8,1040.49 1329.8,871.15 1187.7,871.15Z" fill="#6D4A98" stroke="#6D4A98"/>
<path d="M1187.7,868.00C1329.8,868.00 1329.8,1051.92 1471.8,1051.92L1471.8,1055.92C1329.8,1055.92 1329.8,872.00 1187.7,872.00Z" fill="#6D4A98" stroke="#6D4A98"/>
<path d="M1187.7,868.64C1329.8,868.64 1329.8,1098.87 1471.8,1098.87L1471.8,1102.87C1329.8,1102.87 1329.8,872.64 1187.7,872.64Z" fill="#6D4A98" stroke="#6D4A98"/>
<path d="M1187.7,868.92C1329.8,868.92 1329.8,1112.57 1471.8,1112.57L1471.8,1116.57C1329.8,1116.57 1329.8,872.92 1187.7,872.92Z" fill="#6D4A98" stroke="#6D4A98"/>
<path d="M1187.7,869.12C1329.8,869.12 1329.8,1119.25 1471.8,1119.25L1471.8,1123.25C1329.8,1123.25 1329.8,873.12 1187.7,873.12Z" fill="#6D4A98" stroke="#6D4A98"/>
<path d="M1187.7,869.35C1329.8,869.35 1329.8,1130.24 1471.8,1130.24L1471.8,1134.24C1329.8,1134.24 1329.8,873.35 1187.7,873.35Z" fill="#6D4A98" stroke="#6D4A98"/>
<path d="M1187.7,869.82C1329.8,869.82 1329.8,1142.08 1471.8,1142.08L1471.8,1146.08C1329.8,1146.08 1329.8,873.82 1187.7,873.82Z" fill="#6D4A98" stroke="#6D4A98"/>
<path d="M1187.7,891.10C1329.8,891.10 1329.8,669.97 1471.8,669.97L1471.8,674.14C1329.8,674.14 1329.8,895.30 1187.7,895.30Z" fill="#2A76AE" stroke="#2A76AE"/>
<path d="M1187.7,893.28C1329.8,893.28 1329.8,741.48 1471.8,741.48L1471.8,748.64C1329.8,748.64 1329.8,900.45 1187.7,900.45Z" fill="#2A76AE" stroke="#2A76AE"/>
<path d="M1187.7,899.03C1329.8,899.03 1329.8,797.00 1471.8,797.00L1471.8,806.32C1329.8,806.32 1329.8,908.37 1187.7,908.37Z" fill="#2A76AE" stroke="#2A76AE"/>
<path d="M1187.7,906.61C1329.8,906.61 1329.8,861.87 1471.8,861.87L1471.8,865.87C1329.8,865.87 1329.8,910.61 1187.7,910.61Z" fill="#2A76AE" stroke="#2A76AE"/>
<path d="M1187.7,907.38C1329.8,907.38 1329.8,917.70 1471.8,917.70L1471.8,921.70C1329.8,921.70 1329.8,911.38 1187.7,911.38Z" fill="#2A76AE" stroke="#2A76AE"/>
<path d="M1187.7,907.71C1329.8,907.71 1329.8,964.30 1471.8,964.30L1471.8,968.30C1329.8,968.30 1329.8,911.71 1187.7,911.71Z" fill="#2A76AE" stroke="#2A76AE"/>
<path d="M1187.7,908.92C1329.8,908.92 1329.8,1002.90 1471.8,1002.90L1471.8,1007.38C1329.8,1007.38 1329.8,913.66 1187.7,913.66Z" fill="#2A76AE" stroke="#2A76AE"/>
<path d="M1187.7,911.38C1329.8,911.38 1329.8,1066.61 1471.8,1066.61L1471.8,1070.61C1329.8,1070.61 1329.8,915.38 1187.7,915.38Z" fill="#2A76AE" stroke="#2A76AE"/>
<path d="M1187.7,912.56C1329.8,912.56 1329.8,1077.26 1471.8,1077.26L1471.8,1081.26C1329.8,1081.26 1329.8,916.56 1187.7,916.56Z" fill="#2A76AE" stroke="#2A76AE"/>
<path d="M1187.7,913.12C1329.8,913.12 1329.8,1112.80 1471.8,1112.80L1471.8,1116.80C1329.8,1116.80 1329.8,917.12 1187.7,917.12Z" fill="#2A76AE" stroke="#2A76AE"/>
<path d="M1187.7,913.90C1329.8,913.90 1329.8,1142.96 1471.8,1142.96L1471.8,1146.96C1329.8,1146.96 1329.8,917.90 1187.7,917.90Z" fill="#2A76AE" stroke="#2A76AE"/>
<path d="M1187.7,929.00C1329.8,929.00 1329.8,671.94 1471.8,671.94L1471.8,676.12C1329.8,676.12 1329.8,933.20 1187.7,933.20Z" fill="#F6CEE0" stroke="#F6CEE0"/>
<path d="M1187.7,931.47C1329.8,931.47 1329.8,747.08 1471.8,747.08L1471.8,755.72C1329.8,755.72 1329.8,940.13 1187.7,940.13Z" fill="#F6CEE0" stroke="#F6CEE0"/>
<path d="M1187.7,938.39C1329.8,938.39 1329.8,863.51 1471.8,863.51L1471.8,868.17C1329.8,868.17 1329.8,943.09 1187.7,943.09Z" fill="#F6CEE0" stroke="#F6CEE0"/>
<path d="M1187.7,940.89C1329.8,940.89 1329.8,965.50 1471.8,965.50L1471.8,970.64C1329.8,970.64 1329.8,946.09 1187.7,946.09Z" fill="#F6CEE0" stroke="#F6CEE0"/>
<path d="M1187.7,943.89C1329.8,943.89 1329.8,1078.44 1471.8,1078.44L1471.8,1082.44C1329.8,1082.44 1329.8,948.00 1187.7,948.00Z" fill="#F6CEE0" stroke="#F6CEE0"/>
<path d="M1187.7,945.20C1329.8,945.20 1329.8,1089.51 1471.8,1089.51L1471.8,1093.51C1329.8,1093.51 1329.8,949.20 1187.7,949.20Z" fill="#F6CEE0" stroke="#F6CEE0"/>
<path d="M1187.7,945.96C1329.8,945.96 1329.8,1119.79 1471.8,1119.79L1471.8,1123.79C1329.8,1123.79 1329.8,949.96 1187.7,949.96Z" fill="#F6CEE0" stroke="#F6CEE0"/>
<path d="M1187.7,947.01C1329.8,947.01 1329.8,1130.85 1471.8,1130.85L1471.8,1134.85C1329.8,1134.85 1329.8,951.01 1187.7,951.01Z" fill="#F6CEE0" stroke="#F6CEE0"/>
<path d="M1187.7,958.31C1329.8,958.31 1329.8,804.31 1471.8,804.31L1471.8,808.31C1329.8,808.31 1329.8,962.31 1187.7,962.31Z" fill="#405A40" stroke="#405A40"/>
<path d="M1187.7,959.85C1329.8,959.85 1329.8,866.10 1471.8,866.10L1471.8,872.97C1329.8,872.97 1329.8,966.77 1187.7,966.77Z" fill="#405A40" stroke="#405A40"/>
<path d="M1187.7,964.09C1329.8,964.09 1329.8,918.00 1471.8,918.00L1471.8,922.00C1329.8,922.00 1329.8,968.09 1187.7,968.09Z" fill="#405A40" stroke="#405A40"/>
<path d="M1187.7,965.27C1329.8,965.27 1329.8,968.44 1471.8,968.44L1471.8,973.12C1329.8,973.12 1329.8,970.01 1187.7,970.01Z" fill="#405A40" stroke="#405A40"/>
<path d="M1187.7,967.81C1329.8,967.81 1329.8,1005.18 1471.8,1005.18L1471.8,1009.79C1329.8,1009.79 1329.8,972.70 1187.7,972.70Z" fill="#405A40" stroke="#405A40"/>
<path d="M1187.7,970.54C1329.8,970.54 1329.8,1121.11 1471.8,1121.11L1471.8,1127.20C1329.8,1127.20 1329.8,976.99 1187.7,976.99Z" fill="#405A40" stroke="#405A40"/>
<path d="M1187.7,974.84C1329.8,974.84 1329.8,1132.27 1471.8,1132.27L1471.8,1137.75C1329.8,1137.75 1329.8,980.70 1187.7,980.70Z" fill="#405A40" stroke="#405A40"/>
<path d="M1187.7,991.40C1329.8,991.40 1329.8,673.92 1471.8,673.92L1471.8,679.09C1329.8,679.09 1329.8,996.60 1187.7,996.60Z" fill="#EE8C3F" stroke="#EE8C3F"/>
<path d="M1187.7,994.74C1329.8,994.74 1329.8,806.05 1471.8,806.05L1471.8,814.03C1329.8,814.03 1329.8,1002.74 1187.7,1002.74Z" fill="#EE8C3F" stroke="#EE8C3F"/>
<path d="M1187.7,1000.89C1329.8,1000.89 1329.8,935.33 1471.8,935.33L1471.8,941.35C1329.8,941.35 1329.8,1007.17 1187.7,1007.17Z" fill="#EE8C3F" stroke="#EE8C3F"/>
<path d="M1187.7,1004.12C1329.8,1004.12 1329.8,1006.73 1471.8,1006.73L1471.8,1010.73C1329.8,1010.73 1329.8,1008.12 1187.7,1008.12Z" fill="#EE8C3F" stroke="#EE8C3F"/>
<path d="M1187.7,1004.41C1329.8,1004.41 1329.8,1113.19 1471.8,1113.19L1471.8,1117.19C1329.8,1117.19 1329.8,1008.41 1187.7,1008.41Z" fill="#EE8C3F" stroke="#EE8C3F"/>
<path d="M1187.7,1004.68C1329.8,1004.68 1329.8,1124.12 1471.8,1124.12L1471.8,1128.12C1329.8,1128.12 1329.8,1008.68 1187.7,1008.68Z" fill="#EE8C3F" stroke="#EE8C3F"/>
<path d="M1187.7,1014.00C1329.8,1014.00 1329.8,676.89 1471.8,676.89L1471.8,682.06C1329.8,682.06 1329.8,1019.20 1187.7,1019.20Z" fill="#C497C6" stroke="#C497C6"/>
<path d="M1187.7,1016.11C1329.8,1016.11 1329.8,811.28 1471.8,811.28L1471.8,815.28C1329.8,815.28 1329.8,1020.11 1187.7,1020.11Z" fill="#C497C6" stroke="#C497C6"/>
<path d="M1187.7,1017.03C1329.8,1017.03 1329.8,870.89 1471.8,870.89L1471.8,875.36C1329.8,875.36 1329.8,1021.53 1187.7,1021.53Z" fill="#C497C6" stroke="#C497C6"/>
<path d="M1187.7,1018.44C1329.8,1018.44 1329.8,918.29 1471.8,918.29L1471.8,922.29C1329.8,922.29 1329.8,1022.44 1187.7,1022.44Z" fill="#C497C6" stroke="#C497C6"/>
<path d="M1187.7,1019.35C1329.8,1019.35 1329.8,939.15 1471.8,939.15L1471.8,943.88C1329.8,943.88 1329.8,1024.26 1187.7,1024.26Z" fill="#C497C6" stroke="#C497C6"/>
<path d="M1187.7,1022.06C1329.8,1022.06 1329.8,1017.10 1471.8,1017.10L1471.8,1021.71C1329.8,1021.71 1329.8,1026.95 1187.7,1026.95Z" fill="#C497C6" stroke="#C497C6"/>
<path d="M1187.7,1024.00C1329.8,1024.00 1329.8,1037.02 1471.8,1037.02L1471.8,1041.02C1329.8,1041.02 1329.8,1028.00 1187.7,1028.00Z" fill="#C497C6" stroke="#C497C6"/>
<path d="M1187.7,1025.05C1329.8,1025.05 1329.8,1144.39 1471.8,1144.39L1471.8,1148.70C1329.8,1148.70 1329.8,1029.60 1187.7,1029.60Z" fill="#C497C6" stroke="#C497C6"/>
<path d="M1187.7,1035.50C1329.8,1035.50 1329.8,679.86 1471.8,679.86L1471.8,685.02C1329.8,685.02 1329.8,1040.70 1187.7,1040.70Z" fill="#ECAD6D" stroke="#ECAD6D"/>
<path d="M1187.7,1038.50C1329.8,1038.50 1329.8,812.20 1471.8,812.20L1471.8,818.08C1329.8,818.08 1329.8,1044.40 1187.7,1044.40Z" fill="#ECAD6D" stroke="#ECAD6D"/>
<path d="M1187.7,1041.78C1329.8,1041.78 1329.8,872.73 1471.8,872.73L1471.8,876.73C1329.8,876.73 1329.8,1045.78 1187.7,1045.78Z" fill="#ECAD6D" stroke="#ECAD6D"/>
<path d="M1187.7,1042.29C1329.8,1042.29 1329.8,970.06 1471.8,970.06L1471.8,974.06C1329.8,974.06 1329.8,1046.29 1187.7,1046.29Z" fill="#ECAD6D" stroke="#ECAD6D"/>
<path d="M1187.7,1043.24C1329.8,1043.24 1329.8,1019.51 1471.8,1019.51L1471.8,1024.76C1329.8,1024.76 1329.8,1048.83 1187.7,1048.83Z" fill="#ECAD6D" stroke="#ECAD6D"/>
<path d="M1187.7,1046.12C1329.8,1046.12 1329.8,1037.50 1471.8,1037.50L1471.8,1041.50C1329.8,1041.50 1329.8,1050.12 1187.7,1050.12Z" fill="#ECAD6D" stroke="#ECAD6D"/>
<path d="M1187.7,1055.50C1329.8,1055.50 1329.8,682.82 1471.8,682.82L1471.8,687.00C1329.8,687.00 1329.8,1059.70 1187.7,1059.70Z" fill="#F1BC6C" stroke="#F1BC6C"/>
<path d="M1187.7,1057.50C1329.8,1057.50 1329.8,815.88 1471.8,815.88L1471.8,820.85C1329.8,820.85 1329.8,1062.48 1187.7,1062.48Z" fill="#F1BC6C" stroke="#F1BC6C"/>
<path d="M1187.7,1060.48C1329.8,1060.48 1329.8,941.83 1471.8,941.83L1471.8,948.85C1329.8,948.85 1329.8,1067.77 1187.7,1067.77Z" fill="#F1BC6C" stroke="#F1BC6C"/>
<path d="M1187.7,1064.99C1329.8,1064.99 1329.8,1079.40 1471.8,1079.40L1471.8,1083.40C1329.8,1083.40 1329.8,1068.99 1187.7,1068.99Z" fill="#F1BC6C" stroke="#F1BC6C"/>
<path d="M1187.7,1072.85C1329.8,1072.85 1329.8,754.23 1471.8,754.23L1471.8,761.74C1329.8,761.74 1329.8,1080.37 1187.7,1080.37Z" fill="#6E6E6E" stroke="#6E6E6E"/>
<path d="M1187.7,1078.42C1329.8,1078.42 1329.8,991.46 1471.8,991.46L1471.8,995.50C1329.8,995.50 1329.8,1082.57 1187.7,1082.57Z" fill="#6E6E6E" stroke="#6E6E6E"/>
<path d="M1187.7,1080.37C1329.8,1080.37 1329.8,1090.64 1471.8,1090.64L1471.8,1094.64C1329.8,1094.64 1329.8,1084.50 1187.7,1084.50Z" fill="#6E6E6E" stroke="#6E6E6E"/>
<path d="M1187.7,1081.61C1329.8,1081.61 1329.8,1113.61 1471.8,1113.61L1471.8,1117.61C1329.8,1117.61 1329.8,1085.61 1187.7,1085.61Z" fill="#6E6E6E" stroke="#6E6E6E"/>
<path d="M1187.7,1081.91C1329.8,1081.91 1329.8,1124.22 1471.8,1124.22L1471.8,1128.22C1329.8,1128.22 1329.8,1085.91 1187.7,1085.91Z" fill="#6E6E6E" stroke="#6E6E6E"/>
<path d="M1187.7,1089.50C1329.8,1089.50 1329.8,818.65 1471.8,818.65L1471.8,824.54C1329.8,824.54 1329.8,1095.40 1187.7,1095.40Z" fill="#8CB3D3" stroke="#8CB3D3"/>
<path d="M1187.7,1093.20C1329.8,1093.20 1329.8,874.09 1471.8,874.09L1471.8,879.12C1329.8,879.12 1329.8,1098.27 1187.7,1098.27Z" fill="#8CB3D3" stroke="#8CB3D3"/>
<path d="M1187.7,1096.07C1329.8,1096.07 1329.8,1007.66 1471.8,1007.66L1471.8,1012.40C1329.8,1012.40 1329.8,1101.10 1187.7,1101.10Z" fill="#8CB3D3" stroke="#8CB3D3"/>
<path d="M1187.7,1105.50C1329.8,1105.50 1329.8,684.80 1471.8,684.80L1471.8,689.25C1329.8,689.25 1329.8,1109.97 1187.7,1109.97Z" fill="#A7CCE0" stroke="#A7CCE0"/>
<path d="M1187.7,1107.77C1329.8,1107.77 1329.8,822.34 1471.8,822.34L1471.8,828.23C1329.8,828.23 1329.8,1113.67 1187.7,1113.67Z" fill="#A7CCE0" stroke="#A7CCE0"/>
<path d="M1187.7,1111.17C1329.8,1111.17 1329.8,876.61 1471.8,876.61L1471.8,880.61C1329.8,880.61 1329.8,1115.17 1187.7,1115.17Z" fill="#A7CCE0" stroke="#A7CCE0"/>
<path d="M1187.7,1112.59C1329.8,1112.59 1329.8,1053.11 1471.8,1053.11L1471.8,1057.11C1329.8,1057.11 1329.8,1116.59 1187.7,1116.59Z" fill="#A7CCE0" stroke="#A7CCE0"/>
<path d="M1187.7,1120.30C1329.8,1120.30 1329.8,759.78 1471.8,759.78L1471.8,764.40C1329.8,764.40 1329.8,1124.93 1187.7,1124.93Z" fill="#F3E443" stroke="#F3E443"/>
<path d="M1187.7,1121.86C1329.8,1121.86 1329.8,825.16 1471.8,825.16L1471.8,829.16C1329.8,829.16 1329.8,1125.86 1187.7,1125.86Z" fill="#F3E443" stroke="#F3E443"/>
<path d="M1187.7,1122.80C1329.8,1122.80 1329.8,1022.56 1471.8,1022.56L1471.8,1028.10C1329.8,1028.10 1329.8,1128.73 1187.7,1128.73Z" fill="#F3E443" stroke="#F3E443"/>
<path d="M1187.7,1126.53C1329.8,1126.53 1329.8,1038.74 1471.8,1038.74L1471.8,1042.80C1329.8,1042.80 1329.8,1130.80 1187.7,1130.80Z" fill="#F3E443" stroke="#F3E443"/>
<path d="M1187.7,1134.90C1329.8,1134.90 1329.8,687.05 1471.8,687.05L1471.8,692.30C1329.8,692.30 1329.8,1140.18 1187.7,1140.18Z" fill="#B97B59" stroke="#B97B59"/>
<path d="M1187.7,1138.10C1329.8,1138.10 1329.8,1100.02 1471.8,1100.02L1471.8,1106.45C1329.8,1106.45 1329.8,1144.90 1187.7,1144.90Z" fill="#B97B59" stroke="#B97B59"/>
<path d="M1187.7,1142.11C1329.8,1142.11 1329.8,1134.83 1471.8,1134.83L1471.8,1138.83C1329.8,1138.83 1329.8,1146.11 1187.7,1146.11Z" fill="#B97B59" stroke="#B97B59"/>
<path d="M1516.5,640.40C1658.4,640.40 1658.4,618.60 1800.3,618.60L1800.3,631.90C1658.4,631.90 1658.4,653.39 1516.5,653.39Z" fill="#66B869" stroke="#66B869"/>
<path d="M1516.5,653.39C1658.4,653.39 1658.4,770.60 1800.3,770.60L1800.3,791.30C1658.4,791.30 1658.4,673.31 1516.5,673.31Z" fill="#CBD43F" stroke="#CBD43F"/>
<path d="M1516.5,672.33C1658.4,672.33 1658.4,880.54 1800.3,880.54L1800.3,887.50C1658.4,887.50 1658.4,679.12 1516.5,679.12Z" fill="#F6CEE0" stroke="#F6CEE0"/>
<path d="M1516.5,676.25C1658.4,676.25 1658.4,926.23 1800.3,926.23L1800.3,930.23C1658.4,930.23 1658.4,680.25 1516.5,680.25Z" fill="#C497C6" stroke="#C497C6"/>
<path d="M1516.5,677.58C1658.4,677.58 1658.4,967.57 1800.3,967.57L1800.3,975.71C1658.4,975.71 1658.4,685.42 1516.5,685.42Z" fill="#6D4A98" stroke="#6D4A98"/>
<path d="M1516.5,682.71C1658.4,682.71 1658.4,1002.29 1800.3,1002.29L1800.3,1006.29C1658.4,1006.29 1658.4,686.71 1516.5,686.71Z" fill="#F1BC6C" stroke="#F1BC6C"/>
<path d="M1516.5,682.83C1658.4,682.83 1658.4,1023.84 1800.3,1023.84L1800.3,1027.84C1658.4,1027.84 1658.4,686.83 1516.5,686.83Z" fill="#B97B59" stroke="#B97B59"/>
<path d="M1516.5,682.97C1658.4,682.97 1658.4,1065.22 1800.3,1065.22L1800.3,1069.22C1658.4,1069.22 1658.4,686.97 1516.5,686.97Z" fill="#405A40" stroke="#405A40"/>
<path d="M1516.5,683.11C1658.4,683.11 1658.4,1079.93 1800.3,1079.93L1800.3,1083.93C1658.4,1083.93 1658.4,687.11 1516.5,687.11Z" fill="#EE8C3F" stroke="#EE8C3F"/>
<path d="M1516.5,684.04C1658.4,684.04 1658.4,1094.50 1800.3,1094.50L1800.3,1099.25C1658.4,1099.25 1658.4,688.64 1516.5,688.64Z" fill="#F3E443" stroke="#F3E443"/>
<path d="M1516.5,685.93C1658.4,685.93 1658.4,1107.72 1800.3,1107.72L1800.3,1111.72C1658.4,1111.72 1658.4,689.93 1516.5,689.93Z" fill="#2A76AE" stroke="#2A76AE"/>
<path d="M1516.5,687.21C1658.4,687.21 1658.4,1133.10 1800.3,1133.10L1800.3,1138.33C1658.4,1138.33 1658.4,692.30 1516.5,692.30Z" fill="#C5B0D5" stroke="#C5B0D5"/>
<path d="M1516.5,716.30C1658.4,716.30 1658.4,631.90 1800.3,631.90L1800.3,646.97C1658.4,646.97 1658.4,731.02 1516.5,731.02Z" fill="#66B869" stroke="#66B869"/>
<path d="M1516.5,730.55C1658.4,730.55 1658.4,790.88 1800.3,790.88L1800.3,800.62C1658.4,800.62 1658.4,740.04 1516.5,740.04Z" fill="#CBD43F" stroke="#CBD43F"/>
<path d="M1516.5,738.27C1658.4,738.27 1658.4,885.28 1800.3,885.28L1800.3,889.28C1658.4,889.28 1658.4,742.27 1516.5,742.27Z" fill="#F6CEE0" stroke="#F6CEE0"/>
<path d="M1516.5,739.88C1658.4,739.88 1658.4,927.26 1800.3,927.26L1800.3,933.45C1658.4,933.45 1658.4,745.88 1516.5,745.88Z" fill="#C497C6" stroke="#C497C6"/>
<path d="M1516.5,743.68C1658.4,743.68 1658.4,973.88 1800.3,973.88L1800.3,978.11C1658.4,978.11 1658.4,747.78 1516.5,747.78Z" fill="#6D4A98" stroke="#6D4A98"/>
<path d="M1516.5,745.58C1658.4,745.58 1658.4,1024.79 1800.3,1024.79L1800.3,1031.06C1658.4,1031.06 1658.4,751.58 1516.5,751.58Z" fill="#B97B59" stroke="#B97B59"/>
<path d="M1516.5,749.38C1658.4,749.38 1658.4,1045.30 1800.3,1045.30L1800.3,1050.59C1658.4,1050.59 1658.4,754.43 1516.5,754.43Z" fill="#6E6E6E" stroke="#6E6E6E"/>
<path d="M1516.5,752.23C1658.4,752.23 1658.4,1066.23 1800.3,1066.23L1800.3,1071.00C1658.4,1071.00 1658.4,756.80 1516.5,756.80Z" fill="#405A40" stroke="#405A40"/>
<path d="M1516.5,754.60C1658.4,754.60 1658.4,1080.86 1800.3,1080.86L1800.3,1087.08C1658.4,1087.08 1658.4,760.60 1516.5,760.60Z" fill="#EE8C3F" stroke="#EE8C3F"/>
<path d="M1516.5,758.21C1658.4,758.21 1658.4,1096.90 1800.3,1096.90L1800.3,1100.90C1658.4,1100.90 1658.4,762.21 1516.5,762.21Z" fill="#F3E443" stroke="#F3E443"/>
<path d="M1516.5,759.83C1658.4,759.83 1658.4,1109.03 1800.3,1109.03L1800.3,1113.80C1658.4,1113.80 1658.4,764.40 1516.5,764.40Z" fill="#2A76AE" stroke="#2A76AE"/>
<path d="M1516.5,789.73C1658.4,789.73 1658.4,646.72 1800.3,646.72L1800.3,657.44C1658.4,657.44 1658.4,800.27 1516.5,800.27Z" fill="#66B869" stroke="#66B869"/>
<path d="M1516.5,799.31C1658.4,799.31 1658.4,799.54 1800.3,799.54L1800.3,808.11C1658.4,808.11 1658.4,807.69 1516.5,807.69Z" fill="#CBD43F" stroke="#CBD43F"/>
<path d="M1516.5,805.90C1658.4,805.90 1658.4,886.94 1800.3,886.94L1800.3,893.28C1658.4,893.28 1658.4,812.10 1516.5,812.10Z" fill="#F6CEE0" stroke="#F6CEE0"/>
<path d="M1516.5,809.90C1658.4,809.90 1658.4,931.28 1800.3,931.28L1800.3,937.63C1658.4,937.63 1658.4,816.10 1516.5,816.10Z" fill="#C497C6" stroke="#C497C6"/>
<path d="M1516.5,813.32C1658.4,813.32 1658.4,975.34 1800.3,975.34L1800.3,979.34C1658.4,979.34 1658.4,817.32 1516.5,817.32Z" fill="#6D4A98" stroke="#6D4A98"/>
<path d="M1516.5,814.53C1658.4,814.53 1658.4,1048.39 1800.3,1048.39L1800.3,1053.23C1658.4,1053.23 1658.4,819.17 1516.5,819.17Z" fill="#6E6E6E" stroke="#6E6E6E"/>
<path d="M1516.5,816.69C1658.4,816.69 1658.4,1068.57 1800.3,1068.57L1800.3,1072.57C1658.4,1072.57 1658.4,820.69 1516.5,820.69Z" fill="#405A40" stroke="#405A40"/>
<path d="M1516.5,817.94C1658.4,817.94 1658.4,1084.65 1800.3,1084.65L1800.3,1088.65C1658.4,1088.65 1658.4,821.94 1516.5,821.94Z" fill="#EE8C3F" stroke="#EE8C3F"/>
<path d="M1516.5,819.46C1658.4,819.46 1658.4,1098.56 1800.3,1098.56L1800.3,1102.80C1658.4,1102.80 1658.4,823.59 1516.5,823.59Z" fill="#F3E443" stroke="#F3E443"/>
<path d="M1516.5,821.39C1658.4,821.39 1658.4,1124.10 1800.3,1124.10L1800.3,1129.00C1658.4,1129.00 1658.4,826.02 1516.5,826.02Z" fill="#E8786F" stroke="#E8786F"/>
<path d="M1516.5,823.82C1658.4,823.82 1658.4,1142.70 1800.3,1142.70L1800.3,1147.44C1658.4,1147.44 1658.4,828.30 1516.5,828.30Z" fill="#5BA86E" stroke="#5BA86E"/>
<path d="M1516.5,845.85C1658.4,845.85 1658.4,656.68 1800.3,656.68L1800.3,665.91C1658.4,665.91 1658.4,854.95 1516.5,854.95Z" fill="#66B869" stroke="#66B869"/>
<path d="M1516.5,853.44C1658.4,853.44 1658.4,806.53 1800.3,806.53L1800.3,813.60C1658.4,813.60 1658.4,860.36 1516.5,860.36Z" fill="#CBD43F" stroke="#CBD43F"/>
<path d="M1516.5,858.85C1658.4,858.85 1658.4,891.71 1800.3,891.71L1800.3,901.09C1658.4,901.09 1658.4,867.95 1516.5,867.95Z" fill="#F6CEE0" stroke="#F6CEE0"/>
<path d="M1516.5,866.51C1658.4,866.51 1658.4,935.71 1800.3,935.71L1800.3,943.20C1658.4,943.20 1658.4,873.79 1516.5,873.79Z" fill="#C497C6" stroke="#C497C6"/>
<path d="M1516.5,871.48C1658.4,871.48 1658.4,976.30 1800.3,976.30L1800.3,980.30C1658.4,980.30 1658.4,875.48 1516.5,875.48Z" fill="#6D4A98" stroke="#6D4A98"/>
<path d="M1516.5,872.50C1658.4,872.50 1658.4,1028.44 1800.3,1028.44L1800.3,1032.44C1658.4,1032.44 1658.4,876.50 1516.5,876.50Z" fill="#B97B59" stroke="#B97B59"/>
<path d="M1516.5,873.23C1658.4,873.23 1658.4,1050.45 1800.3,1050.45L1800.3,1054.45C1658.4,1054.45 1658.4,877.23 1516.5,877.23Z" fill="#6E6E6E" stroke="#6E6E6E"/>
<path d="M1516.5,873.77C1658.4,873.77 1658.4,1085.56 1800.3,1085.56L1800.3,1089.56C1658.4,1089.56 1658.4,877.77 1516.5,877.77Z" fill="#EE8C3F" stroke="#EE8C3F"/>
<path d="M1516.5,874.91C1658.4,874.91 1658.4,1111.60 1800.3,1111.60L1800.3,1115.80C1658.4,1115.80 1658.4,878.96 1516.5,878.96Z" fill="#2A76AE" stroke="#2A76AE"/>
<path d="M1516.5,876.18C1658.4,876.18 1658.4,1135.56 1800.3,1135.56L1800.3,1139.56C1658.4,1139.56 1658.4,880.18 1516.5,880.18Z" fill="#C5B0D5" stroke="#C5B0D5"/>
<path d="M1516.5,876.84C1658.4,876.84 1658.4,1144.74 1800.3,1144.74L1800.3,1148.74C1658.4,1148.74 1658.4,880.84 1516.5,880.84Z" fill="#5BA86E" stroke="#5BA86E"/>
<path d="M1516.5,900.81C1658.4,900.81 1658.4,664.51 1800.3,664.51L1800.3,671.90C1658.4,671.90 1658.4,908.09 1516.5,908.09Z" fill="#66B869" stroke="#66B869"/>
<path d="M1516.5,905.85C1658.4,905.85 1658.4,811.33 1800.3,811.33L1800.3,815.33C1658.4,815.33 1658.4,909.85 1516.5,909.85Z" fill="#CBD43F" stroke="#CBD43F"/>
<path d="M1516.5,907.14C1658.4,907.14 1658.4,899.27 1800.3,899.27L1800.3,903.27C1658.4,903.27 1658.4,911.14 1516.5,911.14Z" fill="#F6CEE0" stroke="#F6CEE0"/>
<path d="M1516.5,908.14C1658.4,908.14 1658.4,977.31 1800.3,977.31L1800.3,981.31C1658.4,981.31 1658.4,912.14 1516.5,912.14Z" fill="#6D4A98" stroke="#6D4A98"/>
<path d="M1516.5,909.57C1658.4,909.57 1658.4,1030.04 1800.3,1030.04L1800.3,1037.47C1658.4,1037.47 1658.4,916.71 1516.5,916.71Z" fill="#B97B59" stroke="#B97B59"/>
<path d="M1516.5,914.68C1658.4,914.68 1658.4,1051.69 1800.3,1051.69L1800.3,1057.97C1658.4,1057.97 1658.4,920.68 1516.5,920.68Z" fill="#6E6E6E" stroke="#6E6E6E"/>
<path d="M1516.5,917.94C1658.4,917.94 1658.4,1100.08 1800.3,1100.08L1800.3,1104.08C1658.4,1104.08 1658.4,921.94 1516.5,921.94Z" fill="#F3E443" stroke="#F3E443"/>
<path d="M1516.5,931.71C1658.4,931.71 1658.4,670.14 1800.3,670.14L1800.3,677.52C1658.4,677.52 1658.4,938.99 1516.5,938.99Z" fill="#66B869" stroke="#66B869"/>
<path d="M1516.5,937.00C1658.4,937.00 1658.4,812.91 1800.3,812.91L1800.3,817.45C1658.4,817.45 1658.4,941.46 1516.5,941.46Z" fill="#CBD43F" stroke="#CBD43F"/>
<path d="M1516.5,939.35C1658.4,939.35 1658.4,900.97 1800.3,900.97L1800.3,907.82C1658.4,907.82 1658.4,946.04 1516.5,946.04Z" fill="#F6CEE0" stroke="#F6CEE0"/>
<path d="M1516.5,943.60C1658.4,943.60 1658.4,940.93 1800.3,940.93L1800.3,944.93C1658.4,944.93 1658.4,947.60 1516.5,947.60Z" fill="#C497C6" stroke="#C497C6"/>
<path d="M1516.5,945.03C1658.4,945.03 1658.4,1003.28 1800.3,1003.28L1800.3,1007.43C1658.4,1007.43 1658.4,949.03 1516.5,949.03Z" fill="#F1BC6C" stroke="#F1BC6C"/>
<path d="M1516.5,956.31C1658.4,956.31 1658.4,675.77 1800.3,675.77L1800.3,683.15C1658.4,683.15 1658.4,963.59 1516.5,963.59Z" fill="#66B869" stroke="#66B869"/>
<path d="M1516.5,961.63C1658.4,961.63 1658.4,815.30 1800.3,815.30L1800.3,821.77C1658.4,821.77 1658.4,967.98 1516.5,967.98Z" fill="#CBD43F" stroke="#CBD43F"/>
<path d="M1516.5,965.29C1658.4,965.29 1658.4,905.25 1800.3,905.25L1800.3,909.25C1658.4,909.25 1658.4,969.29 1516.5,969.29Z" fill="#F6CEE0" stroke="#F6CEE0"/>
<path d="M1516.5,966.58C1658.4,966.58 1658.4,978.61 1800.3,978.61L1800.3,984.94C1658.4,984.94 1658.4,972.69 1516.5,972.69Z" fill="#6D4A98" stroke="#6D4A98"/>
<path d="M1516.5,969.84C1658.4,969.84 1658.4,1145.42 1800.3,1145.42L1800.3,1149.42C1658.4,1149.42 1658.4,973.84 1516.5,973.84Z" fill="#5BA86E" stroke="#5BA86E"/>
<path d="M1516.5,982.71C1658.4,982.71 1658.4,681.40 1800.3,681.40L1800.3,688.78C1658.4,688.78 1658.4,989.99 1516.5,989.99Z" fill="#66B869" stroke="#66B869"/>
<path d="M1516.5,988.00C1658.4,988.00 1658.4,819.62 1800.3,819.62L1800.3,824.23C1658.4,824.23 1658.4,992.52 1516.5,992.52Z" fill="#CBD43F" stroke="#CBD43F"/>
<path d="M1516.5,989.84C1658.4,989.84 1658.4,906.10 1800.3,906.10L1800.3,910.10C1658.4,910.10 1658.4,993.84 1516.5,993.84Z" fill="#F6CEE0" stroke="#F6CEE0"/>
<path d="M1516.5,990.82C1658.4,990.82 1658.4,982.47 1800.3,982.47L1800.3,986.47C1658.4,986.47 1658.4,994.82 1516.5,994.82Z" fill="#6D4A98" stroke="#6D4A98"/>
<path d="M1516.5,991.90C1658.4,991.90 1658.4,1101.00 1800.3,1101.00L1800.3,1105.00C1658.4,1105.00 1658.4,995.90 1516.5,995.90Z" fill="#F3E443" stroke="#F3E443"/>
<path d="M1516.5,1000.27C1658.4,1000.27 1658.4,821.62 1800.3,821.62L1800.3,825.62C1658.4,825.62 1658.4,1004.27 1516.5,1004.27Z" fill="#CBD43F" stroke="#CBD43F"/>
<path d="M1516.5,1001.38C1658.4,1001.38 1658.4,907.20 1800.3,907.20L1800.3,911.20C1658.4,911.20 1658.4,1005.38 1516.5,1005.38Z" fill="#F6CEE0" stroke="#F6CEE0"/>
<path d="M1516.5,1003.10C1658.4,1003.10 1658.4,942.65 1800.3,942.65L1800.3,950.05C1658.4,950.05 1658.4,1010.30 1516.5,1010.30Z" fill="#C497C6" stroke="#C497C6"/>
<path d="M1516.5,1008.23C1658.4,1008.23 1658.4,1035.50 1800.3,1035.50L1800.3,1039.50C1658.4,1039.50 1658.4,1012.23 1516.5,1012.23Z" fill="#B97B59" stroke="#B97B59"/>
<path d="M1516.5,1009.18C1658.4,1009.18 1658.4,1069.37 1800.3,1069.37L1800.3,1073.37C1658.4,1073.37 1658.4,1013.18 1516.5,1013.18Z" fill="#405A40" stroke="#405A40"/>
<path d="M1516.5,1017.19C1658.4,1017.19 1658.4,686.91 1800.3,686.91L1800.3,693.67C1658.4,693.67 1658.4,1023.87 1516.5,1023.87Z" fill="#66B869" stroke="#66B869"/>
<path d="M1516.5,1021.17C1658.4,1021.17 1658.4,822.43 1800.3,822.43L1800.3,826.43C1658.4,826.43 1658.4,1025.17 1516.5,1025.17Z" fill="#CBD43F" stroke="#CBD43F"/>
<path d="M1516.5,1021.80C1658.4,1021.80 1658.4,908.20 1800.3,908.20L1800.3,912.20C1658.4,912.20 1658.4,1025.80 1516.5,1025.80Z" fill="#F6CEE0" stroke="#F6CEE0"/>
<path d="M1516.5,1022.64C1658.4,1022.64 1658.4,1113.26 1800.3,1113.26L1800.3,1117.26C1658.4,1117.26 1658.4,1026.64 1516.5,1026.64Z" fill="#2A76AE" stroke="#2A76AE"/>
<path d="M1516.5,1024.05C1658.4,1024.05 1658.4,1126.80 1800.3,1126.80L1800.3,1131.05C1658.4,1131.05 1658.4,1028.10 1516.5,1028.10Z" fill="#E8786F" stroke="#E8786F"/>
<path d="M1516.5,1032.25C1658.4,1032.25 1658.4,983.66 1800.3,983.66L1800.3,987.66C1658.4,987.66 1658.4,1036.25 1516.5,1036.25Z" fill="#6D4A98" stroke="#6D4A98"/>
<path d="M1516.5,1033.73C1658.4,1033.73 1658.4,1005.32 1800.3,1005.32L1800.3,1012.03C1658.4,1012.03 1658.4,1040.10 1516.5,1040.10Z" fill="#F1BC6C" stroke="#F1BC6C"/>
<path d="M1516.5,1037.36C1658.4,1037.36 1658.4,1055.25 1800.3,1055.25L1800.3,1059.25C1658.4,1059.25 1658.4,1041.36 1516.5,1041.36Z" fill="#6E6E6E" stroke="#6E6E6E"/>
<path d="M1516.5,1038.03C1658.4,1038.03 1658.4,1069.87 1800.3,1069.87L1800.3,1073.87C1658.4,1073.87 1658.4,1042.03 1516.5,1042.03Z" fill="#405A40" stroke="#405A40"/>
<path d="M1516.5,1039.04C1658.4,1039.04 1658.4,1086.52 1800.3,1086.52L1800.3,1090.52C1658.4,1090.52 1658.4,1043.04 1516.5,1043.04Z" fill="#EE8C3F" stroke="#EE8C3F"/>
<path d="M1516.5,1047.10C1658.4,1047.10 1658.4,691.57 1800.3,691.57L1800.3,696.16C1658.4,696.16 1658.4,1051.63 1516.5,1051.63Z" fill="#66B869" stroke="#66B869"/>
<path d="M1516.5,1048.73C1658.4,1048.73 1658.4,822.96 1800.3,822.96L1800.3,826.96C1658.4,826.96 1658.4,1052.73 1516.5,1052.73Z" fill="#CBD43F" stroke="#CBD43F"/>
<path d="M1516.5,1049.82C1658.4,1049.82 1658.4,948.08 1800.3,948.08L1800.3,953.66C1658.4,953.66 1658.4,1055.23 1516.5,1055.23Z" fill="#C497C6" stroke="#C497C6"/>
<path d="M1516.5,1052.40C1658.4,1052.40 1658.4,1101.82 1800.3,1101.82L1800.3,1105.82C1658.4,1105.82 1658.4,1056.40 1516.5,1056.40Z" fill="#F3E443" stroke="#F3E443"/>
<path d="M1516.5,1053.16C1658.4,1053.16 1658.4,1114.35 1800.3,1114.35L1800.3,1118.35C1658.4,1118.35 1658.4,1057.16 1516.5,1057.16Z" fill="#2A76AE" stroke="#2A76AE"/>
<path d="M1516.5,1053.78C1658.4,1053.78 1658.4,1136.01 1800.3,1136.01L1800.3,1140.01C1658.4,1140.01 1658.4,1057.78 1516.5,1057.78Z" fill="#C5B0D5" stroke="#C5B0D5"/>
<path d="M1516.5,1060.74C1658.4,1060.74 1658.4,694.12 1800.3,694.12L1800.3,701.13C1658.4,701.13 1658.4,1067.67 1516.5,1067.67Z" fill="#66B869" stroke="#66B869"/>
<path d="M1516.5,1064.86C1658.4,1064.86 1658.4,950.72 1800.3,950.72L1800.3,954.72C1658.4,954.72 1658.4,1068.86 1516.5,1068.86Z" fill="#C497C6" stroke="#C497C6"/>
<path d="M1516.5,1065.34C1658.4,1065.34 1658.4,984.60 1800.3,984.60L1800.3,988.60C1658.4,988.60 1658.4,1069.34 1516.5,1069.34Z" fill="#6D4A98" stroke="#6D4A98"/>
<path d="M1516.5,1065.80C1658.4,1065.80 1658.4,1036.53 1800.3,1036.53L1800.3,1040.53C1658.4,1040.53 1658.4,1069.80 1516.5,1069.80Z" fill="#B97B59" stroke="#B97B59"/>
<path d="M1516.5,1066.66C1658.4,1066.66 1658.4,1136.92 1800.3,1136.92L1800.3,1140.92C1658.4,1140.92 1658.4,1070.66 1516.5,1070.66Z" fill="#C5B0D5" stroke="#C5B0D5"/>
<path d="M1516.5,1073.41C1658.4,1073.41 1658.4,699.31 1800.3,699.31L1800.3,706.69C1658.4,706.69 1658.4,1080.69 1516.5,1080.69Z" fill="#66B869" stroke="#66B869"/>
<path d="M1516.5,1077.92C1658.4,1077.92 1658.4,908.67 1800.3,908.67L1800.3,912.67C1658.4,912.67 1658.4,1081.92 1516.5,1081.92Z" fill="#F6CEE0" stroke="#F6CEE0"/>
<path d="M1516.5,1078.21C1658.4,1078.21 1658.4,985.13 1800.3,985.13L1800.3,989.13C1658.4,989.13 1658.4,1082.21 1516.5,1082.21Z" fill="#6D4A98" stroke="#6D4A98"/>
<path d="M1516.5,1078.88C1658.4,1078.88 1658.4,1009.60 1800.3,1009.60L1800.3,1013.60C1658.4,1013.60 1658.4,1082.88 1516.5,1082.88Z" fill="#F1BC6C" stroke="#F1BC6C"/>
<path d="M1516.5,1079.45C1658.4,1079.45 1658.4,1070.29 1800.3,1070.29L1800.3,1074.29C1658.4,1074.29 1658.4,1083.45 1516.5,1083.45Z" fill="#405A40" stroke="#405A40"/>
<path d="M1516.5,1085.70C1658.4,1085.70 1658.4,704.72 1800.3,704.72L1800.3,709.55C1658.4,709.55 1658.4,1090.47 1516.5,1090.47Z" fill="#66B869" stroke="#66B869"/>
<path d="M1516.5,1088.26C1658.4,1088.26 1658.4,824.06 1800.3,824.06L1800.3,828.10C1658.4,828.10 1658.4,1092.26 1516.5,1092.26Z" fill="#CBD43F" stroke="#CBD43F"/>
<path d="M1516.5,1089.41C1658.4,1089.41 1658.4,909.07 1800.3,909.07L1800.3,913.07C1658.4,913.07 1658.4,1093.41 1516.5,1093.41Z" fill="#F6CEE0" stroke="#F6CEE0"/>
<path d="M1516.5,1090.47C1658.4,1090.47 1658.4,1011.07 1800.3,1011.07L1800.3,1015.07C1658.4,1015.07 1658.4,1094.47 1516.5,1094.47Z" fill="#F1BC6C" stroke="#F1BC6C"/>
<path d="M1516.5,1091.39C1658.4,1091.39 1658.4,1128.08 1800.3,1128.08L1800.3,1132.08C1658.4,1132.08 1658.4,1095.39 1516.5,1095.39Z" fill="#E8786F" stroke="#E8786F"/>
<path d="M1516.5,1097.80C1658.4,1097.80 1658.4,707.27 1800.3,707.27L1800.3,711.27C1658.4,711.27 1658.4,1101.80 1516.5,1101.80Z" fill="#66B869" stroke="#66B869"/>
<path d="M1516.5,1099.27C1658.4,1099.27 1658.4,825.69 1800.3,825.69L1800.3,829.69C1658.4,829.69 1658.4,1103.27 1516.5,1103.27Z" fill="#CBD43F" stroke="#CBD43F"/>
<path d="M1516.5,1100.15C1658.4,1100.15 1658.4,1055.84 1800.3,1055.84L1800.3,1059.84C1658.4,1059.84 1658.4,1104.15 1516.5,1104.15Z" fill="#6E6E6E" stroke="#6E6E6E"/>
<path d="M1516.5,1101.27C1658.4,1101.27 1658.4,1071.24 1800.3,1071.24L1800.3,1075.70C1658.4,1075.70 1658.4,1105.56 1516.5,1105.56Z" fill="#405A40" stroke="#405A40"/>
<path d="M1516.5,1102.93C1658.4,1102.93 1658.4,1087.72 1800.3,1087.72L1800.3,1091.72C1658.4,1091.72 1658.4,1106.93 1516.5,1106.93Z" fill="#EE8C3F" stroke="#EE8C3F"/>
<path d="M1516.5,1109.30C1658.4,1109.30 1658.4,827.28 1800.3,827.28L1800.3,831.45C1658.4,831.45 1658.4,1113.39 1516.5,1113.39Z" fill="#CBD43F" stroke="#CBD43F"/>
<path d="M1516.5,1110.65C1658.4,1110.65 1658.4,909.72 1800.3,909.72L1800.3,913.72C1658.4,913.72 1658.4,1114.65 1516.5,1114.65Z" fill="#F6CEE0" stroke="#F6CEE0"/>
<path d="M1516.5,1111.41C1658.4,1111.41 1658.4,951.30 1800.3,951.30L1800.3,955.30C1658.4,955.30 1658.4,1115.41 1516.5,1115.41Z" fill="#C497C6" stroke="#C497C6"/>
<path d="M1516.5,1112.11C1658.4,1112.11 1658.4,985.62 1800.3,985.62L1800.3,989.62C1658.4,989.62 1658.4,1116.11 1516.5,1116.11Z" fill="#6D4A98" stroke="#6D4A98"/>
<path d="M1516.5,1113.11C1658.4,1113.11 1658.4,1073.35 1800.3,1073.35L1800.3,1077.35C1658.4,1077.35 1658.4,1117.11 1516.5,1117.11Z" fill="#405A40" stroke="#405A40"/>
<path d="M1516.5,1119.54C1658.4,1119.54 1658.4,708.75 1800.3,708.75L1800.3,712.75C1658.4,712.75 1658.4,1123.54 1516.5,1123.54Z" fill="#66B869" stroke="#66B869"/>
<path d="M1516.5,1121.09C1658.4,1121.09 1658.4,829.25 1800.3,829.25L1800.3,834.81C1658.4,834.81 1658.4,1126.52 1516.5,1126.52Z" fill="#CBD43F" stroke="#CBD43F"/>
<path d="M1516.5,1123.51C1658.4,1123.51 1658.4,986.03 1800.3,986.03L1800.3,990.03C1658.4,990.03 1658.4,1127.51 1516.5,1127.51Z" fill="#6D4A98" stroke="#6D4A98"/>
<path d="M1516.5,1123.66C1658.4,1123.66 1658.4,1036.73 1800.3,1036.73L1800.3,1040.73C1658.4,1040.73 1658.4,1127.66 1516.5,1127.66Z" fill="#B97B59" stroke="#B97B59"/>
<path d="M1516.5,1124.01C1658.4,1124.01 1658.4,1056.39 1800.3,1056.39L1800.3,1060.39C1658.4,1060.39 1658.4,1128.01 1516.5,1128.01Z" fill="#6E6E6E" stroke="#6E6E6E"/>
<path d="M1516.5,1129.92C1658.4,1129.92 1658.4,709.63 1800.3,709.63L1800.3,713.63C1658.4,713.63 1658.4,1133.92 1516.5,1133.92Z" fill="#66B869" stroke="#66B869"/>
<path d="M1516.5,1130.34C1658.4,1130.34 1658.4,831.92 1800.3,831.92L1800.3,835.92C1658.4,835.92 1658.4,1134.34 1516.5,1134.34Z" fill="#CBD43F" stroke="#CBD43F"/>
<path d="M1516.5,1130.77C1658.4,1130.77 1658.4,951.96 1800.3,951.96L1800.3,955.96C1658.4,955.96 1658.4,1134.77 1516.5,1134.77Z" fill="#C497C6" stroke="#C497C6"/>
<path d="M1516.5,1131.23C1658.4,1131.23 1658.4,986.37 1800.3,986.37L1800.3,990.37C1658.4,990.37 1658.4,1135.23 1516.5,1135.23Z" fill="#6D4A98" stroke="#6D4A98"/>
<path d="M1516.5,1132.36C1658.4,1132.36 1658.4,1012.87 1800.3,1012.87L1800.3,1019.00C1658.4,1019.00 1658.4,1138.10 1516.5,1138.10Z" fill="#F1BC6C" stroke="#F1BC6C"/>
<path d="M1516.5,1140.86C1658.4,1140.86 1658.4,710.63 1800.3,710.63L1800.3,714.63C1658.4,714.63 1658.4,1144.86 1516.5,1144.86Z" fill="#66B869" stroke="#66B869"/>
<path d="M1516.5,1142.17C1658.4,1142.17 1658.4,832.72 1800.3,832.72L1800.3,836.72C1658.4,836.72 1658.4,1146.17 1516.5,1146.17Z" fill="#CBD43F" stroke="#CBD43F"/>
<path d="M1516.5,1143.42C1658.4,1143.42 1658.4,987.36 1800.3,987.36L1800.3,991.36C1658.4,991.36 1658.4,1147.42 1516.5,1147.42Z" fill="#6D4A98" stroke="#6D4A98"/>
<path d="M1516.5,1144.20C1658.4,1144.20 1658.4,1088.31 1800.3,1088.31L1800.3,1092.31C1658.4,1092.31 1658.4,1148.20 1516.5,1148.20Z" fill="#EE8C3F" stroke="#EE8C3F"/>
<path d="M1516.5,1144.94C1658.4,1144.94 1658.4,1115.59 1800.3,1115.59L1800.3,1119.59C1658.4,1119.59 1658.4,1148.94 1516.5,1148.94Z" fill="#2A76AE" stroke="#2A76AE"/>
</g>
<rect x="1143.20" y="632.50" width="44.50" height="67.10" fill="#CBD43F" stroke="#000" stroke-width="2.0"/>
<rect x="1143.20" y="731.00" width="44.50" height="63.80" fill="#66B869" stroke="#000" stroke-width="2.0"/>
<rect x="1143.20" y="838.90" width="44.50" height="33.30" fill="#6D4A98" stroke="#000" stroke-width="2.0"/>
<rect x="1143.20" y="892.20" width="44.50" height="24.30" fill="#2A76AE" stroke="#000" stroke-width="2.0"/>
<rect x="1143.20" y="930.10" width="44.50" height="19.50" fill="#F6CEE0" stroke="#000" stroke-width="2.0"/>
<rect x="1143.20" y="959.80" width="44.50" height="19.80" fill="#405A40" stroke="#000" stroke-width="2.0"/>
<rect x="1143.20" y="992.50" width="44.50" height="14.20" fill="#EE8C3F" stroke="#000" stroke-width="2.0"/>
<rect x="1143.20" y="1015.10" width="44.50" height="13.40" fill="#C497C6" stroke="#000" stroke-width="2.0"/>
<rect x="1143.20" y="1036.60" width="44.50" height="11.90" fill="#ECAD6D" stroke="#000" stroke-width="2.0"/>
<rect x="1143.20" y="1056.60" width="44.50" height="10.50" fill="#F1BC6C" stroke="#000" stroke-width="2.0"/>
<rect x="1143.20" y="1073.70" width="44.50" height="10.30" fill="#6E6E6E" stroke="#000" stroke-width="2.0"/>
<rect x="1143.20" y="1090.60" width="44.50" height="9.40" fill="#8CB3D3" stroke="#000" stroke-width="2.0"/>
<rect x="1143.20" y="1106.60" width="44.50" height="8.80" fill="#A7CCE0" stroke="#000" stroke-width="2.0"/>
<rect x="1143.20" y="1121.40" width="44.50" height="8.30" fill="#F3E443" stroke="#000" stroke-width="2.0"/>
<rect x="1143.20" y="1136.00" width="44.50" height="8.30" fill="#B97B59" stroke="#000" stroke-width="2.0"/>
<rect x="1471.80" y="640.40" width="44.70" height="50.80" fill="#C4D8B4" stroke="#000" stroke-width="2.0"/>
<rect x="1471.80" y="716.30" width="44.70" height="47.00" fill="#B2DEDA" stroke="#000" stroke-width="2.0"/>
<rect x="1471.80" y="790.00" width="44.70" height="37.20" fill="#BBDDA5" stroke="#000" stroke-width="2.0"/>
<rect x="1471.80" y="846.40" width="44.70" height="32.80" fill="#A1D6CB" stroke="#000" stroke-width="2.0"/>
<rect x="1471.80" y="901.70" width="44.70" height="18.60" fill="#96D3DE" stroke="#000" stroke-width="2.0"/>
<rect x="1471.80" y="932.60" width="44.70" height="15.30" fill="#8ED0E8" stroke="#000" stroke-width="2.0"/>
<rect x="1471.80" y="957.20" width="44.70" height="14.90" fill="#9FBDE3" stroke="#000" stroke-width="2.0"/>
<rect x="1471.80" y="983.60" width="44.70" height="10.80" fill="#C8B3D9" stroke="#000" stroke-width="2.0"/>
<rect x="1471.80" y="1001.80" width="44.70" height="9.50" fill="#C7C3E1" stroke="#000" stroke-width="2.0"/>
<rect x="1471.80" y="1018.20" width="44.70" height="8.80" fill="#E3C0E0" stroke="#000" stroke-width="2.0"/>
<rect x="1471.80" y="1033.70" width="44.70" height="8.00" fill="#F8CCD3" stroke="#000" stroke-width="2.0"/>
<rect x="1471.80" y="1048.20" width="44.70" height="7.70" fill="#FBE3D3" stroke="#000" stroke-width="2.0"/>
<rect x="1471.80" y="1061.70" width="44.70" height="7.70" fill="#F6F1C8" stroke="#000" stroke-width="2.0"/>
<rect x="1471.80" y="1074.30" width="44.70" height="7.20" fill="#F29A98" stroke="#000" stroke-width="2.0"/>
<rect x="1471.80" y="1086.80" width="44.70" height="6.70" fill="#F5AE98" stroke="#000" stroke-width="2.0"/>
<rect x="1471.80" y="1099.00" width="44.70" height="6.40" fill="#F5C59A" stroke="#000" stroke-width="2.0"/>
<rect x="1471.80" y="1110.40" width="44.70" height="5.40" fill="#F6DA9A" stroke="#000" stroke-width="2.0"/>
<rect x="1471.80" y="1120.90" width="44.70" height="5.40" fill="#E8E6A9" stroke="#000" stroke-width="2.0"/>
<rect x="1471.80" y="1131.70" width="44.70" height="5.30" fill="#C6DFB8" stroke="#000" stroke-width="2.0"/>
<rect x="1471.80" y="1142.10" width="44.70" height="5.50" fill="#B3E1DC" stroke="#000" stroke-width="2.0"/>
<rect x="1800.30" y="618.60" width="44.70" height="94.80" fill="#66B869" stroke="#000" stroke-width="2.0"/>
<rect x="1800.30" y="770.60" width="44.70" height="64.70" fill="#CBD43F" stroke="#000" stroke-width="2.0"/>
<rect x="1800.30" y="881.50" width="44.70" height="30.60" fill="#F6CEE0" stroke="#000" stroke-width="2.0"/>
<rect x="1800.30" y="928.10" width="44.70" height="26.10" fill="#C497C6" stroke="#000" stroke-width="2.0"/>
<rect x="1800.30" y="968.30" width="44.70" height="21.80" fill="#6D4A98" stroke="#000" stroke-width="2.0"/>
<rect x="1800.30" y="1004.20" width="44.70" height="13.70" fill="#F1BC6C" stroke="#000" stroke-width="2.0"/>
<rect x="1800.30" y="1025.80" width="44.70" height="13.00" fill="#B97B59" stroke="#000" stroke-width="2.0"/>
<rect x="1800.30" y="1046.40" width="44.70" height="12.30" fill="#6E6E6E" stroke="#000" stroke-width="2.0"/>
<rect x="1800.30" y="1067.10" width="44.70" height="9.00" fill="#405A40" stroke="#000" stroke-width="2.0"/>
<rect x="1800.30" y="1081.90" width="44.70" height="8.50" fill="#EE8C3F" stroke="#000" stroke-width="2.0"/>
<rect x="1800.30" y="1095.60" width="44.70" height="8.50" fill="#F3E443" stroke="#000" stroke-width="2.0"/>
<rect x="1800.30" y="1109.30" width="44.70" height="9.00" fill="#2A76AE" stroke="#000" stroke-width="2.0"/>
<rect x="1800.30" y="1125.20" width="44.70" height="5.00" fill="#E8786F" stroke="#000" stroke-width="2.0"/>
<rect x="1800.30" y="1134.20" width="44.70" height="5.50" fill="#C5B0D5" stroke="#000" stroke-width="2.0"/>
<rect x="1800.30" y="1143.80" width="44.70" height="3.90" fill="#5BA86E" stroke="#000" stroke-width="2.0"/>
<text x="1193.5" y="671.9" font-size="16" fill="#2A3F5F" stroke="#2A3F5F" stroke-width="0.22">Thiotrichales</text>
<text x="1193.5" y="768.8" font-size="16" fill="#2A3F5F" stroke="#2A3F5F" stroke-width="0.22">Methylococcales</text>
<text x="1193.5" y="861.4" font-size="16" fill="#2A3F5F" stroke="#2A3F5F" stroke-width="0.22">Bacteroidales</text>
<text x="1193.5" y="910.2" font-size="16" fill="#2A3F5F" stroke="#2A3F5F" stroke-width="0.22">Flavobacteriales</text>
<text x="1193.5" y="945.8" font-size="16" fill="#2A3F5F" stroke="#2A3F5F" stroke-width="0.22">Pseudomonadales</text>
<text x="1193.5" y="975.6" font-size="16" fill="#2A3F5F" stroke="#2A3F5F" stroke-width="0.22">SAR324</text>
<text x="1193.5" y="1005.5" font-size="16" fill="#2A3F5F" stroke="#2A3F5F" stroke-width="0.22">Desulfuromonadales</text>
<text x="1193.5" y="1027.7" font-size="16" fill="#2A3F5F" stroke="#2A3F5F" stroke-width="0.22">Campylobacterales</text>
<text x="1193.5" y="1048.5" font-size="16" fill="#2A3F5F" stroke="#2A3F5F" stroke-width="0.22">GCA-2401425</text>
<text x="1193.5" y="1067.8" font-size="16" fill="#2A3F5F" stroke="#2A3F5F" stroke-width="0.22">Acidimicrobiales</text>
<text x="1193.5" y="1084.8" font-size="16" fill="#2A3F5F" stroke="#2A3F5F" stroke-width="0.22">Nitrosococcales</text>
<text x="1193.5" y="1101.2" font-size="16" fill="#2A3F5F" stroke="#2A3F5F" stroke-width="0.22">Sphingomonadales</text>
<text x="1193.5" y="1116.9" font-size="16" fill="#2A3F5F" stroke="#2A3F5F" stroke-width="0.22">Kapabacteriales</text>
<text x="1193.5" y="1131.5" font-size="16" fill="#2A3F5F" stroke="#2A3F5F" stroke-width="0.22">Enterobacterales</text>
<text x="1193.5" y="1146.1" font-size="16" fill="#2A3F5F" stroke="#2A3F5F" stroke-width="0.22">Marinisomatales</text>
<text x="1522.4" y="670.6" font-size="14" fill="#2A3F5F" stroke="#2A3F5F" stroke-width="0.22">Phosphate</text>
<text x="1522.4" y="744.6" font-size="14" fill="#2A3F5F" stroke="#2A3F5F" stroke-width="0.22">Benzoate</text>
<text x="1522.4" y="813.4" font-size="14" fill="#2A3F5F" stroke="#2A3F5F" stroke-width="0.22">O<tspan dy="2.8">2</tspan></text>
<text x="1522.4" y="867.6" font-size="14" fill="#2A3F5F" stroke="#2A3F5F" stroke-width="0.22">Uracil</text>
<text x="1522.4" y="915.8" font-size="14" fill="#2A3F5F" stroke="#2A3F5F" stroke-width="0.22">Nitrite</text>
<text x="1522.4" y="945.0" font-size="14" fill="#2A3F5F" stroke="#2A3F5F" stroke-width="0.22">Hydrogen sulfide</text>
<text x="1522.4" y="969.5" font-size="14" fill="#2A3F5F" stroke="#2A3F5F" stroke-width="0.22">Guanine</text>
<text x="1522.4" y="993.8" font-size="14" fill="#2A3F5F" stroke="#2A3F5F" stroke-width="0.22">Glycolate C<tspan dy="2.8">2</tspan><tspan dy="-2.8">H</tspan><tspan dy="2.8">3</tspan><tspan dy="-2.8">O</tspan><tspan dy="2.8">3</tspan></text>
<text x="1522.4" y="1011.3" font-size="14" fill="#2A3F5F" stroke="#2A3F5F" stroke-width="0.22">Iron (Fe<tspan dy="-4.9">3+</tspan><tspan dy="4.9">)</tspan></text>
<text x="1522.4" y="1027.4" font-size="14" fill="#2A3F5F" stroke="#2A3F5F" stroke-width="0.22">Acetaldehyde</text>
<text x="1522.4" y="1042.5" font-size="14" fill="#2A3F5F" stroke="#2A3F5F" stroke-width="0.22">L-Glutamate</text>
<text x="1522.4" y="1056.9" font-size="14" fill="#2A3F5F" stroke="#2A3F5F" stroke-width="0.22">Ferrypyoverdine</text>
<text x="1522.4" y="1070.4" font-size="14" fill="#2A3F5F" stroke="#2A3F5F" stroke-width="0.22">Pyoverdine</text>
<text x="1522.4" y="1082.7" font-size="14" fill="#2A3F5F" stroke="#2A3F5F" stroke-width="0.22">Copper</text>
<text x="1522.4" y="1095.0" font-size="14" fill="#2A3F5F" stroke="#2A3F5F" stroke-width="0.22">Sulfur</text>
<text x="1522.4" y="1107.0" font-size="14" fill="#2A3F5F" stroke="#2A3F5F" stroke-width="0.22">Thiosulfate</text>
<text x="1522.4" y="1117.9" font-size="14" fill="#2A3F5F" stroke="#2A3F5F" stroke-width="0.22">Ammonium</text>
<text x="1522.4" y="1128.4" font-size="14" fill="#2A3F5F" stroke="#2A3F5F" stroke-width="0.22">Glycolaldehyde</text>
<text x="1522.4" y="1139.1" font-size="14" fill="#2A3F5F" stroke="#2A3F5F" stroke-width="0.22">Ornithine</text>
<text x="1522.4" y="1149.6" font-size="14" fill="#2A3F5F" stroke="#2A3F5F" stroke-width="0.22">Coenzyme A</text>
<text x="1852.4" y="671.2" font-size="16" fill="#2A3F5F" stroke="#2A3F5F" stroke-width="0.22">Methylococcales</text>
<text x="1852.4" y="808.2" font-size="16" fill="#2A3F5F" stroke="#2A3F5F" stroke-width="0.22">Thiotrichales</text>
<text x="1852.4" y="902.0" font-size="16" fill="#2A3F5F" stroke="#2A3F5F" stroke-width="0.22">Pseudomonadales</text>
<text x="1852.4" y="946.4" font-size="16" fill="#2A3F5F" stroke="#2A3F5F" stroke-width="0.22">Campylobacterales</text>
<text x="1852.4" y="984.4" font-size="16" fill="#2A3F5F" stroke="#2A3F5F" stroke-width="0.22">Bacteroidales</text>
<text x="1852.4" y="1016.2" font-size="16" fill="#2A3F5F" stroke="#2A3F5F" stroke-width="0.22">Acidimicrobiales</text>
<text x="1852.4" y="1037.5" font-size="16" fill="#2A3F5F" stroke="#2A3F5F" stroke-width="0.22">Marinisomatales</text>
<text x="1852.4" y="1057.8" font-size="16" fill="#2A3F5F" stroke="#2A3F5F" stroke-width="0.22">Nitrosococcales</text>
<text x="1852.4" y="1076.8" font-size="16" fill="#2A3F5F" stroke="#2A3F5F" stroke-width="0.22">SAR324</text>
<text x="1852.4" y="1091.4" font-size="16" fill="#2A3F5F" stroke="#2A3F5F" stroke-width="0.22">Desulfuromonadales</text>
<text x="1852.4" y="1105.0" font-size="16" fill="#2A3F5F" stroke="#2A3F5F" stroke-width="0.22">Enterobacterales</text>
<text x="1852.4" y="1119.0" font-size="16" fill="#2A3F5F" stroke="#2A3F5F" stroke-width="0.22">Flavobacteriales</text>
<text x="1852.4" y="1132.9" font-size="16" fill="#2A3F5F" stroke="#2A3F5F" stroke-width="0.22">Nitrososphaerales</text>
<text x="1852.4" y="1142.2" font-size="16" fill="#2A3F5F" stroke="#2A3F5F" stroke-width="0.22">UBA1177</text>
<text x="1852.4" y="1151.0" font-size="16" fill="#2A3F5F" stroke="#2A3F5F" stroke-width="0.22">Mycoplasmatales</text>
<text x="0.6" y="23.6" font-size="34" fill="#231815">A</text>
<text x="1080.5" y="24.8" font-size="34" fill="#231815">B</text>
<text x="-2.5" y="667.2" font-size="34" fill="#231815">C</text>
<text x="1079.2" y="665.0" font-size="34" fill="#231815">D</text>
</svg>
</body></html>
